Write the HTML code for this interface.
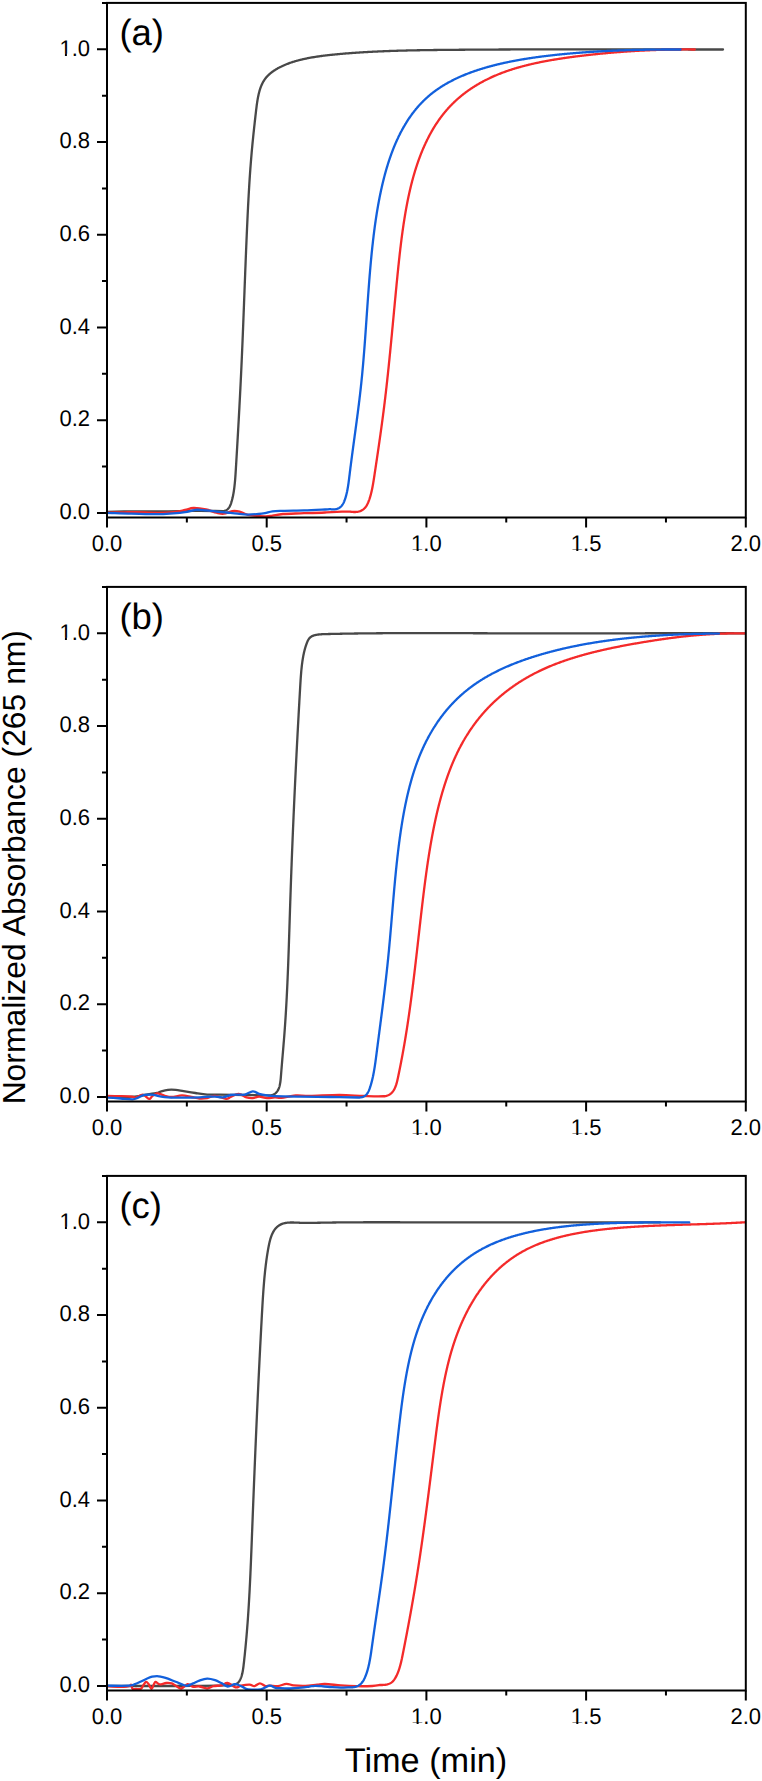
<!DOCTYPE html><html><head><meta charset="utf-8"><style>html,body{margin:0;padding:0;background:#fff;}svg{display:block}text{font-family:"Liberation Sans",sans-serif;fill:#000;text-rendering:geometricPrecision}</style></head><body>
<svg width="762" height="1781" viewBox="0 0 762 1781">
<rect width="762" height="1781" fill="#fff"/>
<path d="M107.0,511.8 C111.9,511.7 127.7,511.4 136.5,511.3 C145.3,511.2 151.9,511.5 160.0,511.5 C168.1,511.5 178.3,511.3 185.0,511.2 C191.7,511.1 195.0,510.8 200.0,510.8 C205.0,510.8 211.2,510.9 215.0,511.0 C218.8,511.1 221.6,511.1 222.9,511.1 L222.93,511.13 223.64,511.04 224.30,510.90 224.93,510.73 225.51,510.51 226.06,510.26 226.58,509.98 227.06,509.66 227.51,509.31 227.93,508.93 228.32,508.52 228.69,508.09 229.03,507.63 229.35,507.15 229.64,506.64 229.92,506.12 230.18,505.58 230.42,505.02 230.65,504.45 230.87,503.87 231.07,503.27 231.27,502.67 231.45,502.05 231.64,501.44 231.81,500.81 231.98,500.18 232.15,499.55 232.31,498.91 232.46,498.26 232.62,497.62 232.76,496.96 232.90,496.30 233.04,495.64 233.17,494.97 233.30,494.30 233.42,493.62 233.54,492.94 233.65,492.25 233.76,491.56 233.87,490.87 233.97,490.17 234.07,489.47 234.17,488.77 234.26,488.06 234.35,487.35 234.44,486.64 234.52,485.92 234.60,485.20 234.68,484.48 234.75,483.75 234.82,483.02 234.89,482.29 234.96,481.56 235.03,480.83 235.09,480.09 235.15,479.35 235.21,478.61 235.27,477.87 235.33,477.13 235.38,476.38 235.43,475.63 235.49,474.89 235.54,474.14 235.59,473.39 235.63,472.63 235.68,471.88 235.73,471.13 235.78,470.38 235.82,469.62 235.87,468.87 235.91,468.11 235.96,467.36 236.00,466.60 236.05,465.85 236.10,465.10 236.14,464.34 236.19,463.59 236.23,462.83 236.28,462.08 236.32,461.32 236.37,460.57 236.41,459.81 236.46,459.06 236.50,458.30 236.55,457.55 236.59,456.79 236.64,456.04 236.68,455.28 236.73,454.53 236.77,453.77 236.81,453.01 236.86,452.26 236.90,451.50 236.95,450.75 236.99,449.99 237.04,449.24 237.08,448.48 237.13,447.73 237.17,446.97 237.21,446.21 237.26,445.46 237.30,444.70 237.35,443.95 237.39,443.19 237.43,442.43 237.48,441.68 237.52,440.92 237.56,440.16 237.61,439.41 237.65,438.65 237.70,437.90 237.74,437.14 237.78,436.38 237.83,435.63 237.87,434.87 237.91,434.11 237.95,433.35 238.00,432.60 238.04,431.84 238.08,431.08 238.13,430.33 238.17,429.57 238.21,428.81 238.25,428.05 238.30,427.30 238.34,426.54 238.38,425.78 238.42,425.02 238.47,424.27 238.51,423.51 238.55,422.75 238.59,421.99 238.64,421.24 238.68,420.48 238.72,419.72 238.76,418.96 238.80,418.20 238.84,417.44 238.89,416.69 238.93,415.93 238.97,415.17 239.01,414.41 239.05,413.65 239.09,412.89 239.13,412.13 239.17,411.37 239.22,410.62 239.26,409.86 239.30,409.10 239.34,408.34 239.38,407.58 239.42,406.82 239.46,406.06 239.50,405.30 239.54,404.54 239.58,403.78 239.62,403.02 239.66,402.26 239.70,401.50 239.74,400.74 239.78,399.98 239.82,399.22 239.86,398.46 239.90,397.70 239.94,396.94 239.98,396.18 240.02,395.42 240.06,394.66 240.09,393.89 240.13,393.13 240.17,392.37 240.21,391.61 240.25,390.85 240.29,390.09 240.33,389.33 240.37,388.57 240.40,387.80 240.44,387.04 240.48,386.28 240.52,385.52 240.56,384.76 240.59,383.99 240.63,383.23 240.67,382.47 240.71,381.71 240.74,380.94 240.78,380.18 240.82,379.42 240.86,378.66 240.89,377.89 240.93,377.13 240.97,376.37 241.00,375.60 241.04,374.84 241.08,374.08 241.11,373.31 241.15,372.55 241.18,371.78 241.22,371.02 241.26,370.26 241.29,369.49 241.33,368.73 241.36,367.96 241.40,367.20 241.43,366.43 241.47,365.67 241.50,364.90 241.54,364.14 241.57,363.37 241.61,362.61 241.64,361.84 241.68,361.08 241.71,360.31 241.75,359.55 241.78,358.78 241.81,358.01 241.85,357.25 241.88,356.48 241.92,355.72 241.95,354.95 241.98,354.18 242.02,353.42 242.05,352.65 242.08,351.88 242.12,351.12 242.15,350.35 242.18,349.58 242.21,348.81 242.25,348.05 242.28,347.28 242.31,346.51 242.34,345.74 242.38,344.98 242.41,344.21 242.44,343.44 242.47,342.67 242.51,341.91 242.54,341.14 242.57,340.37 242.60,339.60 242.63,338.83 242.66,338.06 242.70,337.30 242.73,336.53 242.76,335.76 242.79,334.99 242.82,334.22 242.85,333.45 242.88,332.68 242.91,331.91 242.94,331.14 242.98,330.38 243.01,329.61 243.04,328.84 243.07,328.07 243.10,327.30 243.13,326.53 243.16,325.76 243.19,324.99 243.22,324.22 243.25,323.45 243.28,322.68 243.31,321.91 243.34,321.14 243.37,320.37 243.40,319.60 243.43,318.83 243.46,318.06 243.49,317.29 243.52,316.52 243.55,315.75 243.58,314.98 243.61,314.21 243.64,313.44 243.67,312.67 243.70,311.90 243.73,311.13 243.76,310.36 243.79,309.59 243.82,308.82 243.85,308.05 243.88,307.28 243.91,306.51 243.94,305.74 243.97,304.97 244.00,304.20 244.03,303.43 244.06,302.66 244.08,301.88 244.11,301.11 244.14,300.34 244.17,299.57 244.20,298.80 244.23,298.03 244.26,297.26 244.29,296.49 244.32,295.72 244.35,294.95 244.38,294.18 244.41,293.41 244.44,292.64 244.47,291.87 244.50,291.10 244.52,290.32 244.55,289.55 244.58,288.78 244.61,288.01 244.64,287.24 244.67,286.47 244.70,285.70 244.73,284.93 244.76,284.16 244.79,283.39 244.82,282.62 244.85,281.85 244.88,281.08 244.91,280.31 244.94,279.54 244.97,278.77 245.00,278.00 245.03,277.23 245.06,276.46 245.09,275.69 245.12,274.92 245.15,274.15 245.18,273.38 245.20,272.60 245.23,271.83 245.26,271.06 245.29,270.29 245.32,269.52 245.35,268.75 245.38,267.98 245.42,267.22 245.45,266.45 245.48,265.68 245.51,264.91 245.54,264.14 245.57,263.37 245.60,262.60 245.63,261.83 245.66,261.06 245.69,260.29 245.72,259.52 245.75,258.75 245.78,257.98 245.81,257.21 245.84,256.44 245.87,255.67 245.91,254.91 245.94,254.14 245.97,253.37 246.00,252.60 246.03,251.83 246.06,251.06 246.09,250.29 246.12,249.52 246.16,248.76 246.19,247.99 246.22,247.22 246.25,246.45 246.28,245.68 246.32,244.92 246.35,244.15 246.38,243.38 246.41,242.61 246.45,241.85 246.48,241.08 246.51,240.31 246.54,239.54 246.58,238.78 246.61,238.01 246.64,237.24 246.68,236.48 246.71,235.71 246.74,234.94 246.78,234.18 246.81,233.41 246.84,232.64 246.88,231.88 246.91,231.11 246.94,230.34 246.98,229.58 247.01,228.81 247.05,228.05 247.08,227.28 247.12,226.52 247.15,225.75 247.19,224.99 247.22,224.22 247.26,223.46 247.29,222.69 247.33,221.93 247.36,221.16 247.40,220.40 247.43,219.63 247.47,218.87 247.50,218.10 247.54,217.34 247.58,216.58 247.61,215.81 247.65,215.05 247.69,214.29 247.72,213.52 247.76,212.76 247.80,212.00 247.83,211.23 247.87,210.47 247.91,209.71 247.95,208.95 247.99,208.19 248.02,207.42 248.06,206.66 248.10,205.90 248.14,205.14 248.18,204.38 248.22,203.62 248.26,202.86 248.30,202.10 248.34,201.34 248.38,200.58 248.42,199.82 248.46,199.06 248.50,198.30 248.54,197.54 248.59,196.79 248.63,196.03 248.67,195.27 248.71,194.51 248.75,193.75 248.80,193.00 248.84,192.24 248.88,191.48 248.93,190.73 248.97,189.97 249.02,189.22 249.06,188.46 249.11,187.71 249.15,186.95 249.20,186.20 249.24,185.44 249.29,184.69 249.34,183.94 249.38,183.18 249.43,182.43 249.48,181.68 249.53,180.93 249.58,180.18 249.63,179.43 249.67,178.67 249.72,177.92 249.77,177.17 249.82,176.42 249.88,175.68 249.93,174.93 249.98,174.18 250.03,173.43 250.08,172.68 250.13,171.93 250.19,171.19 250.24,170.44 250.30,169.70 250.35,168.95 250.40,168.20 250.46,167.46 250.52,166.72 250.57,165.97 250.63,165.23 250.69,164.49 250.74,163.74 250.80,163.00 250.86,162.26 250.92,161.52 250.98,160.78 251.04,160.04 251.10,159.30 251.16,158.56 251.22,157.82 251.28,157.08 251.35,156.35 251.41,155.61 251.47,154.87 251.54,154.14 251.60,153.40 251.66,152.66 251.73,151.93 251.80,151.20 251.86,150.46 251.93,149.73 252.00,149.00 252.06,148.26 252.13,147.53 252.20,146.80 252.27,146.07 252.34,145.34 252.41,144.61 252.48,143.88 252.55,143.15 252.62,142.42 252.70,141.70 252.77,140.97 252.84,140.24 252.91,139.51 252.99,138.79 253.06,138.06 253.13,137.33 253.21,136.61 253.28,135.88 253.36,135.16 253.43,134.43 253.51,133.71 253.59,132.99 253.66,132.26 253.74,131.54 253.82,130.82 253.89,130.09 253.97,129.37 254.05,128.65 254.13,127.93 254.21,127.21 254.29,126.49 254.36,125.76 254.44,125.04 254.52,124.32 254.60,123.60 254.68,122.88 254.76,122.16 254.84,121.44 254.92,120.72 255.00,120.00 255.09,119.29 255.17,118.57 255.25,117.85 255.33,117.13 255.41,116.41 255.49,115.69 255.58,114.98 255.66,114.26 255.74,113.54 255.82,112.82 255.91,112.11 255.99,111.39 256.07,110.67 256.16,109.96 256.24,109.24 256.33,108.53 256.42,107.82 256.51,107.11 256.60,106.40 256.69,105.69 256.78,104.98 256.88,104.28 256.98,103.58 257.08,102.88 257.19,102.19 257.29,101.49 257.40,100.80 257.52,100.12 257.63,99.43 257.75,98.75 257.88,98.08 258.00,97.40 258.13,96.73 258.27,96.07 258.41,95.41 258.55,94.75 258.70,94.10 258.86,93.46 259.01,92.81 259.18,92.18 259.35,91.55 259.52,90.92 259.70,90.30 259.89,89.69 260.08,89.08 260.28,88.48 260.48,87.88 260.69,87.29 260.91,86.71 261.14,86.14 261.37,85.57 261.61,85.01 261.85,84.45 262.10,83.90 262.37,83.37 262.63,82.83 262.91,82.31 263.20,81.80 263.49,81.29 263.79,80.79 264.10,80.30 264.42,79.82 264.75,79.35 265.09,78.89 265.43,78.43 265.78,77.98 266.14,77.54 266.51,77.11 266.89,76.69 267.27,76.27 267.66,75.86 268.06,75.46 268.46,75.06 268.87,74.67 269.29,74.29 269.71,73.91 270.14,73.54 270.58,73.18 271.02,72.82 271.47,72.47 271.92,72.12 272.38,71.78 272.85,71.45 273.32,71.12 273.79,70.79 274.27,70.47 274.76,70.16 275.25,69.85 275.74,69.54 276.24,69.24 276.74,68.94 277.25,68.65 277.76,68.36 278.27,68.07 278.79,67.79 279.32,67.52 279.84,67.24 280.37,66.97 280.91,66.71 281.44,66.44 281.98,66.18 282.53,65.93 283.08,65.68 283.63,65.43 284.19,65.19 284.75,64.95 285.31,64.71 285.88,64.48 286.45,64.25 287.02,64.02 287.60,63.80 288.18,63.58 288.76,63.36 289.35,63.15 289.94,62.94 290.53,62.73 291.13,62.53 291.73,62.33 292.33,62.13 292.94,61.94 293.55,61.75 294.16,61.56 294.77,61.37 295.39,61.19 296.01,61.01 296.63,60.83 297.26,60.66 297.89,60.49 298.52,60.32 299.16,60.16 299.79,59.99 300.44,59.84 301.08,59.68 301.72,59.52 302.37,59.37 303.02,59.22 303.67,59.07 304.33,58.93 304.99,58.79 305.65,58.65 306.31,58.51 306.97,58.37 307.64,58.24 308.31,58.11 308.98,57.98 309.66,57.86 310.33,57.73 311.01,57.61 311.69,57.49 312.37,57.37 313.06,57.26 313.74,57.14 314.43,57.03 315.12,56.92 315.81,56.81 316.50,56.70 317.20,56.60 317.89,56.49 318.59,56.39 319.29,56.29 320.00,56.20 320.70,56.10 321.40,56.00 322.11,55.91 322.82,55.82 323.53,55.73 324.24,55.64 324.95,55.55 325.66,55.46 326.38,55.38 327.10,55.30 327.81,55.21 328.53,55.13 329.25,55.05 329.97,54.97 330.70,54.90 331.42,54.82 332.14,54.74 332.87,54.67 333.59,54.59 334.32,54.52 335.05,54.45 335.78,54.38 336.51,54.31 337.24,54.24 337.97,54.17 338.70,54.10 339.43,54.03 340.17,53.97 340.90,53.90 341.64,53.84 342.37,53.77 343.11,53.71 343.85,53.65 344.58,53.58 345.32,53.52 346.06,53.46 346.80,53.40 347.54,53.34 348.28,53.28 349.03,53.23 349.77,53.17 350.51,53.11 351.26,53.06 352.00,53.00 352.75,52.95 353.49,52.89 354.24,52.84 354.99,52.79 355.74,52.74 356.48,52.68 357.23,52.63 357.98,52.58 358.73,52.53 359.49,52.49 360.24,52.44 360.99,52.39 361.74,52.34 362.50,52.30 363.25,52.25 364.01,52.21 364.76,52.16 365.52,52.12 366.27,52.07 367.03,52.03 367.79,51.99 368.55,51.95 369.31,51.91 370.07,51.87 370.83,51.83 371.59,51.79 372.35,51.75 373.11,51.71 373.87,51.67 374.63,51.63 375.40,51.60 376.16,51.56 376.93,51.53 377.69,51.49 378.46,51.46 379.22,51.42 379.99,51.39 380.75,51.35 381.52,51.32 382.29,51.29 383.06,51.26 383.83,51.23 384.60,51.20 385.37,51.17 386.14,51.14 386.91,51.11 387.68,51.08 388.45,51.05 389.22,51.02 389.99,50.99 390.77,50.97 391.54,50.94 392.31,50.91 393.09,50.89 393.86,50.86 394.64,50.84 395.41,50.81 396.19,50.79 396.96,50.76 397.74,50.74 398.52,50.72 399.30,50.70 400.07,50.67 400.85,50.65 401.63,50.63 402.41,50.61 403.19,50.59 403.97,50.57 404.75,50.55 405.53,50.53 406.31,50.51 407.09,50.49 407.87,50.47 408.65,50.45 409.44,50.44 410.22,50.42 411.00,50.40 411.78,50.38 412.57,50.37 413.35,50.35 414.13,50.33 414.92,50.32 415.70,50.30 416.49,50.29 417.27,50.27 418.06,50.26 418.84,50.24 419.63,50.23 420.42,50.22 421.20,50.20 421.99,50.19 422.78,50.18 423.56,50.16 424.35,50.15 425.14,50.14 425.93,50.13 426.71,50.11 427.50,50.10 428.29,50.09 429.08,50.08 429.87,50.07 430.66,50.06 431.45,50.05 432.24,50.04 433.03,50.03 433.82,50.02 434.61,50.01 435.40,50.00 436.19,49.99 436.98,49.98 437.77,49.97 438.56,49.96 439.35,49.95 440.14,49.94 440.93,49.93 441.73,49.93 442.52,49.92 443.31,49.91 444.10,49.90 444.89,49.89 445.69,49.89 446.48,49.88 447.27,49.87 448.06,49.86 448.86,49.86 449.65,49.85 450.44,49.84 451.24,49.84 452.03,49.83 452.82,49.82 453.61,49.81 454.41,49.81 455.20,49.80 455.99,49.79 456.79,49.79 457.58,49.78 458.38,49.78 459.17,49.77 459.96,49.76 460.76,49.76 461.55,49.75 462.34,49.74 463.14,49.74 463.93,49.73 464.73,49.73 465.52,49.72 466.31,49.71 467.11,49.71 467.90,49.70 468.70,49.70 469.49,49.69 470.29,49.69 471.08,49.68 471.88,49.68 472.67,49.67 473.46,49.66 474.26,49.66 475.05,49.65 475.85,49.65 476.64,49.64 477.44,49.64 478.23,49.63 479.03,49.63 479.82,49.62 480.62,49.62 481.41,49.61 482.21,49.61 483.01,49.61 483.80,49.60 484.60,49.60 485.39,49.59 486.19,49.59 486.98,49.58 487.78,49.58 488.57,49.57 489.37,49.57 490.17,49.57 490.96,49.56 491.76,49.56 492.55,49.55 493.35,49.55 494.15,49.55 494.94,49.54 495.74,49.54 496.53,49.53 497.33,49.53 498.13,49.53 498.92,49.52 499.72,49.52 500.52,49.52 501.31,49.51 502.11,49.51 502.91,49.51 503.70,49.50 504.50,49.50 505.30,49.50 506.09,49.49 506.89,49.49 507.69,49.49 508.48,49.48 509.28,49.48 510.08,49.48 510.87,49.47 511.67,49.47 512.47,49.47 513.27,49.47 514.06,49.46 514.86,49.46 515.66,49.46 516.45,49.45 517.25,49.45 518.05,49.45 518.85,49.45 519.64,49.44 520.44,49.44 521.24,49.44 522.04,49.44 522.84,49.44 523.63,49.43 524.43,49.43 525.23,49.43 526.03,49.43 526.82,49.42 527.62,49.42 528.42,49.42 529.22,49.42 530.02,49.42 530.81,49.41 531.61,49.41 532.41,49.41 533.21,49.41 534.01,49.41 534.81,49.41 535.60,49.40 536.40,49.40 537.20,49.40 538.00,49.40 538.80,49.40 539.60,49.40 540.39,49.39 541.19,49.39 541.99,49.39 542.79,49.39 543.59,49.39 544.39,49.39 545.19,49.39 545.99,49.39 546.78,49.38 547.58,49.38 548.38,49.38 549.18,49.38 549.98,49.38 550.78,49.38 551.58,49.38 552.38,49.38 553.18,49.38 553.98,49.38 554.77,49.37 555.57,49.37 556.37,49.37 557.17,49.37 557.97,49.37 558.77,49.37 559.57,49.37 560.37,49.37 561.17,49.37 561.97,49.37 562.77,49.37 563.57,49.37 564.37,49.37 565.17,49.37 565.97,49.37 566.77,49.37 567.56,49.36 568.36,49.36 569.16,49.36 569.96,49.36 570.76,49.36 571.56,49.36 572.36,49.36 573.16,49.36 573.96,49.36 574.76,49.36 575.56,49.36 576.36,49.36 577.16,49.36 577.96,49.36 578.76,49.36 579.56,49.36 580.36,49.36 581.16,49.36 581.96,49.36 582.76,49.36 583.56,49.36 584.36,49.36 585.16,49.36 585.96,49.36 586.76,49.36 587.56,49.36 588.36,49.36 589.16,49.36 589.96,49.36 590.76,49.36 591.56,49.36 592.37,49.37 593.17,49.37 593.97,49.37 594.77,49.37 595.57,49.37 596.37,49.37 597.17,49.37 597.97,49.37 598.77,49.37 599.57,49.37 600.37,49.37 601.17,49.37 601.97,49.37 602.77,49.37 603.57,49.37 604.37,49.37 605.17,49.37 605.97,49.37 606.77,49.37 607.57,49.37 608.38,49.38 609.18,49.38 609.98,49.38 610.78,49.38 611.58,49.38 612.38,49.38 613.18,49.38 613.98,49.38 614.78,49.38 615.58,49.38 616.38,49.38 617.18,49.38 617.98,49.38 618.79,49.39 619.59,49.39 620.39,49.39 621.19,49.39 621.99,49.39 622.79,49.39 623.59,49.39 624.39,49.39 625.19,49.39 625.99,49.39 626.79,49.39 627.60,49.40 628.40,49.40 629.20,49.40 630.00,49.40 630.80,49.40 631.60,49.40 632.40,49.40 633.20,49.40 634.00,49.40 634.80,49.40 635.61,49.41 636.41,49.41 637.21,49.41 638.01,49.41 638.81,49.41 639.61,49.41 640.41,49.41 641.21,49.41 642.01,49.41 642.82,49.42 643.62,49.42 644.42,49.42 645.22,49.42 646.02,49.42 646.82,49.42 647.62,49.42 648.42,49.42 649.22,49.42 650.02,49.42 650.83,49.43 651.63,49.43 652.43,49.43 653.23,49.43 654.03,49.43 654.83,49.43 655.63,49.43 656.43,49.43 657.23,49.43 658.04,49.44 658.84,49.44 659.64,49.44 660.44,49.44 661.24,49.44 662.04,49.44 662.84,49.44 663.64,49.44 664.44,49.44 665.25,49.45 666.05,49.45 666.85,49.45 667.65,49.45 668.45,49.45 669.25,49.45 670.05,49.45 670.85,49.45 671.65,49.45 672.46,49.46 673.26,49.46 674.06,49.46 674.86,49.46 675.66,49.46 676.46,49.46 677.26,49.46 678.06,49.46 678.86,49.46 679.66,49.46 680.47,49.47 681.27,49.47 682.07,49.47 682.87,49.47 683.67,49.47 684.47,49.47 685.27,49.47 686.07,49.47 686.87,49.47 687.67,49.47 688.48,49.48 689.28,49.48 690.08,49.48 690.88,49.48 691.68,49.48 692.48,49.48 693.28,49.48 694.08,49.48 694.88,49.48 695.68,49.48 696.48,49.48 697.28,49.48 698.09,49.49 698.89,49.49 699.69,49.49 700.49,49.49 701.29,49.49 702.09,49.49 702.89,49.49 703.69,49.49 704.49,49.49 705.29,49.49 706.09,49.49 706.89,49.49 707.69,49.49 708.49,49.49 709.29,49.49 710.09,49.49 710.90,49.50 711.70,49.50 712.50,49.50 713.30,49.50 714.10,49.50 714.90,49.50 715.70,49.50 716.50,49.50 717.30,49.50 718.10,49.50 718.90,49.50 719.70,49.50 720.50,49.50 721.30,49.50 722.10,49.50 722.90,49.50 723.00,49.50" fill="none" stroke="#484848" stroke-width="2.30" stroke-linejoin="round" stroke-linecap="round"/>
<path d="M107.0,512.6 C110.0,512.5 120.1,512.4 125.0,512.3 C129.9,512.2 131.1,512.1 136.5,512.2 C141.9,512.3 151.4,512.8 157.5,512.8 C163.6,512.8 168.6,512.7 173.2,512.2 C177.8,511.7 181.6,510.7 185.0,510.0 C188.4,509.3 189.9,508.1 193.4,508.0 C196.9,507.9 202.2,508.7 206.0,509.5 C209.8,510.3 213.5,512.0 216.5,512.7 C219.5,513.4 221.2,514.0 223.8,513.7 C226.4,513.4 229.6,511.5 232.2,511.1 C234.8,510.8 237.0,511.0 239.6,511.6 C242.2,512.2 243.8,514.0 248.0,514.8 C252.2,515.6 260.9,516.2 265.0,516.3 C269.1,516.4 269.5,516.0 272.5,515.6 C275.5,515.2 277.8,514.4 283.0,514.0 C288.2,513.6 297.0,513.5 304.0,513.2 C311.0,513.0 318.7,512.8 325.0,512.5 C331.3,512.2 337.8,511.8 342.0,511.6 C346.2,511.5 348.8,511.6 350.2,511.6 L350.20,511.60 351.15,511.75 352.06,511.86 352.94,511.94 353.79,511.99 354.61,512.01 355.39,511.99 356.15,511.95 356.88,511.88 357.58,511.78 358.25,511.65 358.90,511.50 359.52,511.32 360.12,511.12 360.69,510.89 361.24,510.64 361.77,510.37 362.27,510.07 362.75,509.75 363.22,509.42 363.66,509.06 364.08,508.68 364.49,508.29 364.88,507.88 365.25,507.45 365.60,507.00 365.94,506.54 366.27,506.07 366.58,505.58 366.88,505.08 367.16,504.56 367.44,504.04 367.70,503.50 367.95,502.95 368.20,502.40 368.43,501.83 368.66,501.26 368.88,500.68 369.10,500.10 369.30,499.50 369.51,498.91 369.70,498.30 369.90,497.70 370.09,497.09 370.27,496.47 370.45,495.85 370.62,495.22 370.79,494.59 370.96,493.96 371.12,493.32 371.28,492.68 371.43,492.03 371.58,491.38 371.73,490.73 371.87,490.07 372.01,489.41 372.15,488.75 372.29,488.09 372.42,487.42 372.55,486.75 372.67,486.07 372.80,485.40 372.92,484.72 373.04,484.04 373.16,483.36 373.27,482.67 373.39,481.99 373.50,481.30 373.61,480.61 373.72,479.92 373.83,479.23 373.94,478.54 374.05,477.85 374.15,477.15 374.26,476.46 374.36,475.76 374.47,475.07 374.57,474.37 374.68,473.68 374.78,472.98 374.89,472.29 374.99,471.59 375.10,470.90 375.20,470.20 375.31,469.51 375.41,468.81 375.52,468.12 375.62,467.42 375.72,466.72 375.83,466.03 375.93,465.33 376.04,464.64 376.14,463.94 376.24,463.24 376.35,462.55 376.45,461.85 376.55,461.15 376.66,460.46 376.76,459.76 376.87,459.07 376.97,458.37 377.07,457.67 377.17,456.97 377.28,456.28 377.38,455.58 377.48,454.88 377.59,454.19 377.69,453.49 377.79,452.79 377.89,452.09 378.00,451.40 378.10,450.70 378.20,450.00 378.30,449.30 378.40,448.60 378.51,447.91 378.61,447.21 378.71,446.51 378.81,445.81 378.91,445.11 379.01,444.41 379.11,443.71 379.21,443.01 379.31,442.31 379.41,441.61 379.51,440.91 379.61,440.21 379.71,439.51 379.81,438.81 379.91,438.11 380.01,437.41 380.11,436.71 380.21,436.01 380.31,435.31 380.41,434.61 380.51,433.91 380.60,433.20 380.70,432.50 380.80,431.80 380.90,431.10 380.99,430.39 381.09,429.69 381.19,428.99 381.28,428.28 381.38,427.58 381.48,426.88 381.57,426.17 381.67,425.47 381.77,424.77 381.86,424.06 381.96,423.36 382.05,422.65 382.15,421.95 382.24,421.24 382.33,420.53 382.43,419.83 382.52,419.12 382.62,418.42 382.71,417.71 382.80,417.00 382.90,416.30 382.99,415.59 383.08,414.88 383.17,414.17 383.26,413.46 383.36,412.76 383.45,412.05 383.54,411.34 383.63,410.63 383.72,409.92 383.81,409.21 383.90,408.50 383.99,407.79 384.08,407.08 384.17,406.37 384.26,405.66 384.34,404.94 384.43,404.23 384.52,403.52 384.61,402.81 384.69,402.09 384.78,401.38 384.87,400.67 384.95,399.95 385.04,399.24 385.12,398.52 385.21,397.81 385.30,397.10 385.38,396.38 385.46,395.66 385.55,394.95 385.63,394.23 385.72,393.52 385.80,392.80 385.88,392.08 385.97,391.37 386.05,390.65 386.13,389.93 386.21,389.21 386.29,388.49 386.38,387.78 386.46,387.06 386.54,386.34 386.62,385.62 386.70,384.90 386.78,384.18 386.86,383.46 386.94,382.74 387.02,382.02 387.10,381.30 387.18,380.58 387.26,379.86 387.33,379.13 387.41,378.41 387.49,377.69 387.57,376.97 387.65,376.25 387.72,375.52 387.80,374.80 387.88,374.08 387.96,373.36 388.03,372.63 388.11,371.91 388.19,371.19 388.26,370.46 388.34,369.74 388.41,369.01 388.49,368.29 388.56,367.56 388.64,366.84 388.71,366.11 388.79,365.39 388.86,364.66 388.94,363.94 389.01,363.21 389.09,362.49 389.16,361.76 389.23,361.03 389.31,360.31 389.38,359.58 389.45,358.85 389.53,358.13 389.60,357.40 389.67,356.67 389.75,355.95 389.82,355.22 389.89,354.49 389.96,353.76 390.04,353.04 390.11,352.31 390.18,351.58 390.25,350.85 390.32,350.12 390.40,349.40 390.47,348.67 390.54,347.94 390.61,347.21 390.68,346.48 390.75,345.75 390.82,345.02 390.89,344.29 390.96,343.56 391.03,342.83 391.11,342.11 391.18,341.38 391.25,340.65 391.32,339.92 391.39,339.19 391.46,338.46 391.53,337.73 391.60,337.00 391.67,336.27 391.74,335.54 391.81,334.81 391.88,334.08 391.95,333.35 392.01,332.61 392.08,331.88 392.15,331.15 392.22,330.42 392.29,329.69 392.36,328.96 392.43,328.23 392.50,327.50 392.57,326.77 392.64,326.04 392.71,325.31 392.78,324.58 392.84,323.84 392.91,323.11 392.98,322.38 393.05,321.65 393.12,320.92 393.19,320.19 393.26,319.46 393.33,318.73 393.40,318.00 393.46,317.26 393.53,316.53 393.60,315.80 393.67,315.07 393.74,314.34 393.81,313.61 393.88,312.88 393.95,312.15 394.01,311.41 394.08,310.68 394.15,309.95 394.22,309.22 394.29,308.49 394.36,307.76 394.43,307.03 394.50,306.30 394.57,305.57 394.64,304.84 394.70,304.10 394.77,303.37 394.84,302.64 394.91,301.91 394.98,301.18 395.05,300.45 395.12,299.72 395.19,298.99 395.26,298.26 395.33,297.53 395.40,296.80 395.47,296.07 395.54,295.34 395.61,294.61 395.68,293.88 395.75,293.15 395.82,292.42 395.89,291.69 395.96,290.96 396.03,290.23 396.10,289.50 396.17,288.77 396.24,288.04 396.31,287.31 396.38,286.58 396.45,285.85 396.52,285.12 396.59,284.39 396.66,283.66 396.73,282.93 396.81,282.21 396.88,281.48 396.95,280.75 397.02,280.02 397.09,279.29 397.16,278.56 397.24,277.84 397.31,277.11 397.38,276.38 397.45,275.65 397.53,274.93 397.60,274.20 397.67,273.47 397.75,272.75 397.82,272.02 397.89,271.29 397.97,270.57 398.04,269.84 398.12,269.12 398.19,268.39 398.26,267.66 398.34,266.94 398.41,266.21 398.49,265.49 398.57,264.77 398.64,264.04 398.72,263.32 398.80,262.60 398.87,261.87 398.95,261.15 399.03,260.43 399.11,259.71 399.18,258.98 399.26,258.26 399.34,257.54 399.42,256.82 399.50,256.10 399.58,255.38 399.66,254.66 399.74,253.94 399.82,253.22 399.90,252.50 399.99,251.79 400.07,251.07 400.15,250.35 400.24,249.64 400.32,248.92 400.40,248.20 400.49,247.49 400.57,246.77 400.66,246.06 400.74,245.34 400.83,244.63 400.92,243.92 401.01,243.21 401.09,242.49 401.18,241.78 401.27,241.07 401.36,240.36 401.45,239.65 401.54,238.94 401.63,238.23 401.73,237.53 401.82,236.82 401.91,236.11 402.00,235.40 402.10,234.70 402.19,233.99 402.29,233.29 402.39,232.59 402.48,231.88 402.58,231.18 402.68,230.48 402.78,229.78 402.88,229.08 402.98,228.38 403.08,227.68 403.18,226.98 403.28,226.28 403.38,225.58 403.48,224.88 403.59,224.19 403.69,223.49 403.80,222.80 403.91,222.11 404.01,221.41 404.12,220.72 404.23,220.03 404.34,219.34 404.45,218.65 404.56,217.96 404.67,217.27 404.78,216.58 404.90,215.90 405.01,215.21 405.12,214.52 405.24,213.84 405.36,213.16 405.47,212.47 405.59,211.79 405.71,211.11 405.83,210.43 405.95,209.75 406.07,209.07 406.20,208.40 406.32,207.72 406.44,207.04 406.57,206.37 406.70,205.70 406.82,205.02 406.95,204.35 407.08,203.68 407.21,203.01 407.34,202.34 407.47,201.67 407.60,201.00 407.74,200.34 407.87,199.67 408.01,199.01 408.15,198.35 408.28,197.68 408.42,197.02 408.56,196.36 408.70,195.70 408.84,195.04 408.99,194.39 409.13,193.73 409.28,193.08 409.42,192.42 409.57,191.77 409.72,191.12 409.87,190.47 410.02,189.82 410.17,189.17 410.32,188.52 410.48,187.88 410.63,187.23 410.79,186.59 410.94,185.94 411.10,185.30 411.26,184.66 411.42,184.02 411.59,183.39 411.75,182.75 411.91,182.11 412.08,181.48 412.24,180.84 412.41,180.21 412.58,179.58 412.75,178.95 412.92,178.32 413.10,177.70 413.27,177.07 413.45,176.45 413.62,175.82 413.80,175.20 413.98,174.58 414.16,173.96 414.34,173.34 414.52,172.72 414.71,172.11 414.89,171.49 415.08,170.88 415.27,170.27 415.46,169.66 415.65,169.05 415.84,168.44 416.03,167.83 416.22,167.22 416.42,166.62 416.62,166.02 416.82,165.42 417.02,164.82 417.22,164.22 417.42,163.62 417.62,163.02 417.83,162.43 418.03,161.83 418.24,161.24 418.45,160.65 418.66,160.06 418.87,159.47 419.09,158.89 419.30,158.30 419.52,157.72 419.73,157.13 419.95,156.55 420.17,155.97 420.40,155.40 420.62,154.82 420.84,154.24 421.07,153.67 421.30,153.10 421.53,152.53 421.76,151.96 421.99,151.39 422.22,150.82 422.46,150.26 422.69,149.69 422.93,149.13 423.17,148.57 423.41,148.01 423.65,147.45 423.90,146.90 424.14,146.34 424.39,145.79 424.64,145.24 424.88,144.68 425.14,144.14 425.39,143.59 425.64,143.04 425.90,142.50 426.16,141.96 426.42,141.42 426.68,140.88 426.94,140.34 427.20,139.80 427.47,139.27 427.73,138.73 428.00,138.20 428.27,137.67 428.54,137.14 428.82,136.62 429.09,136.09 429.37,135.57 429.65,135.05 429.93,134.53 430.21,134.01 430.49,133.49 430.77,132.97 431.06,132.46 431.35,131.95 431.64,131.44 431.93,130.93 432.22,130.42 432.52,129.92 432.81,129.41 433.11,128.91 433.41,128.41 433.71,127.91 434.01,127.41 434.32,126.92 434.63,126.43 434.93,125.93 435.24,125.44 435.55,124.95 435.87,124.47 436.18,123.98 436.50,123.50 436.82,123.02 437.14,122.54 437.46,122.06 437.78,121.58 438.11,121.11 438.44,120.64 438.77,120.17 439.10,119.70 439.43,119.23 439.76,118.76 440.10,118.30 440.44,117.84 440.78,117.38 441.12,116.92 441.46,116.46 441.81,116.01 442.16,115.56 442.50,115.10 442.86,114.66 443.21,114.21 443.56,113.76 443.92,113.32 444.28,112.88 444.64,112.44 445.00,112.00 445.36,111.56 445.73,111.13 446.10,110.70 446.47,110.27 446.84,109.84 447.21,109.41 447.59,108.99 447.96,108.56 448.34,108.14 448.72,107.72 449.11,107.31 449.49,106.89 449.88,106.48 450.27,106.07 450.66,105.66 451.05,105.25 451.45,104.85 451.84,104.44 452.24,104.04 452.64,103.64 453.04,103.24 453.45,102.85 453.85,102.45 454.26,102.06 454.67,101.67 455.08,101.28 455.50,100.90 455.91,100.51 456.33,100.13 456.75,99.75 457.17,99.37 457.59,98.99 458.02,98.62 458.45,98.25 458.88,97.88 459.31,97.51 459.74,97.14 460.17,96.77 460.61,96.41 461.05,96.05 461.49,95.69 461.93,95.33 462.37,94.97 462.82,94.62 463.27,94.27 463.72,93.92 464.17,93.57 464.62,93.22 465.08,92.88 465.53,92.53 465.99,92.19 466.45,91.85 466.91,91.51 467.38,91.18 467.84,90.84 468.31,90.51 468.78,90.18 469.25,89.85 469.73,89.53 470.20,89.20 470.68,88.88 471.16,88.56 471.64,88.24 472.12,87.92 472.60,87.60 473.09,87.29 473.58,86.98 474.07,86.67 474.56,86.36 475.05,86.05 475.54,85.74 476.04,85.44 476.54,85.14 477.04,84.84 477.54,84.54 478.05,84.25 478.55,83.95 479.06,83.66 479.57,83.37 480.08,83.08 480.59,82.79 481.10,82.50 481.62,82.22 482.14,81.94 482.66,81.66 483.18,81.38 483.70,81.10 484.23,80.83 484.75,80.55 485.28,80.28 485.81,80.01 486.34,79.74 486.88,79.48 487.41,79.21 487.95,78.95 488.49,78.69 489.03,78.43 489.57,78.17 490.11,77.91 490.66,77.66 491.20,77.40 491.75,77.15 492.30,76.90 492.85,76.65 493.41,76.41 493.96,76.16 494.52,75.92 495.08,75.68 495.64,75.44 496.20,75.20 496.77,74.97 497.33,74.73 497.90,74.50 498.47,74.27 499.04,74.04 499.61,73.81 500.18,73.58 500.76,73.36 501.34,73.14 501.92,72.92 502.50,72.70 503.08,72.48 503.66,72.26 504.25,72.05 504.83,71.83 505.42,71.62 506.01,71.41 506.61,71.21 507.20,71.00 507.79,70.79 508.39,70.59 508.99,70.39 509.59,70.19 510.19,69.99 510.79,69.79 511.40,69.60 512.00,69.40 512.61,69.21 513.22,69.02 513.83,68.83 514.44,68.64 515.06,68.46 515.67,68.27 516.29,68.09 516.90,67.90 517.52,67.72 518.14,67.54 518.77,67.37 519.39,67.19 520.02,67.02 520.64,66.84 521.27,66.67 521.90,66.50 522.53,66.33 523.16,66.16 523.79,65.99 524.43,65.83 525.06,65.66 525.70,65.50 526.34,65.34 526.98,65.18 527.62,65.02 528.26,64.86 528.91,64.71 529.55,64.55 530.20,64.40 530.85,64.25 531.50,64.10 532.15,63.95 532.80,63.80 533.45,63.65 534.10,63.50 534.76,63.36 535.41,63.21 536.07,63.07 536.73,62.93 537.39,62.79 538.05,62.65 538.71,62.51 539.37,62.37 540.04,62.24 540.70,62.10 541.37,61.97 542.04,61.84 542.70,61.70 543.37,61.57 544.04,61.44 544.72,61.32 545.39,61.19 546.06,61.06 546.74,60.94 547.41,60.81 548.09,60.69 548.77,60.57 549.45,60.45 550.13,60.33 550.81,60.21 551.49,60.09 552.17,59.97 552.85,59.85 553.54,59.74 554.22,59.62 554.91,59.51 555.60,59.40 556.29,59.29 556.97,59.17 557.66,59.06 558.36,58.96 559.05,58.85 559.74,58.74 560.43,58.63 561.13,58.53 561.82,58.42 562.52,58.32 563.21,58.21 563.91,58.11 564.61,58.01 565.31,57.91 566.01,57.81 566.71,57.71 567.41,57.61 568.11,57.51 568.81,57.41 569.52,57.32 570.22,57.22 570.93,57.13 571.63,57.03 572.34,56.94 573.04,56.84 573.75,56.75 574.46,56.66 575.17,56.57 575.88,56.48 576.59,56.39 577.30,56.30 578.01,56.21 578.72,56.12 579.43,56.03 580.15,55.95 580.86,55.86 581.58,55.78 582.29,55.69 583.01,55.61 583.72,55.52 584.44,55.44 585.15,55.35 585.87,55.27 586.59,55.19 587.31,55.11 588.03,55.03 588.75,54.95 589.47,54.87 590.19,54.79 590.91,54.71 591.63,54.63 592.35,54.55 593.07,54.47 593.80,54.40 594.52,54.32 595.24,54.24 595.97,54.17 596.69,54.09 597.42,54.02 598.14,53.94 598.87,53.87 599.60,53.80 600.33,53.73 601.05,53.65 601.78,53.58 602.51,53.51 603.24,53.44 603.97,53.37 604.70,53.30 605.44,53.24 606.17,53.17 606.90,53.10 607.63,53.03 608.37,52.97 609.10,52.90 609.84,52.84 610.57,52.77 611.31,52.71 612.04,52.64 612.78,52.58 613.52,52.52 614.26,52.46 615.00,52.40 615.74,52.34 616.48,52.28 617.22,52.22 617.96,52.16 618.70,52.10 619.44,52.04 620.19,51.99 620.93,51.93 621.67,51.87 622.42,51.82 623.16,51.76 623.91,51.71 624.66,51.66 625.40,51.60 626.15,51.55 626.90,51.50 627.65,51.45 628.40,51.40 629.15,51.35 629.90,51.30 630.65,51.25 631.40,51.20 632.15,51.15 632.91,51.11 633.66,51.06 634.42,51.02 635.17,50.97 635.93,50.93 636.68,50.88 637.44,50.84 638.20,50.80 638.96,50.76 639.71,50.71 640.47,50.67 641.23,50.63 641.99,50.59 642.76,50.56 643.52,50.52 644.28,50.48 645.04,50.44 645.81,50.41 646.57,50.37 647.34,50.34 648.10,50.30 648.87,50.27 649.64,50.24 650.40,50.20 651.17,50.17 651.94,50.14 652.71,50.11 653.48,50.08 654.25,50.05 655.03,50.03 655.80,50.00 656.57,49.97 657.35,49.95 658.12,49.92 658.89,49.89 659.67,49.87 660.45,49.85 661.22,49.82 662.00,49.80 662.78,49.78 663.56,49.76 664.34,49.74 665.12,49.72 665.90,49.70 666.68,49.68 667.47,49.67 668.25,49.65 669.03,49.63 669.82,49.62 670.60,49.60 671.39,49.59 672.18,49.58 672.97,49.57 673.75,49.55 674.54,49.54 675.33,49.53 676.12,49.52 676.91,49.51 677.71,49.51 678.50,49.50 679.29,49.49 680.09,49.49 680.88,49.48 681.68,49.48 682.47,49.47 683.27,49.47 684.07,49.47 684.86,49.46 685.66,49.46 686.46,49.46 687.26,49.46 688.07,49.47 688.87,49.47 689.67,49.47 690.47,49.47 691.28,49.48 692.08,49.48 692.89,49.49 693.70,49.50 694.50,49.50 694.81,49.51" fill="none" stroke="#f42a2a" stroke-width="2.30" stroke-linejoin="round" stroke-linecap="round"/>
<path d="M107.0,512.8 C111.0,512.9 122.8,513.4 131.2,513.6 C139.6,513.8 150.5,514.2 157.5,514.2 C164.5,514.2 168.6,513.7 173.2,513.4 C177.8,513.1 181.3,512.8 185.0,512.2 C188.7,511.6 192.0,510.1 195.5,509.8 C199.0,509.5 202.5,510.1 206.0,510.4 C209.5,510.7 213.0,511.2 216.5,511.6 C220.0,512.0 223.5,512.1 227.0,512.5 C230.5,512.9 234.0,513.4 237.5,513.7 C241.0,514.1 244.5,514.6 248.0,514.6 C251.5,514.6 255.7,514.2 258.5,514.0 C261.3,513.8 262.7,513.6 265.0,513.2 C267.3,512.8 269.5,511.8 272.5,511.4 C275.5,511.0 277.8,511.0 283.0,510.8 C288.2,510.6 297.0,510.6 304.0,510.4 C311.0,510.2 320.7,509.7 325.0,509.5 C329.3,509.3 329.2,509.2 330.0,509.1 L330.00,509.10 330.93,509.23 331.81,509.31 332.66,509.36 333.47,509.37 334.24,509.34 334.97,509.27 335.67,509.17 336.33,509.03 336.97,508.87 337.57,508.67 338.14,508.44 338.68,508.18 339.20,507.90 339.68,507.58 340.14,507.24 340.58,506.88 340.99,506.49 341.39,506.09 341.76,505.66 342.11,505.21 342.44,504.74 342.75,504.25 343.05,503.75 343.34,503.24 343.61,502.71 343.86,502.16 344.11,501.61 344.34,501.04 344.56,500.46 344.78,499.88 344.99,499.29 345.19,498.69 345.39,498.09 345.58,497.48 345.76,496.86 345.94,496.24 346.11,495.61 346.28,494.98 346.44,494.34 346.60,493.70 346.75,493.05 346.89,492.39 347.04,491.74 347.17,491.07 347.31,490.41 347.44,489.74 347.56,489.06 347.68,488.38 347.80,487.70 347.92,487.02 348.03,486.33 348.14,485.64 348.24,484.94 348.35,484.25 348.45,483.55 348.55,482.85 348.64,482.14 348.74,481.44 348.83,480.73 348.92,480.02 349.01,479.31 349.10,478.60 349.19,477.89 349.28,477.18 349.37,476.47 349.45,475.75 349.54,475.04 349.63,474.33 349.72,473.62 349.80,472.90 349.89,472.19 349.98,471.48 350.07,470.77 350.16,470.06 350.25,469.35 350.33,468.63 350.42,467.92 350.51,467.21 350.60,466.50 350.70,465.80 350.79,465.09 350.88,464.38 350.97,463.67 351.06,462.96 351.15,462.25 351.24,461.54 351.34,460.84 351.43,460.13 351.52,459.42 351.61,458.71 351.71,458.01 351.80,457.30 351.89,456.59 351.99,455.89 352.08,455.18 352.17,454.47 352.27,453.77 352.36,453.06 352.46,452.36 352.55,451.65 352.65,450.95 352.74,450.24 352.83,449.53 352.93,448.83 353.02,448.12 353.12,447.42 353.21,446.71 353.31,446.01 353.41,445.31 353.50,444.60 353.60,443.90 353.69,443.19 353.79,442.49 353.88,441.78 353.98,441.08 354.07,440.37 354.17,439.67 354.27,438.97 354.36,438.26 354.46,437.56 354.55,436.85 354.65,436.15 354.74,435.44 354.84,434.74 354.94,434.04 355.03,433.33 355.13,432.63 355.22,431.92 355.32,431.22 355.41,430.51 355.51,429.81 355.60,429.10 355.70,428.40 355.79,427.69 355.89,426.99 355.98,426.28 356.08,425.58 356.17,424.87 356.27,424.17 356.36,423.46 356.46,422.76 356.55,422.05 356.64,421.34 356.74,420.64 356.83,419.93 356.92,419.22 357.02,418.52 357.11,417.81 357.20,417.10 357.30,416.40 357.39,415.69 357.48,414.98 357.57,414.27 357.67,413.57 357.76,412.86 357.85,412.15 357.94,411.44 358.03,410.73 358.12,410.02 358.21,409.31 358.30,408.60 358.39,407.89 358.48,407.18 358.57,406.47 358.66,405.76 358.75,405.05 358.84,404.34 358.92,403.62 359.01,402.91 359.10,402.20 359.19,401.49 359.27,400.77 359.36,400.06 359.45,399.35 359.53,398.63 359.62,397.92 359.70,397.20 359.79,396.49 359.87,395.77 359.95,395.05 360.04,394.34 360.12,393.62 360.20,392.90 360.29,392.19 360.37,391.47 360.45,390.75 360.53,390.03 360.61,389.31 360.69,388.59 360.77,387.87 360.85,387.15 360.93,386.43 361.01,385.71 361.08,384.98 361.16,384.26 361.24,383.54 361.31,382.81 361.39,382.09 361.46,381.36 361.54,380.64 361.61,379.91 361.69,379.19 361.76,378.46 361.83,377.73 361.90,377.00 361.98,376.28 362.05,375.55 362.12,374.82 362.19,374.09 362.26,373.36 362.33,372.63 362.39,371.89 362.46,371.16 362.53,370.43 362.60,369.70 362.66,368.96 362.73,368.23 362.80,367.50 362.86,366.76 362.93,366.03 362.99,365.29 363.06,364.56 363.12,363.82 363.19,363.09 363.25,362.35 363.31,361.61 363.38,360.88 363.44,360.14 363.50,359.40 363.56,358.66 363.62,357.92 363.68,357.18 363.74,356.44 363.80,355.70 363.86,354.96 363.92,354.22 363.98,353.48 364.04,352.74 364.10,352.00 364.16,351.26 364.22,350.52 364.28,349.78 364.33,349.03 364.39,348.29 364.45,347.55 364.50,346.80 364.56,346.06 364.62,345.32 364.67,344.57 364.73,343.83 364.79,343.09 364.84,342.34 364.90,341.60 364.95,340.85 365.01,340.11 365.06,339.36 365.12,338.62 365.17,337.87 365.22,337.12 365.28,336.38 365.33,335.63 365.39,334.89 365.44,334.14 365.49,333.39 365.55,332.65 365.60,331.90 365.65,331.15 365.70,330.40 365.76,329.66 365.81,328.91 365.86,328.16 365.92,327.42 365.97,326.67 366.02,325.92 366.07,325.17 366.12,324.42 366.18,323.68 366.23,322.93 366.28,322.18 366.33,321.43 366.38,320.68 366.44,319.94 366.49,319.19 366.54,318.44 366.59,317.69 366.64,316.94 366.69,316.19 366.75,315.45 366.80,314.70 366.85,313.95 366.90,313.20 366.95,312.45 367.00,311.70 367.06,310.96 367.11,310.21 367.16,309.46 367.21,308.71 367.26,307.96 367.32,307.22 367.37,306.47 367.42,305.72 367.47,304.97 367.53,304.23 367.58,303.48 367.63,302.73 367.68,301.98 367.74,301.24 367.79,300.49 367.84,299.74 367.90,299.00 367.95,298.25 368.00,297.50 368.06,296.76 368.11,296.01 368.16,295.26 368.22,294.52 368.27,293.77 368.33,293.03 368.38,292.28 368.44,291.54 368.49,290.79 368.55,290.05 368.60,289.30 368.66,288.56 368.71,287.81 368.77,287.07 368.82,286.32 368.88,285.58 368.94,284.84 368.99,284.09 369.05,283.35 369.11,282.61 369.17,281.87 369.23,281.13 369.28,280.38 369.34,279.64 369.40,278.90 369.46,278.16 369.52,277.42 369.58,276.68 369.64,275.94 369.70,275.20 369.76,274.46 369.82,273.72 369.88,272.98 369.95,272.25 370.01,271.51 370.07,270.77 370.13,270.03 370.20,269.30 370.26,268.56 370.32,267.82 370.39,267.09 370.45,266.35 370.52,265.62 370.58,264.88 370.65,264.15 370.72,263.42 370.78,262.68 370.85,261.95 370.92,261.22 370.99,260.49 371.05,259.75 371.12,259.02 371.19,258.29 371.26,257.56 371.33,256.83 371.40,256.10 371.47,255.37 371.55,254.65 371.62,253.92 371.69,253.19 371.76,252.46 371.84,251.74 371.91,251.01 371.99,250.29 372.06,249.56 372.14,248.84 372.21,248.11 372.29,247.39 372.37,246.67 372.45,245.95 372.53,245.23 372.61,244.51 372.69,243.79 372.77,243.07 372.85,242.35 372.93,241.63 373.01,240.91 373.09,240.19 373.18,239.48 373.26,238.76 373.34,238.04 373.43,237.33 373.52,236.62 373.60,235.90 373.69,235.19 373.78,234.48 373.87,233.77 373.95,233.05 374.04,232.34 374.13,231.63 374.23,230.93 374.32,230.22 374.41,229.51 374.50,228.80 374.60,228.10 374.69,227.39 374.79,226.69 374.88,225.98 374.98,225.28 375.08,224.58 375.18,223.88 375.27,223.17 375.37,222.47 375.48,221.78 375.58,221.08 375.68,220.38 375.78,219.68 375.89,218.99 375.99,218.29 376.09,217.59 376.20,216.90 376.31,216.21 376.42,215.52 376.52,214.82 376.63,214.13 376.74,213.44 376.85,212.75 376.97,212.07 377.08,211.38 377.19,210.69 377.31,210.01 377.42,209.32 377.54,208.64 377.65,207.95 377.77,207.27 377.89,206.59 378.01,205.91 378.13,205.23 378.25,204.55 378.37,203.87 378.50,203.20 378.62,202.52 378.75,201.85 378.87,201.17 379.00,200.50 379.13,199.83 379.26,199.16 379.39,198.49 379.52,197.82 379.65,197.15 379.78,196.48 379.92,195.82 380.05,195.15 380.19,194.49 380.32,193.82 380.46,193.16 380.60,192.50 380.74,191.84 380.88,191.18 381.02,190.52 381.16,189.86 381.31,189.21 381.45,188.55 381.60,187.90 381.75,187.25 381.89,186.59 382.04,185.94 382.19,185.29 382.35,184.65 382.50,184.00 382.65,183.35 382.81,182.71 382.96,182.06 383.12,181.42 383.28,180.78 383.44,180.14 383.60,179.50 383.76,178.86 383.92,178.22 384.08,177.58 384.25,176.95 384.41,176.31 384.58,175.68 384.75,175.05 384.92,174.42 385.09,173.79 385.26,173.16 385.44,172.54 385.61,171.91 385.79,171.29 385.96,170.66 386.14,170.04 386.32,169.42 386.50,168.80 386.68,168.18 386.86,167.56 387.05,166.95 387.23,166.33 387.42,165.72 387.61,165.11 387.80,164.50 387.99,163.89 388.18,163.28 388.37,162.67 388.57,162.07 388.76,161.46 388.96,160.86 389.16,160.26 389.36,159.66 389.56,159.06 389.76,158.46 389.97,157.87 390.17,157.27 390.38,156.68 390.59,156.09 390.79,155.49 391.01,154.91 391.22,154.32 391.43,153.73 391.65,153.15 391.86,152.56 392.08,151.98 392.30,151.40 392.52,150.82 392.74,150.24 392.96,149.66 393.19,149.09 393.42,148.52 393.64,147.94 393.87,147.37 394.10,146.80 394.34,146.24 394.57,145.67 394.81,145.11 395.04,144.54 395.28,143.98 395.52,143.42 395.76,142.86 396.01,142.31 396.25,141.75 396.50,141.20 396.74,140.64 396.99,140.09 397.24,139.54 397.50,139.00 397.75,138.45 398.01,137.91 398.26,137.36 398.52,136.82 398.78,136.28 399.04,135.74 399.31,135.21 399.57,134.67 399.84,134.14 400.11,133.61 400.38,133.08 400.65,132.55 400.92,132.02 401.20,131.50 401.48,130.98 401.75,130.45 402.03,129.93 402.32,129.42 402.60,128.90 402.89,128.39 403.17,127.87 403.46,127.36 403.75,126.85 404.05,126.35 404.34,125.84 404.64,125.34 404.93,124.83 405.23,124.33 405.53,123.83 405.84,123.34 406.14,122.84 406.45,122.35 406.76,121.86 407.07,121.37 407.38,120.88 407.69,120.39 408.01,119.91 408.33,119.43 408.65,118.95 408.97,118.47 409.29,117.99 409.62,117.52 409.94,117.04 410.27,116.57 410.60,116.10 410.93,115.63 411.27,115.17 411.61,114.71 411.94,114.24 412.28,113.78 412.63,113.33 412.97,112.87 413.32,112.42 413.66,111.96 414.02,111.52 414.37,111.07 414.72,110.62 415.08,110.18 415.43,109.73 415.79,109.29 416.16,108.86 416.52,108.42 416.89,107.99 417.25,107.55 417.63,107.13 418.00,106.70 418.37,106.27 418.75,105.85 419.13,105.43 419.51,105.01 419.89,104.59 420.27,104.17 420.66,103.76 421.05,103.35 421.44,102.94 421.83,102.53 422.23,102.13 422.62,101.72 423.02,101.32 423.42,100.92 423.83,100.53 424.23,100.13 424.64,99.74 425.05,99.35 425.46,98.96 425.88,98.58 426.29,98.19 426.71,97.81 427.13,97.43 427.56,97.06 427.98,96.68 428.41,96.31 428.84,95.94 429.27,95.57 429.71,95.21 430.14,94.84 430.58,94.48 431.02,94.12 431.46,93.76 431.91,93.41 432.36,93.06 432.81,92.71 433.26,92.36 433.71,92.01 434.17,91.67 434.63,91.33 435.09,90.99 435.55,90.65 436.01,90.31 436.48,89.98 436.95,89.65 437.42,89.32 437.89,88.99 438.37,88.67 438.85,88.35 439.32,88.02 439.81,87.71 440.29,87.39 440.77,87.07 441.26,86.76 441.75,86.45 442.24,86.14 442.73,85.83 443.23,85.53 443.73,85.23 444.23,84.93 444.73,84.63 445.23,84.33 445.74,84.04 446.24,83.74 446.75,83.45 447.26,83.16 447.77,82.87 448.29,82.59 448.81,82.31 449.32,82.02 449.84,81.74 450.37,81.47 450.89,81.19 451.42,80.92 451.94,80.64 452.47,80.37 453.00,80.10 453.54,79.84 454.07,79.57 454.61,79.31 455.15,79.05 455.69,78.79 456.23,78.53 456.77,78.27 457.32,78.02 457.86,77.76 458.41,77.51 458.96,77.26 459.52,77.02 460.07,76.77 460.63,76.53 461.18,76.28 461.74,76.04 462.30,75.80 462.87,75.57 463.43,75.33 464.00,75.10 464.56,74.86 465.13,74.63 465.70,74.40 466.28,74.18 466.85,73.95 467.42,73.72 468.00,73.50 468.58,73.28 469.16,73.06 469.74,72.84 470.33,72.63 470.91,72.41 471.50,72.20 472.08,71.98 472.67,71.77 473.26,71.56 473.86,71.36 474.45,71.15 475.05,70.95 475.64,70.74 476.24,70.54 476.84,70.34 477.44,70.14 478.05,69.95 478.65,69.75 479.25,69.55 479.86,69.36 480.47,69.17 481.08,68.98 481.69,68.79 482.30,68.60 482.92,68.42 483.53,68.23 484.15,68.05 484.77,67.87 485.39,67.69 486.01,67.51 486.63,67.33 487.25,67.15 487.88,66.98 488.50,66.80 489.13,66.63 489.76,66.46 490.39,66.29 491.02,66.12 491.65,65.95 492.28,65.78 492.92,65.62 493.55,65.45 494.19,65.29 494.83,65.13 495.47,64.97 496.11,64.81 496.75,64.65 497.39,64.49 498.04,64.34 498.68,64.18 499.33,64.03 499.98,63.88 500.63,63.73 501.28,63.58 501.93,63.43 502.58,63.28 503.23,63.13 503.89,62.99 504.55,62.85 505.20,62.70 505.86,62.56 506.52,62.42 507.18,62.28 507.84,62.14 508.50,62.00 509.17,61.87 509.83,61.73 510.50,61.60 511.16,61.46 511.83,61.33 512.50,61.20 513.17,61.07 513.84,60.94 514.51,60.81 515.19,60.69 515.86,60.56 516.53,60.43 517.21,60.31 517.89,60.19 518.57,60.07 519.24,59.94 519.92,59.82 520.61,59.71 521.29,59.59 521.97,59.47 522.65,59.35 523.34,59.24 524.02,59.12 524.71,59.01 525.40,58.90 526.09,58.79 526.78,58.68 527.47,58.57 528.16,58.46 528.85,58.35 529.54,58.24 530.24,58.14 530.93,58.03 531.63,57.93 532.33,57.83 533.02,57.72 533.72,57.62 534.42,57.52 535.12,57.42 535.82,57.32 536.53,57.23 537.23,57.13 537.93,57.03 538.64,56.94 539.34,56.84 540.05,56.75 540.75,56.65 541.46,56.56 542.17,56.47 542.88,56.38 543.59,56.29 544.30,56.20 545.01,56.11 545.73,56.03 546.44,55.94 547.15,55.85 547.87,55.77 548.58,55.68 549.30,55.60 550.02,55.52 550.73,55.43 551.45,55.35 552.17,55.27 552.89,55.19 553.61,55.11 554.33,55.03 555.06,54.96 555.78,54.88 556.50,54.80 557.23,54.73 557.95,54.65 558.68,54.58 559.40,54.50 560.13,54.43 560.86,54.36 561.58,54.28 562.31,54.21 563.04,54.14 563.77,54.07 564.50,54.00 565.23,53.93 565.97,53.87 566.70,53.80 567.43,53.73 568.16,53.66 568.90,53.60 569.63,53.53 570.37,53.47 571.10,53.40 571.84,53.34 572.58,53.28 573.32,53.22 574.05,53.15 574.79,53.09 575.53,53.03 576.27,52.97 577.01,52.91 577.75,52.85 578.50,52.80 579.24,52.74 579.98,52.68 580.72,52.62 581.47,52.57 582.21,52.51 582.96,52.46 583.70,52.40 584.45,52.35 585.20,52.30 585.94,52.24 586.69,52.19 587.44,52.14 588.19,52.09 588.94,52.04 589.69,51.99 590.44,51.94 591.19,51.89 591.94,51.84 592.69,51.79 593.45,51.75 594.20,51.70 594.95,51.65 595.71,51.61 596.46,51.56 597.22,51.52 597.98,51.48 598.73,51.43 599.49,51.39 600.25,51.35 601.00,51.30 601.76,51.26 602.52,51.22 603.28,51.18 604.04,51.14 604.80,51.10 605.56,51.06 606.33,51.03 607.09,50.99 607.85,50.95 608.61,50.91 609.38,50.88 610.14,50.84 610.91,50.81 611.67,50.77 612.44,50.74 613.20,50.70 613.97,50.67 614.74,50.64 615.51,50.61 616.27,50.57 617.04,50.54 617.81,50.51 618.58,50.48 619.35,50.45 620.12,50.42 620.89,50.39 621.66,50.36 622.44,50.34 623.21,50.31 623.98,50.28 624.76,50.26 625.53,50.23 626.30,50.20 627.08,50.18 627.85,50.15 628.63,50.13 629.41,50.11 630.18,50.08 630.96,50.06 631.74,50.04 632.52,50.02 633.30,50.00 634.08,49.98 634.85,49.95 635.63,49.93 636.42,49.92 637.20,49.90 637.98,49.88 638.76,49.86 639.54,49.84 640.32,49.82 641.11,49.81 641.89,49.79 642.68,49.78 643.46,49.76 644.24,49.74 645.03,49.73 645.82,49.72 646.60,49.70 647.39,49.69 648.18,49.68 648.96,49.66 649.75,49.65 650.54,49.64 651.33,49.63 652.12,49.62 652.91,49.61 653.70,49.60 654.49,49.59 655.28,49.58 656.07,49.57 656.86,49.56 657.65,49.55 658.45,49.55 659.24,49.54 660.03,49.53 660.83,49.53 661.62,49.52 662.42,49.52 663.21,49.51 664.01,49.51 664.80,49.50 665.60,49.50 666.40,49.50 667.19,49.49 667.99,49.49 668.79,49.49 669.59,49.49 670.38,49.48 671.18,49.48 671.98,49.48 672.78,49.48 673.58,49.48 674.38,49.48 675.18,49.48 675.98,49.48 676.79,49.49 677.59,49.49 678.39,49.49 679.19,49.49 680.00,49.50 680.60,49.50" fill="none" stroke="#1260dc" stroke-width="2.30" stroke-linejoin="round" stroke-linecap="round"/>
<rect x="107.0" y="2.9" width="638.8" height="514.6" fill="none" stroke="#000" stroke-width="2"/>
<path d="M97.0,512.90H107.0M102.0,466.54H107.0M97.0,420.18H107.0M102.0,373.82H107.0M97.0,327.46H107.0M102.0,281.10H107.0M97.0,234.74H107.0M102.0,188.38H107.0M97.0,142.02H107.0M102.0,95.66H107.0M97.0,49.30H107.0M102.0,2.94H107.0M107.00,517.5V527.5M186.85,517.5V522.5M266.70,517.5V527.5M346.55,517.5V522.5M426.40,517.5V527.5M506.25,517.5V522.5M586.10,517.5V527.5M665.95,517.5V522.5M745.80,517.5V527.5" stroke="#000" stroke-width="2" fill="none"/>
<g transform="translate(90.00,519.20) scale(1,1.030)"><text x="0" y="0" font-size="22" text-anchor="end">0.0</text></g>
<g transform="translate(90.00,426.48) scale(1,1.030)"><text x="0" y="0" font-size="22" text-anchor="end">0.2</text></g>
<g transform="translate(90.00,333.76) scale(1,1.030)"><text x="0" y="0" font-size="22" text-anchor="end">0.4</text></g>
<g transform="translate(90.00,241.04) scale(1,1.030)"><text x="0" y="0" font-size="22" text-anchor="end">0.6</text></g>
<g transform="translate(90.00,148.32) scale(1,1.030)"><text x="0" y="0" font-size="22" text-anchor="end">0.8</text></g>
<g transform="translate(90.00,55.60) scale(1,1.030)"><text x="0" y="0" font-size="22" text-anchor="end">1.0</text><rect x="-30.28" y="-1.85" width="5.20" height="2.9" fill="#fff"/><rect x="-23.08" y="-1.85" width="4.40" height="2.9" fill="#fff"/></g>
<g transform="translate(107.00,551.44) scale(1,1.030)"><text x="0" y="0" font-size="22" text-anchor="middle">0.0</text></g>
<g transform="translate(266.70,551.44) scale(1,1.030)"><text x="0" y="0" font-size="22" text-anchor="middle">0.5</text></g>
<g transform="translate(426.40,551.44) scale(1,1.030)"><text x="0" y="0" font-size="22" text-anchor="middle">1.0</text><rect x="-14.99" y="-1.85" width="5.20" height="2.9" fill="#fff"/><rect x="-7.79" y="-1.85" width="4.40" height="2.9" fill="#fff"/></g>
<g transform="translate(586.10,551.44) scale(1,1.030)"><text x="0" y="0" font-size="22" text-anchor="middle">1.5</text><rect x="-14.99" y="-1.85" width="5.20" height="2.9" fill="#fff"/><rect x="-7.79" y="-1.85" width="4.40" height="2.9" fill="#fff"/></g>
<g transform="translate(745.80,551.44) scale(1,1.030)"><text x="0" y="0" font-size="22" text-anchor="middle">2.0</text></g>
<text x="119.4" y="45.2" font-size="36.5">(a)</text>
<path d="M107.0,1096.8 C111.7,1096.8 128.7,1096.9 134.9,1096.6 C141.1,1096.3 140.7,1095.6 144.4,1095.0 C148.1,1094.4 154.4,1093.5 157.0,1093.0 C159.6,1092.5 158.3,1092.3 160.1,1091.8 C161.9,1091.3 165.3,1090.2 167.9,1089.9 C170.5,1089.6 173.1,1089.7 175.7,1089.9 C178.3,1090.1 180.3,1090.6 183.6,1091.1 C186.9,1091.6 191.5,1092.4 195.4,1093.0 C199.3,1093.6 203.1,1094.3 207.2,1094.6 C211.3,1094.9 213.4,1094.5 220.0,1094.6 C226.6,1094.7 239.5,1094.9 246.5,1095.0 C253.5,1095.1 258.1,1095.2 262.0,1095.3 C265.9,1095.4 268.7,1095.4 270.0,1095.4 L270.01,1095.41 270.72,1095.32 271.39,1095.19 272.03,1095.03 272.64,1094.84 273.22,1094.62 273.77,1094.37 274.29,1094.09 274.78,1093.78 275.25,1093.45 275.69,1093.09 276.11,1092.71 276.50,1092.30 276.87,1091.87 277.21,1091.41 277.54,1090.94 277.84,1090.44 278.12,1089.92 278.39,1089.39 278.63,1088.83 278.86,1088.26 279.07,1087.67 279.27,1087.07 279.45,1086.45 279.61,1085.81 279.77,1085.17 279.91,1084.51 280.04,1083.84 280.16,1083.16 280.27,1082.47 280.37,1081.77 280.46,1081.06 280.55,1080.35 280.63,1079.63 280.70,1078.90 280.77,1078.17 280.83,1077.43 280.89,1076.69 280.95,1075.95 281.01,1075.21 281.07,1074.47 281.13,1073.73 281.18,1072.98 281.24,1072.24 281.30,1071.50 281.36,1070.76 281.42,1070.02 281.48,1069.28 281.54,1068.54 281.60,1067.80 281.66,1067.06 281.72,1066.32 281.79,1065.59 281.85,1064.85 281.91,1064.11 281.97,1063.37 282.03,1062.63 282.09,1061.89 282.16,1061.16 282.22,1060.42 282.28,1059.68 282.34,1058.94 282.41,1058.21 282.47,1057.47 282.53,1056.73 282.60,1056.00 282.66,1055.26 282.72,1054.52 282.78,1053.78 282.85,1053.05 282.91,1052.31 282.97,1051.57 283.03,1050.83 283.10,1050.10 283.16,1049.36 283.22,1048.62 283.28,1047.88 283.35,1047.15 283.41,1046.41 283.47,1045.67 283.53,1044.93 283.59,1044.19 283.65,1043.45 283.71,1042.71 283.78,1041.98 283.84,1041.24 283.90,1040.50 283.96,1039.76 284.01,1039.01 284.07,1038.27 284.13,1037.53 284.19,1036.79 284.25,1036.05 284.31,1035.31 284.36,1034.56 284.42,1033.82 284.48,1033.08 284.53,1032.33 284.59,1031.59 284.64,1030.84 284.70,1030.10 284.75,1029.35 284.81,1028.61 284.86,1027.86 284.91,1027.11 284.97,1026.37 285.02,1025.62 285.07,1024.87 285.12,1024.12 285.17,1023.37 285.22,1022.62 285.27,1021.87 285.32,1021.12 285.37,1020.37 285.42,1019.62 285.47,1018.87 285.52,1018.12 285.57,1017.37 285.62,1016.62 285.66,1015.86 285.71,1015.11 285.76,1014.36 285.80,1013.60 285.85,1012.85 285.89,1012.09 285.94,1011.34 285.98,1010.58 286.03,1009.83 286.07,1009.07 286.12,1008.32 286.16,1007.56 286.20,1006.80 286.25,1006.05 286.29,1005.29 286.33,1004.53 286.37,1003.77 286.42,1003.02 286.46,1002.26 286.50,1001.50 286.54,1000.74 286.58,999.98 286.62,999.22 286.66,998.46 286.70,997.70 286.74,996.94 286.78,996.18 286.81,995.41 286.85,994.65 286.89,993.89 286.93,993.13 286.97,992.37 287.00,991.60 287.04,990.84 287.08,990.08 287.11,989.31 287.15,988.55 287.19,987.79 287.22,987.02 287.26,986.26 287.29,985.49 287.33,984.73 287.36,983.96 287.40,983.20 287.43,982.43 287.46,981.66 287.50,980.90 287.53,980.13 287.56,979.36 287.60,978.60 287.63,977.83 287.66,977.06 287.69,976.29 287.73,975.53 287.76,974.76 287.79,973.99 287.82,973.22 287.85,972.45 287.88,971.68 287.92,970.92 287.95,970.15 287.98,969.38 288.01,968.61 288.04,967.84 288.07,967.07 288.10,966.30 288.13,965.53 288.16,964.76 288.19,963.99 288.22,963.22 288.24,962.44 288.27,961.67 288.30,960.90 288.33,960.13 288.36,959.36 288.39,958.59 288.42,957.82 288.44,957.04 288.47,956.27 288.50,955.50 288.53,954.73 288.55,953.95 288.58,953.18 288.61,952.41 288.64,951.64 288.66,950.86 288.69,950.09 288.72,949.32 288.74,948.54 288.77,947.77 288.80,947.00 288.82,946.22 288.85,945.45 288.88,944.68 288.90,943.90 288.93,943.13 288.95,942.35 288.98,941.58 289.01,940.81 289.03,940.03 289.06,939.26 289.08,938.48 289.11,937.71 289.13,936.93 289.16,936.16 289.18,935.38 289.21,934.61 289.23,933.83 289.26,933.06 289.28,932.28 289.31,931.51 289.34,930.74 289.36,929.96 289.38,929.18 289.41,928.41 289.43,927.63 289.46,926.86 289.48,926.08 289.51,925.31 289.53,924.53 289.56,923.76 289.58,922.98 289.61,922.21 289.63,921.43 289.66,920.66 289.68,919.88 289.71,919.11 289.73,918.33 289.76,917.56 289.78,916.78 289.81,916.01 289.83,915.23 289.86,914.46 289.88,913.68 289.91,912.91 289.93,912.13 289.96,911.36 289.98,910.58 290.01,909.81 290.03,909.03 290.06,908.26 290.08,907.48 290.11,906.71 290.13,905.93 290.16,905.16 290.18,904.38 290.21,903.61 290.23,902.83 290.26,902.06 290.28,901.28 290.31,900.51 290.34,899.74 290.36,898.96 290.39,898.19 290.41,897.41 290.44,896.64 290.47,895.87 290.49,895.09 290.52,894.32 290.55,893.55 290.57,892.77 290.60,892.00 290.63,891.23 290.65,890.45 290.68,889.68 290.71,888.91 290.73,888.13 290.76,887.36 290.79,886.59 290.81,885.81 290.84,885.04 290.87,884.27 290.90,883.50 290.92,882.72 290.95,881.95 290.98,881.18 291.01,880.41 291.03,879.63 291.06,878.86 291.09,878.09 291.12,877.32 291.15,876.55 291.17,875.77 291.20,875.00 291.23,874.23 291.26,873.46 291.29,872.69 291.32,871.92 291.34,871.14 291.37,870.37 291.40,869.60 291.43,868.83 291.46,868.06 291.49,867.29 291.52,866.52 291.55,865.75 291.58,864.98 291.61,864.21 291.63,863.43 291.66,862.66 291.69,861.89 291.72,861.12 291.75,860.35 291.78,859.58 291.81,858.81 291.84,858.04 291.87,857.27 291.90,856.50 291.93,855.73 291.96,854.96 291.99,854.19 292.02,853.42 292.05,852.65 292.08,851.88 292.11,851.11 292.14,850.34 292.17,849.57 292.21,848.81 292.24,848.04 292.27,847.27 292.30,846.50 292.33,845.73 292.36,844.96 292.39,844.19 292.42,843.42 292.45,842.65 292.48,841.88 292.52,841.12 292.55,840.35 292.58,839.58 292.61,838.81 292.64,838.04 292.67,837.27 292.71,836.51 292.74,835.74 292.77,834.97 292.80,834.20 292.83,833.43 292.87,832.67 292.90,831.90 292.93,831.13 292.96,830.36 293.00,829.60 293.03,828.83 293.06,828.06 293.09,827.29 293.13,826.53 293.16,825.76 293.19,824.99 293.22,824.22 293.26,823.46 293.29,822.69 293.32,821.92 293.36,821.16 293.39,820.39 293.42,819.62 293.46,818.86 293.49,818.09 293.52,817.32 293.56,816.56 293.59,815.79 293.62,815.02 293.66,814.26 293.69,813.49 293.73,812.73 293.76,811.96 293.79,811.19 293.83,810.43 293.86,809.66 293.90,808.90 293.93,808.13 293.97,807.37 294.00,806.60 294.03,805.83 294.07,805.07 294.10,804.30 294.14,803.54 294.17,802.77 294.21,802.01 294.24,801.24 294.28,800.48 294.31,799.71 294.35,798.95 294.38,798.18 294.42,797.42 294.45,796.65 294.49,795.89 294.52,795.12 294.56,794.36 294.60,793.60 294.63,792.83 294.67,792.07 294.70,791.30 294.74,790.54 294.77,789.77 294.81,789.01 294.85,788.25 294.88,787.48 294.92,786.72 294.96,785.96 294.99,785.19 295.03,784.43 295.06,783.66 295.10,782.90 295.14,782.14 295.17,781.37 295.21,780.61 295.25,779.85 295.28,779.08 295.32,778.32 295.36,777.56 295.39,776.79 295.43,776.03 295.47,775.27 295.51,774.51 295.54,773.74 295.58,772.98 295.62,772.22 295.66,771.46 295.69,770.69 295.73,769.93 295.77,769.17 295.81,768.41 295.84,767.64 295.88,766.88 295.92,766.12 295.96,765.36 295.99,764.59 296.03,763.83 296.07,763.07 296.11,762.31 296.15,761.55 296.19,760.79 296.22,760.02 296.26,759.26 296.30,758.50 296.34,757.74 296.38,756.98 296.42,756.22 296.46,755.46 296.49,754.69 296.53,753.93 296.57,753.17 296.61,752.41 296.65,751.65 296.69,750.89 296.73,750.13 296.77,749.37 296.81,748.61 296.85,747.85 296.88,747.08 296.92,746.32 296.96,745.56 297.00,744.80 297.04,744.04 297.08,743.28 297.12,742.52 297.16,741.76 297.20,741.00 297.24,740.24 297.28,739.48 297.32,738.72 297.36,737.96 297.40,737.20 297.44,736.44 297.48,735.68 297.52,734.92 297.56,734.16 297.60,733.40 297.64,732.64 297.68,731.88 297.72,731.12 297.77,730.37 297.81,729.61 297.85,728.85 297.89,728.09 297.93,727.33 297.97,726.57 298.01,725.81 298.05,725.05 298.09,724.29 298.13,723.53 298.18,722.78 298.22,722.02 298.26,721.26 298.30,720.50 298.34,719.74 298.38,718.98 298.42,718.22 298.47,717.47 298.51,716.71 298.55,715.95 298.59,715.19 298.63,714.43 298.67,713.67 298.72,712.92 298.76,712.16 298.80,711.40 298.84,710.64 298.88,709.88 298.93,709.13 298.97,708.37 299.01,707.61 299.05,706.85 299.10,706.10 299.14,705.34 299.18,704.58 299.22,703.82 299.27,703.07 299.31,702.31 299.35,701.55 299.39,700.79 299.44,700.04 299.48,699.28 299.52,698.52 299.57,697.77 299.61,697.01 299.65,696.25 299.70,695.50 299.74,694.74 299.78,693.98 299.83,693.23 299.87,692.47 299.91,691.71 299.96,690.96 300.00,690.20 300.04,689.44 300.09,688.69 300.13,687.93 300.17,687.17 300.22,686.42 300.26,685.66 300.31,684.91 300.35,684.15 300.40,683.40 300.44,682.64 300.49,681.89 300.54,681.14 300.58,680.38 300.63,679.63 300.68,678.88 300.73,678.13 300.79,677.39 300.84,676.64 300.89,675.89 300.95,675.15 301.01,674.41 301.07,673.67 301.13,672.93 301.19,672.19 301.25,671.45 301.32,670.72 301.39,669.99 301.46,669.26 301.53,668.53 301.61,667.81 301.68,667.08 301.76,666.36 301.84,665.64 301.93,664.93 302.02,664.22 302.11,663.51 302.20,662.80 302.30,662.10 302.39,661.39 302.50,660.70 302.60,660.00 302.71,659.31 302.82,658.62 302.94,657.94 303.06,657.26 303.18,656.58 303.30,655.90 303.43,655.23 303.57,654.57 303.71,653.91 303.85,653.25 303.99,652.59 304.14,651.94 304.30,651.30 304.46,650.66 304.62,650.02 304.79,649.39 304.96,648.76 305.14,648.14 305.32,647.52 305.51,646.91 305.70,646.30 305.90,645.70 306.10,645.10 306.31,644.51 306.52,643.92 306.74,643.34 306.96,642.76 307.19,642.19 307.43,641.63 307.67,641.07 307.93,640.53 308.21,640.01 308.50,639.50 308.81,639.01 309.15,638.55 309.51,638.11 309.89,637.69 310.31,637.31 310.76,636.96 311.24,636.64 311.74,636.34 312.28,636.08 312.83,635.83 313.41,635.61 314.02,635.42 314.64,635.24 315.28,635.08 315.94,634.94 316.61,634.81 317.29,634.69 317.99,634.59 318.71,634.51 319.43,634.43 320.16,634.36 320.90,634.30 321.66,634.26 322.41,634.21 323.18,634.18 323.95,634.15 324.72,634.12 325.50,634.10 326.28,634.08 327.06,634.06 327.84,634.04 328.62,634.02 329.40,634.00 330.18,633.98 330.96,633.96 331.75,633.95 332.53,633.93 333.31,633.91 334.09,633.89 334.88,633.88 335.66,633.86 336.44,633.84 337.23,633.83 338.01,633.81 338.80,633.80 339.58,633.78 340.36,633.76 341.15,633.75 341.93,633.73 342.72,633.72 343.51,633.71 344.29,633.69 345.08,633.68 345.86,633.66 346.65,633.65 347.44,633.64 348.22,633.62 349.01,633.61 349.80,633.60 350.58,633.58 351.37,633.57 352.16,633.56 352.95,633.55 353.73,633.53 354.52,633.52 355.31,633.51 356.10,633.50 356.89,633.49 357.68,633.48 358.47,633.47 359.26,633.46 360.05,633.45 360.84,633.44 361.63,633.43 362.42,633.42 363.21,633.41 364.00,633.40 364.79,633.39 365.58,633.38 366.37,633.37 367.16,633.36 367.95,633.35 368.74,633.34 369.54,633.34 370.33,633.33 371.12,633.32 371.91,633.31 372.70,633.30 373.50,633.30 374.29,633.29 375.08,633.28 375.88,633.28 376.67,633.27 377.46,633.26 378.26,633.26 379.05,633.25 379.84,633.24 380.64,633.24 381.43,633.23 382.23,633.23 383.02,633.22 383.81,633.21 384.61,633.21 385.40,633.20 386.20,633.20 386.99,633.19 387.79,633.19 388.58,633.18 389.38,633.18 390.18,633.18 390.97,633.17 391.77,633.17 392.56,633.16 393.36,633.16 394.16,633.16 394.95,633.15 395.75,633.15 396.55,633.15 397.34,633.14 398.14,633.14 398.94,633.14 399.73,633.13 400.53,633.13 401.33,633.13 402.13,633.13 402.92,633.12 403.72,633.12 404.52,633.12 405.32,633.12 406.12,633.12 406.92,633.12 407.71,633.11 408.51,633.11 409.31,633.11 410.11,633.11 410.91,633.11 411.71,633.11 412.51,633.11 413.31,633.11 414.10,633.10 414.90,633.10 415.70,633.10 416.50,633.10 417.30,633.10 418.10,633.10 418.90,633.10 419.70,633.10 420.50,633.10 421.30,633.10 422.10,633.10 422.90,633.10 423.70,633.10 424.50,633.10 425.30,633.10 426.10,633.10 426.90,633.10 427.70,633.10 428.51,633.11 429.31,633.11 430.11,633.11 430.91,633.11 431.71,633.11 432.51,633.11 433.31,633.11 434.11,633.11 434.91,633.11 435.71,633.11 436.52,633.12 437.32,633.12 438.12,633.12 438.92,633.12 439.72,633.12 440.52,633.12 441.33,633.13 442.13,633.13 442.93,633.13 443.73,633.13 444.53,633.13 445.34,633.14 446.14,633.14 446.94,633.14 447.74,633.14 448.54,633.14 449.35,633.15 450.15,633.15 450.95,633.15 451.75,633.15 452.56,633.16 453.36,633.16 454.16,633.16 454.96,633.16 455.77,633.17 456.57,633.17 457.37,633.17 458.17,633.17 458.98,633.18 459.78,633.18 460.58,633.18 461.38,633.18 462.19,633.19 462.99,633.19 463.79,633.19 464.59,633.19 465.40,633.20 466.20,633.20 467.00,633.20 467.81,633.21 468.61,633.21 469.41,633.21 470.21,633.21 471.02,633.22 471.82,633.22 472.62,633.22 473.43,633.23 474.23,633.23 475.03,633.23 475.83,633.23 476.64,633.24 477.44,633.24 478.24,633.24 479.04,633.24 479.85,633.25 480.65,633.25 481.45,633.25 482.26,633.26 483.06,633.26 483.86,633.26 484.66,633.26 485.47,633.27 486.27,633.27 487.07,633.27 487.88,633.28 488.68,633.28 489.48,633.28 490.28,633.28 491.09,633.29 491.89,633.29 492.69,633.29 493.49,633.29 494.30,633.30 495.10,633.30 495.90,633.30 496.70,633.30 497.50,633.30 498.31,633.31 499.11,633.31 499.91,633.31 500.71,633.31 501.52,633.32 502.32,633.32 503.12,633.32 503.92,633.32 504.72,633.32 505.53,633.33 506.33,633.33 507.13,633.33 507.93,633.33 508.73,633.33 509.53,633.33 510.34,633.34 511.14,633.34 511.94,633.34 512.74,633.34 513.54,633.34 514.34,633.34 515.14,633.34 515.95,633.35 516.75,633.35 517.55,633.35 518.35,633.35 519.15,633.35 519.95,633.35 520.75,633.35 521.55,633.35 522.36,633.36 523.16,633.36 523.96,633.36 524.76,633.36 525.56,633.36 526.36,633.36 527.16,633.36 527.96,633.36 528.76,633.36 529.56,633.36 530.36,633.36 531.16,633.36 531.97,633.37 532.77,633.37 533.57,633.37 534.37,633.37 535.17,633.37 535.97,633.37 536.77,633.37 537.57,633.37 538.37,633.37 539.17,633.37 539.97,633.37 540.77,633.37 541.57,633.37 542.37,633.37 543.17,633.37 543.97,633.37 544.77,633.37 545.57,633.37 546.37,633.37 547.17,633.37 547.97,633.37 548.77,633.37 549.57,633.37 550.37,633.37 551.17,633.37 551.97,633.37 552.77,633.37 553.57,633.37 554.37,633.37 555.17,633.37 555.97,633.37 556.77,633.37 557.57,633.37 558.37,633.37 559.17,633.37 559.97,633.37 560.77,633.37 561.57,633.37 562.37,633.37 563.17,633.37 563.97,633.37 564.77,633.37 565.57,633.37 566.37,633.37 567.17,633.37 567.97,633.37 568.77,633.37 569.57,633.37 570.37,633.37 571.17,633.37 571.96,633.36 572.76,633.36 573.56,633.36 574.36,633.36 575.16,633.36 575.96,633.36 576.76,633.36 577.56,633.36 578.36,633.36 579.16,633.36 579.96,633.36 580.76,633.36 581.56,633.36 582.36,633.36 583.16,633.36 583.95,633.35 584.75,633.35 585.55,633.35 586.35,633.35 587.15,633.35 587.95,633.35 588.75,633.35 589.55,633.35 590.35,633.35 591.15,633.35 591.95,633.35 592.74,633.34 593.54,633.34 594.34,633.34 595.14,633.34 595.94,633.34 596.74,633.34 597.54,633.34 598.34,633.34 599.14,633.34 599.94,633.34 600.73,633.33 601.53,633.33 602.33,633.33 603.13,633.33 603.93,633.33 604.73,633.33 605.53,633.33 606.33,633.33 607.13,633.33 607.93,633.33 608.72,633.32 609.52,633.32 610.32,633.32 611.12,633.32 611.92,633.32 612.72,633.32 613.52,633.32 614.32,633.32 615.12,633.32 615.91,633.31 616.71,633.31 617.51,633.31 618.31,633.31 619.11,633.31 619.91,633.31 620.71,633.31 621.51,633.31 622.31,633.31 623.10,633.30 623.90,633.30 624.70,633.30 625.50,633.30 626.30,633.30 627.10,633.30 627.90,633.30 628.70,633.30 629.50,633.30 630.29,633.29 631.09,633.29 631.89,633.29 632.69,633.29 633.49,633.29 634.29,633.29 635.09,633.29 635.89,633.29 636.69,633.29 637.48,633.28 638.28,633.28 639.08,633.28 639.88,633.28 640.68,633.28 641.48,633.28 642.28,633.28 643.08,633.28 643.88,633.28 644.68,633.28 645.47,633.27 646.27,633.27 647.07,633.27 647.87,633.27 648.67,633.27 649.47,633.27 650.27,633.27 651.07,633.27 651.87,633.27 652.67,633.27 653.46,633.26 654.26,633.26 655.06,633.26 655.86,633.26 656.66,633.26 657.46,633.26 658.26,633.26 659.06,633.26 659.86,633.26 660.66,633.26 661.46,633.26 662.26,633.26 663.05,633.25 663.85,633.25 664.65,633.25 665.45,633.25 666.25,633.25 667.05,633.25 667.85,633.25 668.65,633.25 669.45,633.25 670.25,633.25 671.05,633.25 671.85,633.25 672.65,633.25 673.45,633.25 674.25,633.25 675.04,633.24 675.84,633.24 676.64,633.24 677.44,633.24 678.24,633.24 679.04,633.24 679.84,633.24 680.64,633.24 681.44,633.24 682.24,633.24 683.04,633.24 683.84,633.24 684.64,633.24 685.44,633.24 686.24,633.24 687.04,633.24 687.84,633.24 688.64,633.24 689.44,633.24 690.24,633.24 691.04,633.24 691.84,633.24 692.64,633.24 693.44,633.24 694.24,633.24 695.04,633.24 695.84,633.24 696.64,633.24 697.44,633.24 698.24,633.24 699.04,633.24 699.84,633.24 700.64,633.24 701.44,633.24 702.24,633.24 703.04,633.24 703.84,633.24 704.64,633.24 705.44,633.24 706.24,633.24 707.04,633.24 707.84,633.24 708.64,633.24 709.44,633.24 710.24,633.24 711.04,633.24 711.85,633.25 712.65,633.25 713.45,633.25 714.25,633.25 715.05,633.25 715.85,633.25 716.65,633.25 717.45,633.25 718.25,633.25 719.05,633.25 719.85,633.25 720.65,633.25 721.46,633.26 722.26,633.26 723.06,633.26 723.86,633.26 724.66,633.26 725.46,633.26 726.26,633.26 727.06,633.26 727.86,633.26 728.67,633.27 729.47,633.27 730.27,633.27 731.07,633.27 731.87,633.27 732.67,633.27 733.47,633.27 734.28,633.28 735.08,633.28 735.88,633.28 736.68,633.28 737.48,633.28 738.28,633.28 739.09,633.29 739.89,633.29 740.69,633.29 741.49,633.29 742.29,633.29 743.10,633.30 743.90,633.30 744.70,633.30 745.00,633.30" fill="none" stroke="#484848" stroke-width="2.30" stroke-linejoin="round" stroke-linecap="round"/>
<path d="M107.0,1095.8 C109.3,1095.9 116.6,1096.1 120.7,1096.2 C124.8,1096.3 129.2,1096.4 131.8,1096.6 C134.4,1096.8 134.2,1097.8 136.0,1097.5 C137.8,1097.2 140.6,1094.4 142.8,1094.6 C145.0,1094.8 147.5,1098.6 149.1,1098.9 C150.7,1099.2 150.9,1097.1 152.2,1096.2 C153.5,1095.3 155.4,1093.7 157.0,1093.4 C158.6,1093.1 160.4,1094.2 161.7,1094.6 C163.0,1095.0 163.0,1095.4 164.7,1095.8 C166.4,1096.2 168.9,1097.1 171.8,1097.0 C174.7,1096.9 178.7,1095.4 182.0,1095.4 C185.3,1095.4 188.6,1096.5 191.5,1097.0 C194.4,1097.5 196.8,1098.3 199.4,1098.5 C202.0,1098.7 204.6,1098.5 207.2,1098.1 C209.8,1097.6 211.9,1095.7 215.0,1095.8 C218.1,1095.9 223.4,1098.7 226.0,1098.9 C228.6,1099.1 228.6,1097.8 230.7,1097.0 C232.8,1096.2 236.0,1093.7 238.6,1093.8 C241.2,1093.9 244.1,1096.7 246.5,1097.4 C248.9,1098.1 250.7,1098.2 252.8,1098.1 C254.9,1098.0 256.7,1096.6 259.1,1096.6 C261.5,1096.6 264.4,1098.0 267.0,1098.1 C269.6,1098.2 272.6,1097.4 275.0,1097.4 C277.4,1097.4 278.1,1098.2 281.5,1097.9 C284.9,1097.6 290.9,1095.8 295.7,1095.5 C300.4,1095.2 302.7,1096.0 310.0,1095.9 C317.3,1095.8 330.6,1094.9 339.4,1094.9 C348.2,1094.9 356.5,1095.8 363.0,1096.0 C369.5,1096.2 374.5,1096.4 378.2,1096.4 C381.9,1096.4 383.9,1096.2 385.0,1096.2 L385.03,1096.23 385.69,1096.09 386.33,1095.93 386.94,1095.74 387.52,1095.52 388.09,1095.29 388.63,1095.03 389.15,1094.75 389.65,1094.45 390.13,1094.13 390.59,1093.79 391.03,1093.43 391.45,1093.05 391.85,1092.65 392.23,1092.23 392.60,1091.80 392.95,1091.35 393.28,1090.88 393.60,1090.40 393.91,1089.91 394.20,1089.40 394.48,1088.88 394.75,1088.35 395.00,1087.80 395.24,1087.24 395.47,1086.67 395.69,1086.09 395.90,1085.50 396.11,1084.91 396.30,1084.30 396.48,1083.68 396.66,1083.06 396.83,1082.43 397.00,1081.80 397.16,1081.16 397.32,1080.52 397.47,1079.87 397.61,1079.21 397.76,1078.56 397.90,1077.90 398.04,1077.24 398.18,1076.58 398.32,1075.92 398.46,1075.26 398.59,1074.59 398.73,1073.93 398.87,1073.27 399.01,1072.61 399.14,1071.94 399.28,1071.28 399.41,1070.61 399.55,1069.95 399.68,1069.28 399.81,1068.61 399.95,1067.95 400.08,1067.28 400.21,1066.61 400.35,1065.95 400.48,1065.28 400.61,1064.61 400.74,1063.94 400.87,1063.27 401.00,1062.60 401.13,1061.93 401.26,1061.26 401.39,1060.59 401.51,1059.91 401.64,1059.24 401.77,1058.57 401.90,1057.90 402.02,1057.22 402.15,1056.55 402.27,1055.87 402.40,1055.20 402.52,1054.52 402.65,1053.85 402.77,1053.17 402.89,1052.49 403.02,1051.82 403.14,1051.14 403.26,1050.46 403.38,1049.78 403.50,1049.10 403.62,1048.42 403.74,1047.74 403.86,1047.06 403.98,1046.38 404.10,1045.70 404.22,1045.02 404.34,1044.34 404.46,1043.66 404.57,1042.97 404.69,1042.29 404.81,1041.61 404.92,1040.92 405.04,1040.24 405.15,1039.55 405.27,1038.87 405.38,1038.18 405.49,1037.49 405.61,1036.81 405.72,1036.12 405.83,1035.43 405.94,1034.74 406.05,1034.05 406.16,1033.36 406.27,1032.67 406.38,1031.98 406.49,1031.29 406.60,1030.60 406.71,1029.91 406.82,1029.22 406.93,1028.53 407.04,1027.84 407.14,1027.14 407.25,1026.45 407.36,1025.76 407.46,1025.06 407.57,1024.37 407.67,1023.67 407.78,1022.98 407.88,1022.28 407.99,1021.59 408.09,1020.89 408.19,1020.19 408.29,1019.49 408.40,1018.80 408.50,1018.10 408.60,1017.40 408.70,1016.70 408.80,1016.00 408.90,1015.30 409.01,1014.61 409.11,1013.91 409.20,1013.20 409.30,1012.50 409.40,1011.80 409.50,1011.10 409.60,1010.40 409.70,1009.70 409.80,1009.00 409.89,1008.29 409.99,1007.59 410.09,1006.89 410.18,1006.18 410.28,1005.48 410.38,1004.78 410.47,1004.07 410.57,1003.37 410.66,1002.66 410.76,1001.96 410.85,1001.25 410.95,1000.55 411.04,999.84 411.13,999.13 411.23,998.43 411.32,997.72 411.41,997.01 411.50,996.30 411.60,995.60 411.69,994.89 411.78,994.18 411.87,993.47 411.96,992.76 412.05,992.05 412.14,991.34 412.24,990.64 412.33,989.93 412.42,989.22 412.51,988.51 412.60,987.80 412.68,987.08 412.77,986.37 412.86,985.66 412.95,984.95 413.04,984.24 413.13,983.53 413.22,982.82 413.30,982.10 413.39,981.39 413.48,980.68 413.57,979.97 413.65,979.25 413.74,978.54 413.83,977.83 413.91,977.11 414.00,976.40 414.09,975.69 414.17,974.97 414.26,974.26 414.34,973.54 414.43,972.83 414.51,972.11 414.60,971.40 414.68,970.68 414.77,969.97 414.85,969.25 414.94,968.54 415.02,967.82 415.11,967.11 415.19,966.39 415.27,965.67 415.36,964.96 415.44,964.24 415.53,963.53 415.61,962.81 415.69,962.09 415.78,961.38 415.86,960.66 415.94,959.94 416.03,959.23 416.11,958.51 416.19,957.79 416.27,957.07 416.36,956.36 416.44,955.64 416.52,954.92 416.60,954.20 416.69,953.49 416.77,952.77 416.85,952.05 416.93,951.33 417.01,950.61 417.10,949.90 417.18,949.18 417.26,948.46 417.34,947.74 417.42,947.02 417.50,946.30 417.59,945.59 417.67,944.87 417.75,944.15 417.83,943.43 417.91,942.71 417.99,941.99 418.07,941.27 418.15,940.55 418.24,939.84 418.32,939.12 418.40,938.40 418.48,937.68 418.56,936.96 418.64,936.24 418.72,935.52 418.80,934.80 418.89,934.09 418.97,933.37 419.05,932.65 419.13,931.93 419.21,931.21 419.29,930.49 419.37,929.77 419.45,929.05 419.54,928.34 419.62,927.62 419.70,926.90 419.78,926.18 419.86,925.46 419.94,924.74 420.02,924.02 420.11,923.31 420.19,922.59 420.27,921.87 420.35,921.15 420.43,920.43 420.51,919.71 420.60,919.00 420.68,918.28 420.76,917.56 420.84,916.84 420.92,916.12 421.01,915.41 421.09,914.69 421.17,913.97 421.25,913.25 421.34,912.54 421.42,911.82 421.50,911.10 421.59,910.39 421.67,909.67 421.75,908.95 421.84,908.24 421.92,907.52 422.00,906.80 422.09,906.09 422.17,905.37 422.26,904.66 422.34,903.94 422.43,903.23 422.51,902.51 422.60,901.80 422.68,901.08 422.77,900.37 422.85,899.65 422.94,898.94 423.02,898.22 423.11,897.51 423.20,896.80 423.28,896.08 423.37,895.37 423.46,894.66 423.55,893.95 423.63,893.23 423.72,892.52 423.81,891.81 423.90,891.10 423.99,890.39 424.08,889.68 424.16,888.96 424.25,888.25 424.34,887.54 424.43,886.83 424.52,886.12 424.62,885.42 424.71,884.71 424.80,884.00 424.89,883.29 424.98,882.58 425.07,881.87 425.17,881.17 425.26,880.46 425.35,879.75 425.45,879.05 425.54,878.34 425.64,877.64 425.73,876.93 425.83,876.23 425.92,875.52 426.02,874.82 426.11,874.11 426.21,873.41 426.31,872.71 426.40,872.00 426.50,871.30 426.60,870.60 426.70,869.90 426.80,869.20 426.90,868.50 427.00,867.80 427.10,867.10 427.20,866.40 427.30,865.70 427.40,865.00 427.50,864.30 427.61,863.61 427.71,862.91 427.81,862.21 427.92,861.52 428.02,860.82 428.13,860.13 428.23,859.43 428.34,858.74 428.44,858.04 428.55,857.35 428.66,856.66 428.77,855.97 428.87,855.27 428.98,854.58 429.09,853.89 429.20,853.20 429.31,852.51 429.42,851.82 429.54,851.14 429.65,850.45 429.76,849.76 429.87,849.07 429.99,848.39 430.10,847.70 430.22,847.02 430.33,846.33 430.45,845.65 430.57,844.97 430.68,844.28 430.80,843.60 430.92,842.92 431.04,842.24 431.16,841.56 431.28,840.88 431.40,840.20 431.52,839.52 431.65,838.85 431.77,838.17 431.89,837.49 432.02,836.82 432.14,836.14 432.27,835.47 432.39,834.79 432.52,834.12 432.65,833.45 432.78,832.78 432.90,832.10 433.03,831.43 433.16,830.76 433.30,830.10 433.43,829.43 433.56,828.76 433.69,828.09 433.83,827.43 433.96,826.76 434.10,826.10 434.23,825.43 434.37,824.77 434.51,824.11 434.65,823.45 434.78,822.78 434.92,822.12 435.06,821.46 435.21,820.81 435.35,820.15 435.49,819.49 435.63,818.83 435.78,818.18 435.92,817.52 436.07,816.87 436.22,816.22 436.36,815.56 436.51,814.91 436.66,814.26 436.81,813.61 436.96,812.96 437.12,812.32 437.27,811.67 437.42,811.02 437.58,810.38 437.73,809.73 437.89,809.09 438.04,808.44 438.20,807.80 438.36,807.16 438.52,806.52 438.68,805.88 438.84,805.24 439.00,804.60 439.17,803.97 439.33,803.33 439.50,802.70 439.66,802.06 439.83,801.43 440.00,800.80 440.16,800.16 440.33,799.53 440.50,798.90 440.68,798.28 440.85,797.65 441.02,797.02 441.20,796.40 441.37,795.77 441.55,795.15 441.72,794.52 441.90,793.90 442.08,793.28 442.26,792.66 442.44,792.04 442.62,791.42 442.81,790.81 442.99,790.19 443.18,789.58 443.36,788.96 443.55,788.35 443.74,787.74 443.93,787.13 444.12,786.52 444.31,785.91 444.50,785.30 444.69,784.69 444.89,784.09 445.08,783.48 445.28,782.88 445.48,782.28 445.68,781.68 445.88,781.08 446.08,780.48 446.28,779.88 446.48,779.28 446.69,778.69 446.89,778.09 447.10,777.50 447.31,776.91 447.52,776.32 447.73,775.73 447.94,775.14 448.15,774.55 448.36,773.96 448.58,773.38 448.79,772.79 449.01,772.21 449.23,771.63 449.44,771.04 449.66,770.46 449.89,769.89 450.11,769.31 450.33,768.73 450.56,768.16 450.78,767.58 451.01,767.01 451.24,766.44 451.47,765.87 451.70,765.30 451.93,764.73 452.16,764.16 452.40,763.60 452.63,763.03 452.87,762.47 453.11,761.91 453.35,761.35 453.59,760.79 453.83,760.23 454.08,759.68 454.32,759.12 454.57,758.57 454.81,758.01 455.06,757.46 455.31,756.91 455.56,756.36 455.81,755.81 456.07,755.27 456.32,754.72 456.58,754.18 456.84,753.64 457.10,753.10 457.36,752.56 457.62,752.02 457.88,751.48 458.14,750.94 458.41,750.41 458.68,749.88 458.95,749.35 459.22,748.82 459.49,748.29 459.76,747.76 460.03,747.23 460.31,746.71 460.58,746.18 460.86,745.66 461.14,745.14 461.42,744.62 461.70,744.10 461.99,743.59 462.27,743.07 462.56,742.56 462.85,742.05 463.14,741.54 463.43,741.03 463.72,740.52 464.01,740.01 464.31,739.51 464.60,739.00 464.90,738.50 465.20,738.00 465.50,737.50 465.80,737.00 466.10,736.50 466.41,736.01 466.71,735.51 467.02,735.02 467.33,734.53 467.64,734.04 467.95,733.55 468.26,733.06 468.58,732.58 468.89,732.09 469.21,731.61 469.53,731.13 469.85,730.65 470.17,730.17 470.49,729.69 470.82,729.22 471.14,728.74 471.47,728.27 471.80,727.80 472.12,727.32 472.46,726.86 472.79,726.39 473.12,725.92 473.46,725.46 473.79,724.99 474.13,724.53 474.47,724.07 474.81,723.61 475.15,723.15 475.49,722.69 475.84,722.24 476.18,721.78 476.53,721.33 476.88,720.88 477.23,720.43 477.58,719.98 477.94,719.54 478.29,719.09 478.64,718.64 479.00,718.20 479.36,717.76 479.72,717.32 480.08,716.88 480.44,716.44 480.81,716.01 481.17,715.57 481.54,715.14 481.91,714.71 482.28,714.28 482.65,713.85 483.02,713.42 483.39,712.99 483.77,712.57 484.14,712.14 484.52,711.72 484.90,711.30 485.28,710.88 485.66,710.46 486.04,710.04 486.43,709.63 486.82,709.22 487.20,708.80 487.59,708.39 487.98,707.98 488.37,707.57 488.76,707.16 489.16,706.76 489.55,706.35 489.95,705.95 490.35,705.55 490.75,705.15 491.15,704.75 491.55,704.35 491.95,703.95 492.36,703.56 492.77,703.17 493.17,702.77 493.58,702.38 493.99,701.99 494.40,701.60 494.82,701.22 495.23,700.83 495.65,700.45 496.07,700.07 496.48,699.68 496.90,699.30 497.33,698.93 497.75,698.55 498.17,698.17 498.60,697.80 499.02,697.42 499.45,697.05 499.88,696.68 500.31,696.31 500.74,695.94 501.18,695.58 501.61,695.21 502.05,694.85 502.49,694.49 502.93,694.13 503.37,693.77 503.81,693.41 504.25,693.05 504.69,692.69 505.14,692.34 505.59,691.99 506.04,691.64 506.49,691.29 506.94,690.94 507.39,690.59 507.84,690.24 508.30,689.90 508.75,689.55 509.21,689.21 509.67,688.87 510.13,688.53 510.59,688.19 511.06,687.86 511.52,687.52 511.99,687.19 512.46,686.86 512.92,686.52 513.39,686.19 513.87,685.87 514.34,685.54 514.81,685.21 515.29,684.89 515.76,684.56 516.24,684.24 516.72,683.92 517.20,683.60 517.68,683.28 518.17,682.97 518.65,682.65 519.14,682.34 519.63,682.03 520.12,681.72 520.61,681.41 521.10,681.10 521.59,680.79 522.08,680.48 522.58,680.18 523.08,679.88 523.57,679.57 524.07,679.27 524.58,678.98 525.08,678.68 525.58,678.38 526.09,678.09 526.59,677.79 527.10,677.50 527.61,677.21 528.12,676.92 528.63,676.63 529.14,676.34 529.66,676.06 530.17,675.77 530.69,675.49 531.21,675.21 531.73,674.93 532.25,674.65 532.77,674.37 533.30,674.10 533.82,673.82 534.35,673.55 534.87,673.27 535.40,673.00 535.93,672.73 536.47,672.47 537.00,672.20 537.53,671.93 538.07,671.67 538.61,671.41 539.14,671.14 539.68,670.88 540.22,670.62 540.77,670.37 541.31,670.11 541.86,669.86 542.40,669.60 542.95,669.35 543.50,669.10 544.05,668.85 544.60,668.60 545.15,668.35 545.71,668.11 546.26,667.86 546.82,667.62 547.38,667.38 547.94,667.14 548.50,666.90 549.06,666.66 549.62,666.42 550.19,666.19 550.75,665.95 551.32,665.72 551.89,665.49 552.46,665.26 553.03,665.03 553.60,664.80 554.17,664.57 554.75,664.35 555.32,664.12 555.90,663.90 556.48,663.68 557.06,663.46 557.64,663.24 558.22,663.02 558.80,662.80 559.39,662.59 559.97,662.37 560.56,662.16 561.14,661.94 561.73,661.73 562.32,661.52 562.91,661.31 563.50,661.10 564.10,660.90 564.69,660.69 565.29,660.49 565.88,660.28 566.48,660.08 567.08,659.88 567.68,659.68 568.28,659.48 568.88,659.28 569.48,659.08 570.09,658.89 570.69,658.69 571.30,658.50 571.91,658.31 572.51,658.11 573.12,657.92 573.73,657.73 574.34,657.54 574.96,657.36 575.57,657.17 576.18,656.98 576.80,656.80 577.41,656.61 578.03,656.43 578.65,656.25 579.27,656.07 579.89,655.89 580.51,655.71 581.13,655.53 581.75,655.35 582.38,655.18 583.00,655.00 583.63,654.83 584.25,654.65 584.88,654.48 585.51,654.31 586.14,654.14 586.77,653.97 587.40,653.80 588.03,653.63 588.67,653.47 589.30,653.30 589.94,653.14 590.57,652.97 591.21,652.81 591.84,652.64 592.48,652.48 593.12,652.32 593.76,652.16 594.40,652.00 595.04,651.84 595.69,651.69 596.33,651.53 596.97,651.37 597.62,651.22 598.26,651.06 598.91,650.91 599.56,650.76 600.20,650.60 600.85,650.45 601.50,650.30 602.15,650.15 602.80,650.00 603.46,649.86 604.11,649.71 604.76,649.56 605.41,649.41 606.07,649.27 606.72,649.12 607.38,648.98 608.04,648.84 608.70,648.70 609.35,648.55 610.01,648.41 610.67,648.27 611.33,648.13 611.99,647.99 612.65,647.85 613.32,647.72 613.98,647.58 614.64,647.44 615.31,647.31 615.97,647.17 616.64,647.04 617.30,646.90 617.97,646.77 618.64,646.64 619.31,646.51 619.97,646.37 620.64,646.24 621.31,646.11 621.98,645.98 622.65,645.85 623.33,645.73 624.00,645.60 624.67,645.47 625.34,645.34 626.02,645.22 626.69,645.09 627.37,644.97 628.04,644.84 628.72,644.72 629.39,644.59 630.07,644.47 630.75,644.35 631.43,644.23 632.10,644.10 632.78,643.98 633.46,643.86 634.14,643.74 634.82,643.62 635.50,643.50 636.19,643.39 636.87,643.27 637.55,643.15 638.23,643.03 638.92,642.92 639.60,642.80 640.28,642.68 640.97,642.57 641.65,642.45 642.34,642.34 643.02,642.22 643.71,642.11 644.39,641.99 645.08,641.88 645.77,641.77 646.46,641.66 647.14,641.54 647.83,641.43 648.52,641.32 649.21,641.21 649.90,641.10 650.59,640.99 651.28,640.88 651.97,640.77 652.66,640.66 653.36,640.56 654.05,640.45 654.74,640.34 655.43,640.23 656.13,640.13 656.82,640.02 657.52,639.92 658.21,639.81 658.91,639.71 659.61,639.61 660.30,639.50 661.00,639.40 661.70,639.30 662.40,639.20 663.10,639.10 663.80,639.00 664.50,638.90 665.20,638.80 665.90,638.70 666.60,638.60 667.31,638.51 668.01,638.41 668.72,638.32 669.42,638.22 670.13,638.13 670.83,638.03 671.54,637.94 672.25,637.85 672.96,637.76 673.67,637.67 674.38,637.58 675.09,637.49 675.80,637.40 676.51,637.31 677.22,637.22 677.94,637.14 678.65,637.05 679.37,636.97 680.08,636.88 680.80,636.80 681.52,636.72 682.23,636.63 682.95,636.55 683.67,636.47 684.39,636.39 685.11,636.31 685.84,636.24 686.56,636.16 687.28,636.08 688.01,636.01 688.73,635.93 689.46,635.86 690.19,635.79 690.92,635.72 691.65,635.65 692.38,635.58 693.11,635.51 693.84,635.44 694.57,635.37 695.31,635.31 696.04,635.24 696.78,635.18 697.51,635.11 698.25,635.05 698.99,634.99 699.73,634.93 700.47,634.87 701.21,634.81 701.96,634.76 702.70,634.70 703.44,634.64 704.19,634.59 704.94,634.54 705.69,634.49 706.43,634.43 707.18,634.38 707.94,634.34 708.69,634.29 709.44,634.24 710.20,634.20 710.95,634.15 711.71,634.11 712.47,634.07 713.22,634.02 713.98,633.98 714.75,633.95 715.51,633.91 716.27,633.87 717.04,633.84 717.80,633.80 718.57,633.77 719.34,633.74 720.11,633.71 720.88,633.68 721.65,633.65 722.42,633.62 723.20,633.60 723.97,633.57 724.75,633.55 725.53,633.53 726.30,633.50 727.09,633.49 727.87,633.47 728.65,633.45 729.43,633.43 730.22,633.42 731.01,633.41 731.80,633.40 732.58,633.38 733.38,633.38 734.17,633.37 734.96,633.36 735.76,633.36 736.55,633.35 737.35,633.35 738.15,633.35 738.95,633.35 739.75,633.35 740.55,633.35 741.36,633.36 742.17,633.37 742.97,633.37 743.78,633.38 744.59,633.39 745.00,633.40" fill="none" stroke="#f42a2a" stroke-width="2.30" stroke-linejoin="round" stroke-linecap="round"/>
<path d="M107.0,1097.7 C109.3,1097.8 116.4,1098.2 120.7,1098.5 C125.0,1098.8 129.7,1099.4 132.6,1099.3 C135.5,1099.2 136.4,1098.3 138.1,1097.7 C139.8,1097.1 141.1,1095.9 142.8,1095.4 C144.5,1094.9 146.5,1094.7 148.3,1094.6 C150.1,1094.5 151.8,1094.5 153.8,1094.8 C155.8,1095.1 157.8,1096.0 160.1,1096.4 C162.4,1096.8 164.0,1097.2 167.9,1097.4 C171.8,1097.6 178.3,1097.7 183.6,1097.7 C188.8,1097.7 194.8,1097.6 199.4,1097.4 C204.0,1097.2 208.6,1096.7 211.2,1096.6 C213.8,1096.5 213.1,1096.5 215.0,1096.6 C216.9,1096.7 220.3,1097.7 222.9,1097.4 C225.5,1097.1 228.1,1095.5 230.7,1095.0 C233.3,1094.5 236.2,1094.7 238.6,1094.6 C241.0,1094.5 242.5,1095.1 244.9,1094.6 C247.3,1094.1 250.4,1091.5 252.8,1091.4 C255.2,1091.3 256.7,1093.1 259.1,1093.8 C261.5,1094.5 264.4,1095.0 267.0,1095.4 C269.6,1095.8 269.5,1096.0 275.0,1096.2 C280.5,1096.4 290.8,1096.5 300.0,1096.6 C309.2,1096.7 320.3,1096.8 330.0,1097.0 C339.7,1097.2 353.3,1097.4 358.0,1097.5 L358.02,1097.52 358.83,1097.53 359.61,1097.51 360.35,1097.45 361.05,1097.35 361.72,1097.22 362.35,1097.05 362.94,1096.84 363.51,1096.61 364.04,1096.34 364.55,1096.05 365.03,1095.73 365.48,1095.38 365.90,1095.00 366.30,1094.60 366.68,1094.18 367.04,1093.74 367.37,1093.27 367.69,1092.79 367.99,1092.29 368.27,1091.77 368.54,1091.24 368.80,1090.70 369.04,1090.14 369.27,1089.57 369.49,1088.99 369.71,1088.41 369.91,1087.81 370.12,1087.22 370.31,1086.61 370.51,1086.01 370.70,1085.40 370.88,1084.78 371.06,1084.16 371.24,1083.54 371.41,1082.91 371.58,1082.28 371.75,1081.65 371.91,1081.01 372.07,1080.37 372.23,1079.73 372.38,1079.08 372.53,1078.43 372.68,1077.78 372.82,1077.12 372.97,1076.47 373.10,1075.80 373.24,1075.14 373.37,1074.47 373.50,1073.80 373.63,1073.13 373.76,1072.46 373.88,1071.78 374.00,1071.10 374.12,1070.42 374.24,1069.74 374.35,1069.05 374.47,1068.37 374.58,1067.68 374.69,1066.99 374.79,1066.29 374.90,1065.60 375.01,1064.91 375.11,1064.21 375.21,1063.51 375.31,1062.81 375.41,1062.11 375.51,1061.41 375.60,1060.70 375.70,1060.00 375.80,1059.30 375.89,1058.59 375.98,1057.88 376.08,1057.18 376.17,1056.47 376.26,1055.76 376.35,1055.05 376.44,1054.34 376.54,1053.64 376.63,1052.93 376.72,1052.22 376.81,1051.51 376.90,1050.80 376.99,1050.09 377.08,1049.38 377.17,1048.67 377.26,1047.96 377.35,1047.25 377.44,1046.54 377.54,1045.84 377.63,1045.13 377.72,1044.42 377.81,1043.71 377.90,1043.00 377.99,1042.29 378.08,1041.58 378.18,1040.88 378.27,1040.17 378.36,1039.46 378.45,1038.75 378.54,1038.04 378.64,1037.34 378.73,1036.63 378.82,1035.92 378.91,1035.21 379.00,1034.50 379.09,1033.79 379.19,1033.09 379.28,1032.38 379.37,1031.67 379.46,1030.96 379.55,1030.25 379.65,1029.55 379.74,1028.84 379.83,1028.13 379.92,1027.42 380.01,1026.71 380.11,1026.01 380.20,1025.30 380.29,1024.59 380.38,1023.88 380.47,1023.17 380.56,1022.46 380.66,1021.76 380.75,1021.05 380.84,1020.34 380.93,1019.63 381.02,1018.92 381.11,1018.21 381.20,1017.50 381.29,1016.79 381.38,1016.08 381.48,1015.38 381.57,1014.67 381.66,1013.96 381.75,1013.25 381.84,1012.54 381.93,1011.83 382.02,1011.12 382.11,1010.41 382.20,1009.70 382.29,1008.99 382.38,1008.28 382.47,1007.57 382.56,1006.86 382.65,1006.15 382.74,1005.44 382.83,1004.73 382.92,1004.02 383.00,1003.30 383.09,1002.59 383.18,1001.88 383.27,1001.17 383.36,1000.46 383.45,999.75 383.54,999.04 383.62,998.32 383.71,997.61 383.80,996.90 383.89,996.19 383.97,995.47 384.06,994.76 384.15,994.05 384.23,993.33 384.32,992.62 384.41,991.91 384.49,991.19 384.58,990.48 384.66,989.76 384.75,989.05 384.83,988.33 384.92,987.62 385.00,986.90 385.09,986.19 385.17,985.47 385.26,984.76 385.34,984.04 385.42,983.32 385.51,982.61 385.59,981.89 385.67,981.17 385.75,980.45 385.84,979.74 385.92,979.02 386.00,978.30 386.08,977.58 386.16,976.86 386.24,976.14 386.32,975.42 386.41,974.71 386.49,973.99 386.57,973.27 386.64,972.54 386.72,971.82 386.80,971.10 386.88,970.38 386.96,969.66 387.04,968.94 387.12,968.22 387.19,967.49 387.27,966.77 387.35,966.05 387.42,965.32 387.50,964.60 387.57,963.87 387.65,963.15 387.73,962.43 387.80,961.70 387.87,960.97 387.95,960.25 388.02,959.52 388.10,958.80 388.17,958.07 388.24,957.34 388.31,956.61 388.38,955.88 388.46,955.16 388.53,954.43 388.60,953.70 388.67,952.97 388.74,952.24 388.81,951.51 388.88,950.78 388.95,950.05 389.02,949.32 389.08,948.58 389.15,947.85 389.22,947.12 389.29,946.39 389.36,945.66 389.42,944.92 389.49,944.19 389.56,943.46 389.62,942.72 389.69,941.99 389.76,941.26 389.82,940.52 389.89,939.79 389.95,939.05 390.02,938.32 390.08,937.58 390.15,936.85 390.21,936.11 390.28,935.38 390.34,934.64 390.41,933.91 390.47,933.17 390.53,932.43 390.60,931.70 390.66,930.96 390.72,930.22 390.79,929.49 390.85,928.75 390.91,928.01 390.98,927.28 391.04,926.54 391.10,925.80 391.16,925.06 391.23,924.33 391.29,923.59 391.35,922.85 391.41,922.11 391.48,921.38 391.54,920.64 391.60,919.90 391.66,919.16 391.72,918.42 391.79,917.69 391.85,916.95 391.91,916.21 391.97,915.47 392.03,914.73 392.10,914.00 392.16,913.26 392.22,912.52 392.28,911.78 392.34,911.04 392.41,910.31 392.47,909.57 392.53,908.83 392.59,908.09 392.65,907.35 392.72,906.62 392.78,905.88 392.84,905.14 392.90,904.40 392.97,903.67 393.03,902.93 393.09,902.19 393.15,901.45 393.22,900.72 393.28,899.98 393.34,899.24 393.41,898.51 393.47,897.77 393.53,897.03 393.60,896.30 393.66,895.56 393.73,894.83 393.79,894.09 393.85,893.35 393.92,892.62 393.98,891.88 394.05,891.15 394.11,890.41 394.18,889.68 394.24,888.94 394.31,888.21 394.38,887.48 394.44,886.74 394.51,886.01 394.58,885.28 394.64,884.54 394.71,883.81 394.78,883.08 394.85,882.35 394.91,881.61 394.98,880.88 395.05,880.15 395.12,879.42 395.19,878.69 395.26,877.96 395.33,877.23 395.40,876.50 395.47,875.77 395.54,875.04 395.61,874.31 395.68,873.58 395.75,872.85 395.83,872.13 395.90,871.40 395.97,870.67 396.05,869.95 396.12,869.22 396.19,868.49 396.27,867.77 396.34,867.04 396.42,866.32 396.49,865.59 396.57,864.87 396.65,864.15 396.72,863.42 396.80,862.70 396.88,861.98 396.96,861.26 397.04,860.54 397.11,859.81 397.19,859.09 397.27,858.37 397.35,857.65 397.44,856.94 397.52,856.22 397.60,855.50 397.68,854.78 397.77,854.07 397.85,853.35 397.93,852.63 398.02,851.92 398.10,851.20 398.19,850.49 398.28,849.78 398.36,849.06 398.45,848.35 398.54,847.64 398.63,846.93 398.71,846.21 398.80,845.50 398.90,844.80 398.99,844.09 399.08,843.38 399.17,842.67 399.26,841.96 399.36,841.26 399.45,840.55 399.54,839.84 399.64,839.14 399.74,838.44 399.83,837.73 399.93,837.03 400.03,836.33 400.13,835.63 400.22,834.92 400.32,834.22 400.43,833.53 400.53,832.83 400.63,832.13 400.73,831.43 400.83,830.73 400.94,830.04 401.04,829.34 401.15,828.65 401.26,827.96 401.36,827.26 401.47,826.57 401.58,825.88 401.69,825.19 401.80,824.50 401.91,823.81 402.02,823.12 402.13,822.43 402.25,821.75 402.36,821.06 402.48,820.38 402.59,819.69 402.71,819.01 402.83,818.33 402.94,817.64 403.06,816.96 403.18,816.28 403.30,815.60 403.43,814.93 403.55,814.25 403.67,813.57 403.80,812.90 403.92,812.22 404.05,811.55 404.17,810.87 404.30,810.20 404.43,809.53 404.56,808.86 404.69,808.19 404.82,807.52 404.95,806.85 405.09,806.19 405.22,805.52 405.36,804.86 405.49,804.19 405.63,803.53 405.77,802.87 405.91,802.21 406.05,801.55 406.19,800.89 406.33,800.23 406.47,799.57 406.62,798.92 406.76,798.26 406.91,797.61 407.06,796.96 407.21,796.31 407.35,795.65 407.51,795.01 407.66,794.36 407.81,793.71 407.96,793.06 408.12,792.42 408.27,791.77 408.43,791.13 408.59,790.49 408.75,789.85 408.91,789.21 409.07,788.57 409.23,787.93 409.39,787.29 409.56,786.66 409.72,786.02 409.89,785.39 410.06,784.76 410.23,784.13 410.40,783.50 410.57,782.87 410.74,782.24 410.91,781.61 411.09,780.99 411.27,780.37 411.44,779.74 411.62,779.12 411.80,778.50 411.98,777.88 412.16,777.26 412.35,776.65 412.53,776.03 412.72,775.42 412.90,774.80 413.09,774.19 413.28,773.58 413.47,772.97 413.66,772.36 413.86,771.76 414.05,771.15 414.25,770.55 414.45,769.95 414.64,769.34 414.84,768.74 415.05,768.15 415.25,767.55 415.45,766.95 415.66,766.36 415.86,765.76 416.07,765.17 416.28,764.58 416.49,763.99 416.70,763.40 416.92,762.82 417.13,762.23 417.35,761.65 417.56,761.06 417.78,760.48 418.00,759.90 418.23,759.33 418.45,758.75 418.67,758.17 418.90,757.60 419.13,757.03 419.35,756.45 419.58,755.88 419.82,755.32 420.05,754.75 420.28,754.18 420.52,753.62 420.76,753.06 420.99,752.49 421.23,751.93 421.48,751.38 421.72,750.82 421.96,750.26 422.21,749.71 422.46,749.16 422.70,748.60 422.95,748.05 423.21,747.51 423.46,746.96 423.71,746.41 423.97,745.87 424.23,745.33 424.49,744.79 424.75,744.25 425.01,743.71 425.27,743.17 425.53,742.63 425.80,742.10 426.07,741.57 426.34,741.04 426.61,740.51 426.88,739.98 427.15,739.45 427.43,738.93 427.70,738.40 427.98,737.88 428.26,737.36 428.54,736.84 428.82,736.32 429.10,735.80 429.39,735.29 429.67,734.77 429.96,734.26 430.25,733.75 430.54,733.24 430.83,732.73 431.13,732.23 431.42,731.72 431.72,731.22 432.02,730.72 432.32,730.22 432.62,729.72 432.92,729.22 433.22,728.72 433.53,728.23 433.84,727.74 434.14,727.24 434.45,726.75 434.77,726.27 435.08,725.78 435.39,725.29 435.71,724.81 436.03,724.33 436.34,723.84 436.66,723.36 436.99,722.89 437.31,722.41 437.63,721.93 437.96,721.46 438.29,720.99 438.62,720.52 438.95,720.05 439.28,719.58 439.61,719.11 439.95,718.65 440.29,718.19 440.62,717.72 440.96,717.26 441.31,716.81 441.65,716.35 441.99,715.89 442.34,715.44 442.69,714.99 443.03,714.53 443.38,714.08 443.74,713.64 444.09,713.19 444.44,712.74 444.80,712.30 445.16,711.86 445.52,711.42 445.88,710.98 446.24,710.54 446.61,710.11 446.97,709.67 447.34,709.24 447.71,708.81 448.08,708.38 448.45,707.95 448.82,707.52 449.20,707.10 449.57,706.67 449.95,706.25 450.33,705.83 450.71,705.41 451.09,704.99 451.48,704.58 451.86,704.16 452.25,703.75 452.64,703.34 453.03,702.93 453.42,702.52 453.82,702.12 454.21,701.71 454.61,701.31 455.01,700.91 455.40,700.50 455.81,700.11 456.21,699.71 456.61,699.31 457.02,698.92 457.43,698.53 457.84,698.14 458.25,697.75 458.66,697.36 459.07,696.97 459.49,696.59 459.90,696.20 460.32,695.82 460.74,695.44 461.16,695.06 461.59,694.69 462.01,694.31 462.44,693.94 462.87,693.57 463.29,693.19 463.73,692.83 464.16,692.46 464.59,692.09 465.03,691.73 465.47,691.37 465.90,691.00 466.34,690.64 466.79,690.29 467.23,689.93 467.68,689.58 468.12,689.22 468.57,688.87 469.02,688.52 469.47,688.17 469.93,687.83 470.38,687.48 470.84,687.14 471.30,686.80 471.76,686.46 472.22,686.12 472.68,685.78 473.14,685.44 473.61,685.11 474.08,684.78 474.55,684.45 475.02,684.12 475.49,683.79 475.97,683.47 476.44,683.14 476.92,682.82 477.40,682.50 477.88,682.18 478.36,681.86 478.84,681.54 479.33,681.23 479.81,680.91 480.30,680.60 480.79,680.29 481.28,679.98 481.77,679.67 482.27,679.37 482.76,679.06 483.26,678.76 483.76,678.46 484.26,678.16 484.76,677.86 485.26,677.56 485.77,677.27 486.27,676.97 486.78,676.68 487.29,676.39 487.80,676.10 488.31,675.81 488.82,675.52 489.34,675.24 489.85,674.95 490.37,674.67 490.89,674.39 491.41,674.11 491.93,673.83 492.45,673.55 492.98,673.28 493.50,673.00 494.03,672.73 494.56,672.46 495.09,672.19 495.62,671.92 496.15,671.65 496.68,671.38 497.22,671.12 497.75,670.85 498.29,670.59 498.83,670.33 499.37,670.07 499.91,669.81 500.45,669.55 501.00,669.30 501.54,669.04 502.09,668.79 502.64,668.54 503.19,668.29 503.74,668.04 504.29,667.79 504.84,667.54 505.39,667.29 505.95,667.05 506.51,666.81 507.06,666.56 507.62,666.32 508.18,666.08 508.74,665.84 509.31,665.61 509.87,665.37 510.43,665.13 511.00,664.90 511.57,664.67 512.14,664.44 512.71,664.21 513.28,663.98 513.85,663.75 514.42,663.52 514.99,663.29 515.57,663.07 516.15,662.85 516.72,662.62 517.30,662.40 517.88,662.18 518.46,661.96 519.04,661.74 519.63,661.53 520.21,661.31 520.79,661.09 521.38,660.88 521.97,660.67 522.56,660.46 523.15,660.25 523.74,660.04 524.33,659.83 524.92,659.62 525.51,659.41 526.11,659.21 526.70,659.00 527.30,658.80 527.90,658.60 528.49,658.39 529.09,658.19 529.69,657.99 530.30,657.80 530.90,657.60 531.50,657.40 532.10,657.20 532.71,657.01 533.32,656.82 533.92,656.62 534.53,656.43 535.14,656.24 535.75,656.05 536.36,655.86 536.97,655.67 537.59,655.49 538.20,655.30 538.81,655.11 539.43,654.93 540.05,654.75 540.66,654.56 541.28,654.38 541.90,654.20 542.52,654.02 543.14,653.84 543.76,653.66 544.39,653.49 545.01,653.31 545.63,653.13 546.26,652.96 546.89,652.79 547.51,652.61 548.14,652.44 548.77,652.27 549.40,652.10 550.03,651.93 550.66,651.76 551.30,651.60 551.93,651.43 552.57,651.27 553.20,651.10 553.84,650.94 554.48,650.78 555.11,650.61 555.75,650.45 556.39,650.29 557.03,650.13 557.68,649.98 558.32,649.82 558.96,649.66 559.61,649.51 560.25,649.35 560.90,649.20 561.54,649.04 562.19,648.89 562.84,648.74 563.49,648.59 564.14,648.44 564.79,648.29 565.44,648.14 566.10,648.00 566.75,647.85 567.41,647.71 568.06,647.56 568.72,647.42 569.38,647.28 570.03,647.13 570.69,646.99 571.35,646.85 572.01,646.71 572.67,646.57 573.34,646.44 574.00,646.30 574.66,646.16 575.33,646.03 576.00,645.90 576.66,645.76 577.33,645.63 578.00,645.50 578.67,645.37 579.34,645.24 580.01,645.11 580.68,644.98 581.35,644.85 582.02,644.72 582.70,644.60 583.37,644.47 584.05,644.35 584.73,644.23 585.40,644.10 586.08,643.98 586.76,643.86 587.44,643.74 588.12,643.62 588.80,643.50 589.48,643.38 590.17,643.27 590.85,643.15 591.53,643.03 592.22,642.92 592.91,642.81 593.59,642.69 594.28,642.58 594.97,642.47 595.66,642.36 596.35,642.25 597.04,642.14 597.73,642.03 598.42,641.92 599.12,641.82 599.81,641.71 600.51,641.61 601.20,641.50 601.90,641.40 602.59,641.29 603.29,641.19 603.99,641.09 604.69,640.99 605.39,640.89 606.09,640.79 606.79,640.69 607.49,640.59 608.20,640.50 608.90,640.40 609.61,640.31 610.31,640.21 611.02,640.12 611.72,640.02 612.43,639.93 613.14,639.84 613.85,639.75 614.56,639.66 615.27,639.57 615.98,639.48 616.69,639.39 617.41,639.31 618.12,639.22 618.83,639.13 619.55,639.05 620.27,638.97 620.98,638.88 621.70,638.80 622.42,638.72 623.14,638.64 623.86,638.56 624.58,638.48 625.30,638.40 626.02,638.32 626.74,638.24 627.46,638.16 628.19,638.09 628.91,638.01 629.64,637.94 630.36,637.86 631.09,637.79 631.82,637.72 632.54,637.64 633.27,637.57 634.00,637.50 634.73,637.43 635.46,637.36 636.19,637.29 636.92,637.22 637.66,637.16 638.39,637.09 639.13,637.03 639.86,636.96 640.60,636.90 641.33,636.83 642.07,636.77 642.81,636.71 643.54,636.64 644.28,636.58 645.02,636.52 645.76,636.46 646.50,636.40 647.24,636.34 647.99,636.29 648.73,636.23 649.47,636.17 650.22,636.12 650.96,636.06 651.71,636.01 652.45,635.95 653.20,635.90 653.95,635.85 654.70,635.80 655.45,635.75 656.19,635.69 656.94,635.64 657.70,635.60 658.45,635.55 659.20,635.50 659.95,635.45 660.70,635.40 661.46,635.36 662.21,635.31 662.97,635.27 663.72,635.22 664.48,635.18 665.24,635.14 665.99,635.09 666.75,635.05 667.51,635.01 668.27,634.97 669.03,634.93 669.79,634.89 670.55,634.85 671.32,634.82 672.08,634.78 672.84,634.74 673.60,634.70 674.37,634.67 675.13,634.63 675.90,634.60 676.67,634.57 677.43,634.53 678.20,634.50 678.97,634.47 679.74,634.44 680.51,634.41 681.28,634.38 682.05,634.35 682.82,634.32 683.59,634.29 684.36,634.26 685.13,634.23 685.91,634.21 686.68,634.18 687.45,634.15 688.23,634.13 689.01,634.11 689.78,634.08 690.56,634.06 691.34,634.04 692.11,634.01 692.89,633.99 693.67,633.97 694.45,633.95 695.23,633.93 696.01,633.91 696.79,633.89 697.57,633.87 698.36,633.86 699.14,633.84 699.92,633.82 700.71,633.81 701.49,633.79 702.28,633.78 703.06,633.76 703.85,633.75 704.63,633.73 705.42,633.72 706.21,633.71 707.00,633.70 707.79,633.69 708.58,633.68 709.37,633.67 710.16,633.66 710.95,633.65 711.74,633.64 712.53,633.63 713.32,633.62 714.12,633.62 714.91,633.61 715.70,633.60 716.50,633.60 717.29,633.59 718.09,633.59 718.89,633.59 718.99,633.59" fill="none" stroke="#1260dc" stroke-width="2.30" stroke-linejoin="round" stroke-linecap="round"/>
<rect x="107.0" y="586.9" width="638.8" height="514.6" fill="none" stroke="#000" stroke-width="2"/>
<path d="M97.0,1096.90H107.0M102.0,1050.54H107.0M97.0,1004.18H107.0M102.0,957.82H107.0M97.0,911.46H107.0M102.0,865.10H107.0M97.0,818.74H107.0M102.0,772.38H107.0M97.0,726.02H107.0M102.0,679.66H107.0M97.0,633.30H107.0M102.0,586.94H107.0M107.00,1101.5V1111.5M186.85,1101.5V1106.5M266.70,1101.5V1111.5M346.55,1101.5V1106.5M426.40,1101.5V1111.5M506.25,1101.5V1106.5M586.10,1101.5V1111.5M665.95,1101.5V1106.5M745.80,1101.5V1111.5" stroke="#000" stroke-width="2" fill="none"/>
<g transform="translate(90.00,1103.20) scale(1,1.030)"><text x="0" y="0" font-size="22" text-anchor="end">0.0</text></g>
<g transform="translate(90.00,1010.48) scale(1,1.030)"><text x="0" y="0" font-size="22" text-anchor="end">0.2</text></g>
<g transform="translate(90.00,917.76) scale(1,1.030)"><text x="0" y="0" font-size="22" text-anchor="end">0.4</text></g>
<g transform="translate(90.00,825.04) scale(1,1.030)"><text x="0" y="0" font-size="22" text-anchor="end">0.6</text></g>
<g transform="translate(90.00,732.32) scale(1,1.030)"><text x="0" y="0" font-size="22" text-anchor="end">0.8</text></g>
<g transform="translate(90.00,639.60) scale(1,1.030)"><text x="0" y="0" font-size="22" text-anchor="end">1.0</text><rect x="-30.28" y="-1.85" width="5.20" height="2.9" fill="#fff"/><rect x="-23.08" y="-1.85" width="4.40" height="2.9" fill="#fff"/></g>
<g transform="translate(107.00,1135.44) scale(1,1.030)"><text x="0" y="0" font-size="22" text-anchor="middle">0.0</text></g>
<g transform="translate(266.70,1135.44) scale(1,1.030)"><text x="0" y="0" font-size="22" text-anchor="middle">0.5</text></g>
<g transform="translate(426.40,1135.44) scale(1,1.030)"><text x="0" y="0" font-size="22" text-anchor="middle">1.0</text><rect x="-14.99" y="-1.85" width="5.20" height="2.9" fill="#fff"/><rect x="-7.79" y="-1.85" width="4.40" height="2.9" fill="#fff"/></g>
<g transform="translate(586.10,1135.44) scale(1,1.030)"><text x="0" y="0" font-size="22" text-anchor="middle">1.5</text><rect x="-14.99" y="-1.85" width="5.20" height="2.9" fill="#fff"/><rect x="-7.79" y="-1.85" width="4.40" height="2.9" fill="#fff"/></g>
<g transform="translate(745.80,1135.44) scale(1,1.030)"><text x="0" y="0" font-size="22" text-anchor="middle">2.0</text></g>
<text x="119.4" y="629.2" font-size="36.5">(b)</text>
<path d="M107.0,1686.0 C110.8,1686.0 122.8,1686.0 130.0,1686.0 C137.2,1686.0 141.7,1686.0 150.0,1686.0 C158.3,1686.0 171.7,1686.0 180.0,1686.0 C188.3,1686.0 193.3,1685.8 200.0,1685.8 C206.7,1685.8 214.7,1685.8 220.0,1685.7 C225.3,1685.6 230.0,1685.1 232.0,1685.0 L232.00,1685.00 232.77,1684.97 233.49,1684.89 234.17,1684.77 234.81,1684.61 235.40,1684.40 235.96,1684.16 236.48,1683.88 236.97,1683.57 237.43,1683.23 237.86,1682.86 238.26,1682.46 238.63,1682.03 238.98,1681.58 239.31,1681.11 239.62,1680.62 239.92,1680.12 240.19,1679.59 240.45,1679.05 240.70,1678.50 240.93,1677.93 241.16,1677.36 241.37,1676.77 241.56,1676.16 241.75,1675.55 241.92,1674.92 242.09,1674.29 242.25,1673.65 242.39,1672.99 242.53,1672.33 242.66,1671.66 242.79,1670.99 242.91,1670.31 243.02,1669.62 243.12,1668.92 243.22,1668.22 243.32,1667.52 243.41,1666.81 243.50,1666.10 243.59,1665.39 243.67,1664.67 243.75,1663.95 243.84,1663.24 243.92,1662.52 244.00,1661.80 244.08,1661.08 244.16,1660.36 244.23,1659.63 244.31,1658.91 244.39,1658.19 244.47,1657.47 244.54,1656.74 244.62,1656.02 244.70,1655.30 244.77,1654.57 244.85,1653.85 244.92,1653.12 245.00,1652.40 245.07,1651.67 245.14,1650.94 245.22,1650.22 245.29,1649.49 245.36,1648.76 245.43,1648.03 245.50,1647.30 245.57,1646.57 245.64,1645.84 245.71,1645.11 245.78,1644.38 245.85,1643.65 245.92,1642.92 245.98,1642.18 246.05,1641.45 246.12,1640.72 246.18,1639.98 246.25,1639.25 246.31,1638.51 246.38,1637.78 246.44,1637.04 246.51,1636.31 246.57,1635.57 246.63,1634.83 246.69,1634.09 246.76,1633.36 246.82,1632.62 246.88,1631.88 246.94,1631.14 247.00,1630.40 247.06,1629.66 247.12,1628.92 247.18,1628.18 247.24,1627.44 247.29,1626.69 247.35,1625.95 247.41,1625.21 247.46,1624.46 247.52,1623.72 247.58,1622.98 247.63,1622.23 247.69,1621.49 247.74,1620.74 247.79,1619.99 247.85,1619.25 247.90,1618.50 247.95,1617.75 248.01,1617.01 248.06,1616.26 248.11,1615.51 248.16,1614.76 248.21,1614.01 248.26,1613.26 248.31,1612.51 248.36,1611.76 248.41,1611.01 248.46,1610.26 248.50,1609.50 248.55,1608.75 248.60,1608.00 248.65,1607.25 248.69,1606.49 248.74,1605.74 248.79,1604.99 248.83,1604.23 248.88,1603.48 248.92,1602.72 248.97,1601.97 249.01,1601.21 249.05,1600.45 249.10,1599.70 249.14,1598.94 249.18,1598.18 249.23,1597.43 249.27,1596.67 249.31,1595.91 249.35,1595.15 249.39,1594.39 249.43,1593.63 249.48,1592.88 249.52,1592.12 249.56,1591.36 249.60,1590.60 249.64,1589.84 249.68,1589.08 249.71,1588.31 249.75,1587.55 249.79,1586.79 249.83,1586.03 249.87,1585.27 249.91,1584.51 249.94,1583.74 249.98,1582.98 250.02,1582.22 250.05,1581.45 250.09,1580.69 250.13,1579.93 250.16,1579.16 250.20,1578.40 250.24,1577.64 250.27,1576.87 250.31,1576.11 250.34,1575.34 250.38,1574.58 250.41,1573.81 250.44,1573.04 250.48,1572.28 250.51,1571.51 250.55,1570.75 250.58,1569.98 250.61,1569.21 250.65,1568.45 250.68,1567.68 250.71,1566.91 250.75,1566.15 250.78,1565.38 250.81,1564.61 250.84,1563.84 250.88,1563.08 250.91,1562.31 250.94,1561.54 250.97,1560.77 251.00,1560.00 251.04,1559.24 251.07,1558.47 251.10,1557.70 251.13,1556.93 251.16,1556.16 251.19,1555.39 251.22,1554.62 251.25,1553.85 251.28,1553.08 251.32,1552.32 251.35,1551.55 251.38,1550.78 251.41,1550.01 251.44,1549.24 251.47,1548.47 251.50,1547.70 251.53,1546.93 251.56,1546.16 251.59,1545.39 251.62,1544.62 251.65,1543.85 251.68,1543.08 251.71,1542.31 251.74,1541.54 251.77,1540.77 251.80,1540.00 251.83,1539.23 251.86,1538.46 251.88,1537.68 251.91,1536.91 251.94,1536.14 251.97,1535.37 252.00,1534.60 252.03,1533.83 252.06,1533.06 252.09,1532.29 252.12,1531.52 252.15,1530.75 252.18,1529.98 252.21,1529.21 252.24,1528.44 252.27,1527.67 252.30,1526.90 252.33,1526.13 252.36,1525.36 252.39,1524.59 252.42,1523.82 252.45,1523.05 252.48,1522.28 252.51,1521.51 252.54,1520.74 252.57,1519.97 252.60,1519.20 252.63,1518.43 252.66,1517.66 252.69,1516.89 252.72,1516.12 252.75,1515.35 252.78,1514.58 252.81,1513.81 252.84,1513.04 252.87,1512.27 252.90,1511.50 252.93,1510.73 252.96,1509.96 252.99,1509.19 253.02,1508.42 253.05,1507.65 253.08,1506.88 253.11,1506.11 253.14,1505.34 253.17,1504.57 253.20,1503.80 253.23,1503.03 253.26,1502.26 253.29,1501.49 253.32,1500.72 253.35,1499.95 253.38,1499.18 253.41,1498.41 253.45,1497.65 253.48,1496.88 253.51,1496.11 253.54,1495.34 253.57,1494.57 253.60,1493.80 253.63,1493.03 253.66,1492.26 253.69,1491.49 253.72,1490.72 253.75,1489.95 253.78,1489.18 253.81,1488.41 253.85,1487.65 253.88,1486.88 253.91,1486.11 253.94,1485.34 253.97,1484.57 254.00,1483.80 254.03,1483.03 254.06,1482.26 254.09,1481.49 254.12,1480.72 254.16,1479.96 254.19,1479.19 254.22,1478.42 254.25,1477.65 254.28,1476.88 254.31,1476.11 254.34,1475.34 254.38,1474.58 254.41,1473.81 254.44,1473.04 254.47,1472.27 254.50,1471.50 254.53,1470.73 254.57,1469.97 254.60,1469.20 254.63,1468.43 254.66,1467.66 254.69,1466.89 254.72,1466.12 254.76,1465.36 254.79,1464.59 254.82,1463.82 254.85,1463.05 254.88,1462.28 254.92,1461.52 254.95,1460.75 254.98,1459.98 255.01,1459.21 255.04,1458.44 255.08,1457.68 255.11,1456.91 255.14,1456.14 255.17,1455.37 255.20,1454.60 255.24,1453.84 255.27,1453.07 255.30,1452.30 255.33,1451.53 255.37,1450.77 255.40,1450.00 255.43,1449.23 255.46,1448.46 255.50,1447.70 255.53,1446.93 255.56,1446.16 255.60,1445.40 255.63,1444.63 255.66,1443.86 255.69,1443.09 255.73,1442.33 255.76,1441.56 255.79,1440.79 255.83,1440.03 255.86,1439.26 255.89,1438.49 255.93,1437.73 255.96,1436.96 255.99,1436.19 256.03,1435.43 256.06,1434.66 256.09,1433.89 256.13,1433.13 256.16,1432.36 256.19,1431.59 256.23,1430.83 256.26,1430.06 256.29,1429.29 256.33,1428.53 256.36,1427.76 256.39,1426.99 256.43,1426.23 256.46,1425.46 256.50,1424.70 256.53,1423.93 256.56,1423.16 256.60,1422.40 256.63,1421.63 256.67,1420.87 256.70,1420.10 256.73,1419.33 256.77,1418.57 256.80,1417.80 256.84,1417.04 256.87,1416.27 256.90,1415.50 256.94,1414.74 256.97,1413.97 257.01,1413.21 257.04,1412.44 257.08,1411.68 257.11,1410.91 257.15,1410.15 257.18,1409.38 257.22,1408.62 257.25,1407.85 257.29,1407.09 257.32,1406.32 257.36,1405.56 257.39,1404.79 257.43,1404.03 257.46,1403.26 257.50,1402.50 257.53,1401.73 257.57,1400.97 257.60,1400.20 257.64,1399.44 257.67,1398.67 257.71,1397.91 257.74,1397.14 257.78,1396.38 257.81,1395.61 257.85,1394.85 257.89,1394.09 257.92,1393.32 257.96,1392.56 257.99,1391.79 258.03,1391.03 258.07,1390.27 258.10,1389.50 258.14,1388.74 258.17,1387.97 258.21,1387.21 258.25,1386.45 258.28,1385.68 258.32,1384.92 258.35,1384.15 258.39,1383.39 258.43,1382.63 258.46,1381.86 258.50,1381.10 258.54,1380.34 258.57,1379.57 258.61,1378.81 258.65,1378.05 258.68,1377.28 258.72,1376.52 258.76,1375.76 258.79,1374.99 258.83,1374.23 258.87,1373.47 258.91,1372.71 258.94,1371.94 258.98,1371.18 259.02,1370.42 259.06,1369.66 259.09,1368.89 259.13,1368.13 259.17,1367.37 259.21,1366.61 259.24,1365.84 259.28,1365.08 259.32,1364.32 259.36,1363.56 259.39,1362.79 259.43,1362.03 259.47,1361.27 259.51,1360.51 259.55,1359.75 259.58,1358.98 259.62,1358.22 259.66,1357.46 259.70,1356.70 259.74,1355.94 259.78,1355.18 259.81,1354.41 259.85,1353.65 259.89,1352.89 259.93,1352.13 259.97,1351.37 260.01,1350.61 260.05,1349.85 260.09,1349.09 260.12,1348.32 260.16,1347.56 260.20,1346.80 260.24,1346.04 260.28,1345.28 260.32,1344.52 260.36,1343.76 260.40,1343.00 260.44,1342.24 260.48,1341.48 260.52,1340.72 260.56,1339.96 260.60,1339.20 260.64,1338.44 260.68,1337.68 260.72,1336.92 260.76,1336.16 260.80,1335.40 260.84,1334.64 260.88,1333.88 260.92,1333.12 260.96,1332.36 261.00,1331.60 261.04,1330.84 261.08,1330.08 261.12,1329.32 261.16,1328.56 261.20,1327.80 261.24,1327.04 261.28,1326.28 261.32,1325.52 261.36,1324.76 261.40,1324.00 261.45,1323.25 261.49,1322.49 261.53,1321.73 261.57,1320.97 261.61,1320.21 261.65,1319.45 261.69,1318.69 261.73,1317.93 261.78,1317.18 261.82,1316.42 261.86,1315.66 261.90,1314.90 261.94,1314.14 261.98,1313.38 262.03,1312.63 262.07,1311.87 262.11,1311.11 262.15,1310.35 262.20,1309.60 262.24,1308.84 262.28,1308.08 262.33,1307.33 262.37,1306.57 262.41,1305.81 262.46,1305.06 262.50,1304.30 262.55,1303.55 262.59,1302.79 262.64,1302.04 262.68,1301.28 262.73,1300.53 262.78,1299.78 262.82,1299.02 262.87,1298.27 262.92,1297.52 262.97,1296.77 263.02,1296.02 263.06,1295.26 263.12,1294.52 263.17,1293.77 263.22,1293.02 263.27,1292.27 263.32,1291.52 263.37,1290.77 263.43,1290.03 263.48,1289.28 263.54,1288.54 263.59,1287.79 263.65,1287.05 263.71,1286.31 263.76,1285.56 263.82,1284.82 263.88,1284.08 263.94,1283.34 264.00,1282.60 264.07,1281.87 264.13,1281.13 264.19,1280.39 264.26,1279.66 264.32,1278.92 264.39,1278.19 264.46,1277.46 264.53,1276.73 264.59,1275.99 264.67,1275.27 264.74,1274.54 264.81,1273.81 264.88,1273.08 264.96,1272.36 265.03,1271.63 265.11,1270.91 265.19,1270.19 265.27,1269.47 265.35,1268.75 265.43,1268.03 265.51,1267.31 265.60,1266.60 265.68,1265.88 265.77,1265.17 265.85,1264.45 265.94,1263.74 266.03,1263.03 266.13,1262.33 266.22,1261.62 266.31,1260.91 266.41,1260.21 266.51,1259.51 266.60,1258.80 266.71,1258.11 266.81,1257.41 266.91,1256.71 267.01,1256.01 267.12,1255.32 267.23,1254.63 267.34,1253.94 267.45,1253.25 267.56,1252.56 267.67,1251.87 267.79,1251.19 267.91,1250.51 268.02,1249.82 268.15,1249.15 268.27,1248.47 268.39,1247.79 268.52,1247.12 268.65,1246.45 268.78,1245.78 268.91,1245.11 269.05,1244.45 269.19,1243.79 269.33,1243.13 269.48,1242.48 269.64,1241.84 269.79,1241.19 269.96,1240.56 270.13,1239.93 270.30,1239.30 270.48,1238.68 270.67,1238.07 270.87,1237.47 271.07,1236.87 271.28,1236.28 271.50,1235.70 271.72,1235.12 271.96,1234.56 272.20,1234.00 272.45,1233.45 272.71,1232.91 272.98,1232.38 273.26,1231.86 273.56,1231.36 273.86,1230.86 274.17,1230.37 274.50,1229.90 274.84,1229.44 275.18,1228.98 275.55,1228.55 275.92,1228.12 276.31,1227.71 276.71,1227.31 277.12,1226.92 277.55,1226.55 277.99,1226.19 278.45,1225.85 278.92,1225.52 279.41,1225.21 279.91,1224.91 280.43,1224.63 280.97,1224.37 281.52,1224.12 282.09,1223.89 282.67,1223.67 283.28,1223.48 283.90,1223.30 284.54,1223.14 285.20,1223.00 285.88,1222.88 286.57,1222.77 287.29,1222.69 288.02,1222.62 288.77,1222.57 289.53,1222.53 290.30,1222.50 291.09,1222.49 291.89,1222.49 292.69,1222.49 293.51,1222.51 294.33,1222.53 295.16,1222.56 295.99,1222.59 296.83,1222.63 297.67,1222.67 298.51,1222.71 299.35,1222.75 300.19,1222.79 301.02,1222.82 301.86,1222.86 302.69,1222.89 303.51,1222.91 304.32,1222.92 305.14,1222.94 305.95,1222.95 306.75,1222.95 307.55,1222.95 308.35,1222.95 309.14,1222.94 309.93,1222.93 310.72,1222.92 311.50,1222.90 312.29,1222.89 313.07,1222.87 313.86,1222.86 314.64,1222.84 315.42,1222.82 316.21,1222.81 316.99,1222.79 317.77,1222.77 318.56,1222.76 319.34,1222.74 320.13,1222.73 320.91,1222.71 321.70,1222.70 322.48,1222.68 323.27,1222.67 324.05,1222.65 324.84,1222.64 325.63,1222.63 326.41,1222.61 327.20,1222.60 327.99,1222.59 328.78,1222.58 329.57,1222.57 330.35,1222.55 331.14,1222.54 331.93,1222.53 332.72,1222.52 333.51,1222.51 334.30,1222.50 335.09,1222.49 335.88,1222.48 336.67,1222.47 337.46,1222.46 338.25,1222.45 339.04,1222.44 339.83,1222.43 340.63,1222.43 341.42,1222.42 342.21,1222.41 343.00,1222.40 343.80,1222.40 344.59,1222.39 345.38,1222.38 346.17,1222.37 346.97,1222.37 347.76,1222.36 348.55,1222.35 349.35,1222.35 350.14,1222.34 350.94,1222.34 351.73,1222.33 352.53,1222.33 353.32,1222.32 354.12,1222.32 354.91,1222.31 355.71,1222.31 356.50,1222.30 357.30,1222.30 358.10,1222.30 358.89,1222.29 359.69,1222.29 360.49,1222.29 361.28,1222.28 362.08,1222.28 362.88,1222.28 363.67,1222.27 364.47,1222.27 365.27,1222.27 366.07,1222.27 366.86,1222.26 367.66,1222.26 368.46,1222.26 369.26,1222.26 370.06,1222.26 370.86,1222.26 371.66,1222.26 372.45,1222.25 373.25,1222.25 374.05,1222.25 374.85,1222.25 375.65,1222.25 376.45,1222.25 377.25,1222.25 378.05,1222.25 378.85,1222.25 379.65,1222.25 380.45,1222.25 381.25,1222.25 382.05,1222.25 382.85,1222.25 383.65,1222.25 384.45,1222.25 385.25,1222.25 386.05,1222.25 386.85,1222.25 387.65,1222.25 388.46,1222.26 389.26,1222.26 390.06,1222.26 390.86,1222.26 391.66,1222.26 392.46,1222.26 393.26,1222.26 394.06,1222.26 394.86,1222.26 395.67,1222.27 396.47,1222.27 397.27,1222.27 398.07,1222.27 398.87,1222.27 399.67,1222.27 400.48,1222.28 401.28,1222.28 402.08,1222.28 402.88,1222.28 403.68,1222.28 404.49,1222.29 405.29,1222.29 406.09,1222.29 406.89,1222.29 407.69,1222.29 408.50,1222.30 409.30,1222.30 410.10,1222.30 410.90,1222.30 411.70,1222.30 412.51,1222.31 413.31,1222.31 414.11,1222.31 414.91,1222.31 415.71,1222.31 416.52,1222.32 417.32,1222.32 418.12,1222.32 418.92,1222.32 419.72,1222.32 420.52,1222.32 421.33,1222.33 422.13,1222.33 422.93,1222.33 423.73,1222.33 424.53,1222.33 425.34,1222.34 426.14,1222.34 426.94,1222.34 427.74,1222.34 428.54,1222.34 429.34,1222.34 430.14,1222.34 430.95,1222.35 431.75,1222.35 432.55,1222.35 433.35,1222.35 434.15,1222.35 434.95,1222.35 435.75,1222.35 436.56,1222.36 437.36,1222.36 438.16,1222.36 438.96,1222.36 439.76,1222.36 440.56,1222.36 441.36,1222.36 442.16,1222.36 442.97,1222.37 443.77,1222.37 444.57,1222.37 445.37,1222.37 446.17,1222.37 446.97,1222.37 447.77,1222.37 448.57,1222.37 449.37,1222.37 450.17,1222.37 450.98,1222.38 451.78,1222.38 452.58,1222.38 453.38,1222.38 454.18,1222.38 454.98,1222.38 455.78,1222.38 456.58,1222.38 457.38,1222.38 458.18,1222.38 458.98,1222.38 459.78,1222.38 460.58,1222.38 461.38,1222.38 462.19,1222.39 462.99,1222.39 463.79,1222.39 464.59,1222.39 465.39,1222.39 466.19,1222.39 466.99,1222.39 467.79,1222.39 468.59,1222.39 469.39,1222.39 470.19,1222.39 470.99,1222.39 471.79,1222.39 472.59,1222.39 473.39,1222.39 474.19,1222.39 474.99,1222.39 475.79,1222.39 476.59,1222.39 477.39,1222.39 478.19,1222.39 478.99,1222.39 479.79,1222.39 480.59,1222.39 481.39,1222.39 482.19,1222.39 482.99,1222.39 483.79,1222.39 484.60,1222.40 485.40,1222.40 486.20,1222.40 487.00,1222.40 487.80,1222.40 488.60,1222.40 489.40,1222.40 490.20,1222.40 491.00,1222.40 491.80,1222.40 492.60,1222.40 493.40,1222.40 494.20,1222.40 495.00,1222.40 495.80,1222.40 496.60,1222.40 497.40,1222.40 498.20,1222.40 499.00,1222.40 499.80,1222.40 500.59,1222.39 501.39,1222.39 502.19,1222.39 502.99,1222.39 503.79,1222.39 504.59,1222.39 505.39,1222.39 506.19,1222.39 506.99,1222.39 507.79,1222.39 508.59,1222.39 509.39,1222.39 510.19,1222.39 510.99,1222.39 511.79,1222.39 512.59,1222.39 513.39,1222.39 514.19,1222.39 514.99,1222.39 515.79,1222.39 516.59,1222.39 517.39,1222.39 518.19,1222.39 518.99,1222.39 519.79,1222.39 520.59,1222.39 521.39,1222.39 522.19,1222.39 522.99,1222.39 523.79,1222.39 524.59,1222.39 525.39,1222.39 526.19,1222.39 526.99,1222.39 527.79,1222.39 528.59,1222.39 529.38,1222.38 530.18,1222.38 530.98,1222.38 531.78,1222.38 532.58,1222.38 533.38,1222.38 534.18,1222.38 534.98,1222.38 535.78,1222.38 536.58,1222.38 537.38,1222.38 538.18,1222.38 538.98,1222.38 539.78,1222.38 540.58,1222.38 541.38,1222.38 542.18,1222.38 542.98,1222.38 543.78,1222.38 544.58,1222.38 545.38,1222.38 546.18,1222.38 546.98,1222.38 547.78,1222.38 548.57,1222.37 549.37,1222.37 550.17,1222.37 550.97,1222.37 551.77,1222.37 552.57,1222.37 553.37,1222.37 554.17,1222.37 554.97,1222.37 555.77,1222.37 556.57,1222.37 557.37,1222.37 558.17,1222.37 558.97,1222.37 559.77,1222.37 560.57,1222.37 561.37,1222.37 562.17,1222.37 562.97,1222.37 563.77,1222.37 564.57,1222.37 565.37,1222.37 566.17,1222.37 566.97,1222.37 567.77,1222.37 568.56,1222.36 569.36,1222.36 570.16,1222.36 570.96,1222.36 571.76,1222.36 572.56,1222.36 573.36,1222.36 574.16,1222.36 574.96,1222.36 575.76,1222.36 576.56,1222.36 577.36,1222.36 578.16,1222.36 578.96,1222.36 579.76,1222.36 580.56,1222.36 581.36,1222.36 582.16,1222.36 582.96,1222.36 583.76,1222.36 584.56,1222.36 585.36,1222.36 586.16,1222.36 586.96,1222.36 587.76,1222.36 588.56,1222.36 589.36,1222.36 590.16,1222.36 590.96,1222.36 591.76,1222.36 592.56,1222.36 593.36,1222.36 594.16,1222.36 594.96,1222.36 595.76,1222.36 596.56,1222.36 597.36,1222.36 598.16,1222.36 598.96,1222.36 599.76,1222.36 600.56,1222.36 601.36,1222.36 602.16,1222.36 602.96,1222.36 603.76,1222.36 604.56,1222.36 605.36,1222.36 606.16,1222.36 606.96,1222.36 607.76,1222.36 608.56,1222.36 609.36,1222.36 610.16,1222.36 610.96,1222.36 611.76,1222.36 612.56,1222.36 613.36,1222.36 614.16,1222.36 614.96,1222.36 615.76,1222.36 616.56,1222.36 617.36,1222.36 618.16,1222.36 618.96,1222.36 619.76,1222.36 620.56,1222.36 621.36,1222.36 622.16,1222.36 622.96,1222.36 623.76,1222.36 624.56,1222.36 625.36,1222.36 626.16,1222.36 626.96,1222.36 627.76,1222.36 628.56,1222.36 629.37,1222.37 630.17,1222.37 630.97,1222.37 631.77,1222.37 632.57,1222.37 633.37,1222.37 634.17,1222.37 634.97,1222.37 635.77,1222.37 636.57,1222.37 637.37,1222.37 638.17,1222.37 638.97,1222.37 639.77,1222.37 640.57,1222.37 641.38,1222.38 642.18,1222.38 642.98,1222.38 643.78,1222.38 644.58,1222.38 645.38,1222.38 646.18,1222.38 646.98,1222.38 647.78,1222.38 648.58,1222.38 649.39,1222.39 650.19,1222.39 650.99,1222.39 651.79,1222.39 652.59,1222.39 653.39,1222.39 654.19,1222.39 654.99,1222.39 655.79,1222.39 656.60,1222.40 657.40,1222.40 658.20,1222.40 659.00,1222.40 659.80,1222.40 660.00,1222.40" fill="none" stroke="#484848" stroke-width="2.30" stroke-linejoin="round" stroke-linecap="round"/>
<path d="M107.0,1686.0 C109.8,1686.2 120.2,1686.9 123.9,1686.9 C127.7,1686.9 128.3,1686.3 129.5,1686.0 C130.7,1685.7 130.7,1684.3 131.2,1684.8 C131.7,1685.3 131.8,1688.1 132.6,1688.8 C133.4,1689.5 134.6,1689.0 136.0,1689.0 C137.4,1689.0 139.8,1689.5 141.0,1688.8 C142.2,1688.1 142.7,1686.2 143.5,1685.0 C144.3,1683.8 145.2,1682.0 146.0,1681.8 C146.8,1681.6 147.6,1682.8 148.5,1684.0 C149.4,1685.2 150.7,1688.7 151.5,1688.9 C152.3,1689.1 152.8,1686.2 153.5,1685.0 C154.2,1683.8 154.7,1682.0 155.4,1681.8 C156.2,1681.5 157.2,1683.1 158.0,1683.5 C158.8,1683.9 158.7,1684.5 160.1,1684.4 C161.5,1684.3 164.4,1683.2 166.3,1683.0 C168.2,1682.8 170.2,1683.0 171.8,1683.4 C173.4,1683.9 174.1,1684.9 175.7,1685.7 C177.3,1686.5 179.3,1688.8 181.3,1688.5 C183.3,1688.2 185.6,1684.5 187.6,1684.2 C189.6,1683.9 191.1,1686.5 193.1,1686.9 C195.1,1687.3 197.1,1686.2 199.4,1686.5 C201.8,1686.8 204.8,1688.6 207.2,1688.5 C209.5,1688.4 211.2,1686.6 213.5,1686.1 C215.8,1685.6 219.0,1685.9 221.3,1685.4 C223.7,1684.9 225.2,1682.7 227.6,1683.0 C230.0,1683.3 233.3,1686.8 235.5,1687.3 C237.7,1687.8 238.7,1686.2 241.0,1685.7 C243.3,1685.2 247.4,1684.5 249.6,1684.6 C251.8,1684.7 252.7,1686.3 254.4,1686.1 C256.1,1685.9 258.1,1683.4 259.9,1683.4 C261.7,1683.4 263.7,1685.7 265.4,1686.1 C267.1,1686.5 267.9,1685.6 270.0,1685.6 C272.1,1685.6 275.1,1686.5 277.9,1686.2 C280.6,1685.9 283.9,1683.9 286.5,1683.8 C289.1,1683.7 290.5,1685.1 293.6,1685.4 C296.8,1685.7 301.5,1685.9 305.4,1685.8 C309.3,1685.7 313.9,1684.9 317.2,1684.6 C320.5,1684.3 321.2,1683.9 325.1,1684.0 C329.0,1684.1 335.5,1685.0 340.7,1685.4 C345.9,1685.8 351.2,1686.1 356.5,1686.2 C361.8,1686.3 368.3,1686.2 372.2,1686.0 C376.1,1685.8 378.7,1685.2 380.0,1685.0 L380.00,1685.00 380.81,1685.01 381.62,1685.02 382.40,1685.00 383.17,1684.97 383.91,1684.91 384.64,1684.84 385.35,1684.75 386.04,1684.64 386.71,1684.51 387.36,1684.36 387.98,1684.18 388.58,1683.98 389.16,1683.76 389.72,1683.52 390.25,1683.25 390.76,1682.96 391.25,1682.65 391.71,1682.31 392.15,1681.95 392.57,1681.57 392.97,1681.17 393.36,1680.76 393.72,1680.32 394.07,1679.87 394.41,1679.41 394.73,1678.93 395.05,1678.45 395.35,1677.95 395.64,1677.44 395.92,1676.92 396.20,1676.40 396.46,1675.86 396.73,1675.33 396.98,1674.78 397.23,1674.23 397.47,1673.67 397.71,1673.11 397.94,1672.54 398.16,1671.96 398.38,1671.38 398.59,1670.79 398.80,1670.20 399.00,1669.60 399.20,1669.00 399.39,1668.39 399.58,1667.78 399.76,1667.16 399.94,1666.54 400.12,1665.92 400.29,1665.29 400.46,1664.66 400.62,1664.02 400.78,1663.38 400.94,1662.74 401.10,1662.10 401.25,1661.45 401.40,1660.80 401.55,1660.15 401.69,1659.49 401.83,1658.83 401.98,1658.18 402.11,1657.51 402.25,1656.85 402.39,1656.19 402.52,1655.52 402.66,1654.86 402.79,1654.19 402.92,1653.52 403.06,1652.86 403.19,1652.19 403.32,1651.52 403.45,1650.85 403.58,1650.18 403.71,1649.51 403.84,1648.84 403.98,1648.18 404.11,1647.51 404.24,1646.84 404.37,1646.17 404.50,1645.50 404.63,1644.83 404.76,1644.16 404.89,1643.49 405.02,1642.82 405.15,1642.15 405.28,1641.48 405.41,1640.81 405.54,1640.14 405.67,1639.47 405.79,1638.79 405.92,1638.12 406.05,1637.45 406.18,1636.78 406.31,1636.11 406.44,1635.44 406.57,1634.77 406.69,1634.09 406.82,1633.42 406.95,1632.75 407.08,1632.08 407.20,1631.40 407.33,1630.73 407.46,1630.06 407.58,1629.38 407.71,1628.71 407.84,1628.04 407.96,1627.36 408.09,1626.69 408.22,1626.02 408.34,1625.34 408.47,1624.67 408.59,1623.99 408.72,1623.32 408.84,1622.64 408.97,1621.97 409.09,1621.29 409.22,1620.62 409.34,1619.94 409.47,1619.27 409.59,1618.59 409.71,1617.91 409.84,1617.24 409.96,1616.56 410.08,1615.88 410.21,1615.21 410.33,1614.53 410.45,1613.85 410.58,1613.18 410.70,1612.50 410.82,1611.82 410.94,1611.14 411.06,1610.46 411.19,1609.79 411.31,1609.11 411.43,1608.43 411.55,1607.75 411.67,1607.07 411.79,1606.39 411.91,1605.71 412.03,1605.03 412.15,1604.35 412.27,1603.67 412.39,1602.99 412.51,1602.31 412.63,1601.63 412.75,1600.95 412.87,1600.27 412.98,1599.58 413.10,1598.90 413.22,1598.22 413.34,1597.54 413.45,1596.85 413.57,1596.17 413.69,1595.49 413.81,1594.81 413.92,1594.12 414.04,1593.44 414.16,1592.76 414.27,1592.07 414.39,1591.39 414.50,1590.70 414.62,1590.02 414.73,1589.33 414.85,1588.65 414.96,1587.96 415.08,1587.28 415.19,1586.59 415.30,1585.90 415.42,1585.22 415.53,1584.53 415.64,1583.84 415.76,1583.16 415.87,1582.47 415.98,1581.78 416.09,1581.09 416.21,1580.41 416.32,1579.72 416.43,1579.03 416.54,1578.34 416.65,1577.65 416.76,1576.96 416.87,1576.27 416.98,1575.58 417.09,1574.89 417.20,1574.20 417.31,1573.51 417.42,1572.82 417.53,1572.13 417.64,1571.44 417.74,1570.74 417.85,1570.05 417.96,1569.36 418.07,1568.67 418.18,1567.98 418.28,1567.28 418.39,1566.59 418.50,1565.90 418.60,1565.20 418.71,1564.51 418.81,1563.81 418.92,1563.12 419.03,1562.43 419.13,1561.73 419.24,1561.04 419.34,1560.34 419.45,1559.65 419.55,1558.95 419.66,1558.26 419.76,1557.56 419.86,1556.86 419.97,1556.17 420.07,1555.47 420.17,1554.77 420.28,1554.08 420.38,1553.38 420.48,1552.68 420.58,1551.98 420.69,1551.29 420.79,1550.59 420.89,1549.89 420.99,1549.19 421.09,1548.49 421.19,1547.79 421.30,1547.10 421.40,1546.40 421.50,1545.70 421.60,1545.00 421.70,1544.30 421.80,1543.60 421.90,1542.90 422.00,1542.20 422.10,1541.50 422.20,1540.80 422.30,1540.10 422.40,1539.40 422.49,1538.69 422.59,1537.99 422.69,1537.29 422.79,1536.59 422.89,1535.89 422.99,1535.19 423.08,1534.48 423.18,1533.78 423.28,1533.08 423.38,1532.38 423.47,1531.67 423.57,1530.97 423.67,1530.27 423.77,1529.57 423.86,1528.86 423.96,1528.16 424.05,1527.45 424.15,1526.75 424.25,1526.05 424.34,1525.34 424.44,1524.64 424.53,1523.93 424.63,1523.23 424.72,1522.52 424.82,1521.82 424.92,1521.12 425.01,1520.41 425.11,1519.71 425.20,1519.00 425.29,1518.29 425.39,1517.59 425.48,1516.88 425.58,1516.18 425.67,1515.47 425.77,1514.77 425.86,1514.06 425.95,1513.35 426.05,1512.65 426.14,1511.94 426.23,1511.23 426.33,1510.53 426.42,1509.82 426.51,1509.11 426.60,1508.40 426.70,1507.70 426.79,1506.99 426.88,1506.28 426.98,1505.58 427.07,1504.87 427.16,1504.16 427.25,1503.45 427.34,1502.74 427.44,1502.04 427.53,1501.33 427.62,1500.62 427.71,1499.91 427.80,1499.20 427.89,1498.49 427.99,1497.79 428.08,1497.08 428.17,1496.37 428.26,1495.66 428.35,1494.95 428.44,1494.24 428.53,1493.53 428.62,1492.82 428.71,1492.11 428.80,1491.40 428.90,1490.70 428.99,1489.99 429.08,1489.28 429.17,1488.57 429.26,1487.86 429.35,1487.15 429.44,1486.44 429.53,1485.73 429.62,1485.02 429.71,1484.31 429.80,1483.60 429.89,1482.89 429.98,1482.18 430.07,1481.47 430.16,1480.76 430.25,1480.05 430.34,1479.34 430.43,1478.63 430.52,1477.92 430.61,1477.21 430.69,1476.49 430.78,1475.78 430.87,1475.07 430.96,1474.36 431.05,1473.65 431.14,1472.94 431.23,1472.23 431.32,1471.52 431.41,1470.81 431.50,1470.10 431.59,1469.39 431.68,1468.68 431.77,1467.97 431.85,1467.25 431.94,1466.54 432.03,1465.83 432.12,1465.12 432.21,1464.41 432.30,1463.70 432.39,1462.99 432.48,1462.28 432.57,1461.57 432.66,1460.86 432.74,1460.14 432.83,1459.43 432.92,1458.72 433.01,1458.01 433.10,1457.30 433.19,1456.59 433.28,1455.88 433.37,1455.17 433.45,1454.45 433.54,1453.74 433.63,1453.03 433.72,1452.32 433.81,1451.61 433.90,1450.90 433.99,1450.19 434.08,1449.48 434.17,1448.77 434.25,1448.05 434.34,1447.34 434.43,1446.63 434.52,1445.92 434.61,1445.21 434.70,1444.50 434.79,1443.79 434.88,1443.08 434.97,1442.37 435.06,1441.66 435.15,1440.95 435.24,1440.24 435.33,1439.53 435.42,1438.82 435.51,1438.11 435.60,1437.40 435.69,1436.69 435.78,1435.98 435.87,1435.27 435.96,1434.56 436.05,1433.85 436.14,1433.14 436.23,1432.43 436.32,1431.72 436.42,1431.02 436.51,1430.31 436.60,1429.60 436.69,1428.89 436.79,1428.19 436.88,1427.48 436.97,1426.77 437.07,1426.07 437.16,1425.36 437.26,1424.66 437.35,1423.95 437.45,1423.25 437.54,1422.54 437.64,1421.84 437.73,1421.13 437.83,1420.43 437.93,1419.73 438.02,1419.02 438.12,1418.32 438.22,1417.62 438.32,1416.92 438.42,1416.22 438.52,1415.52 438.62,1414.82 438.72,1414.12 438.82,1413.42 438.92,1412.72 439.02,1412.02 439.12,1411.32 439.22,1410.62 439.33,1409.93 439.43,1409.23 439.53,1408.53 439.64,1407.84 439.74,1407.14 439.85,1406.45 439.96,1405.76 440.06,1405.06 440.17,1404.37 440.28,1403.68 440.39,1402.99 440.49,1402.29 440.60,1401.60 440.71,1400.91 440.82,1400.22 440.94,1399.54 441.05,1398.85 441.16,1398.16 441.27,1397.47 441.39,1396.79 441.50,1396.10 441.62,1395.42 441.73,1394.73 441.85,1394.05 441.97,1393.37 442.09,1392.69 442.20,1392.00 442.32,1391.32 442.44,1390.64 442.57,1389.97 442.69,1389.29 442.81,1388.61 442.93,1387.93 443.06,1387.26 443.18,1386.58 443.31,1385.91 443.43,1385.23 443.56,1384.56 443.69,1383.89 443.82,1383.22 443.95,1382.55 444.08,1381.88 444.21,1381.21 444.34,1380.54 444.48,1379.88 444.61,1379.21 444.75,1378.55 444.88,1377.88 445.02,1377.22 445.16,1376.56 445.29,1375.89 445.43,1375.23 445.58,1374.58 445.72,1373.92 445.86,1373.26 446.00,1372.60 446.15,1371.95 446.29,1371.29 446.44,1370.64 446.59,1369.99 446.74,1369.34 446.88,1368.68 447.04,1368.04 447.19,1367.39 447.34,1366.74 447.49,1366.09 447.65,1365.45 447.80,1364.80 447.96,1364.16 448.12,1363.52 448.28,1362.88 448.44,1362.24 448.60,1361.60 448.76,1360.96 448.93,1360.33 449.09,1359.69 449.26,1359.06 449.42,1358.42 449.59,1357.79 449.76,1357.16 449.93,1356.53 450.10,1355.90 450.28,1355.28 450.45,1354.65 450.63,1354.03 450.80,1353.40 450.98,1352.78 451.16,1352.16 451.34,1351.54 451.52,1350.92 451.71,1350.31 451.89,1349.69 452.08,1349.08 452.26,1348.46 452.45,1347.85 452.64,1347.24 452.83,1346.63 453.02,1346.02 453.21,1345.41 453.41,1344.81 453.60,1344.20 453.80,1343.60 454.00,1343.00 454.20,1342.40 454.40,1341.80 454.60,1341.20 454.80,1340.60 455.01,1340.01 455.21,1339.41 455.42,1338.82 455.63,1338.23 455.84,1337.64 456.05,1337.05 456.26,1336.46 456.47,1335.87 456.69,1335.29 456.90,1334.70 457.12,1334.12 457.34,1333.54 457.56,1332.96 457.78,1332.38 458.00,1331.80 458.23,1331.23 458.45,1330.65 458.68,1330.08 458.90,1329.50 459.13,1328.93 459.36,1328.36 459.59,1327.79 459.83,1327.23 460.06,1326.66 460.30,1326.10 460.53,1325.53 460.77,1324.97 461.01,1324.41 461.25,1323.85 461.49,1323.29 461.74,1322.74 461.98,1322.18 462.23,1321.63 462.48,1321.08 462.72,1320.52 462.97,1319.97 463.23,1319.43 463.48,1318.88 463.73,1318.33 463.99,1317.79 464.25,1317.25 464.50,1316.70 464.76,1316.16 465.02,1315.62 465.29,1315.09 465.55,1314.55 465.82,1314.02 466.08,1313.48 466.35,1312.95 466.62,1312.42 466.89,1311.89 467.16,1311.36 467.44,1310.84 467.71,1310.31 467.99,1309.79 468.26,1309.26 468.54,1308.74 468.82,1308.22 469.10,1307.70 469.39,1307.19 469.67,1306.67 469.96,1306.16 470.25,1305.65 470.53,1305.13 470.82,1304.62 471.12,1304.12 471.41,1303.61 471.70,1303.10 472.00,1302.60 472.30,1302.10 472.59,1301.59 472.89,1301.09 473.20,1300.60 473.50,1300.10 473.80,1299.60 474.11,1299.11 474.42,1298.62 474.72,1298.12 475.04,1297.64 475.35,1297.15 475.66,1296.66 475.97,1296.17 476.29,1295.69 476.61,1295.21 476.93,1294.73 477.25,1294.25 477.57,1293.77 477.89,1293.29 478.22,1292.82 478.54,1292.34 478.87,1291.87 479.20,1291.40 479.53,1290.93 479.86,1290.46 480.20,1290.00 480.53,1289.53 480.87,1289.07 481.21,1288.61 481.54,1288.14 481.89,1287.69 482.23,1287.23 482.57,1286.77 482.92,1286.32 483.27,1285.87 483.62,1285.42 483.97,1284.97 484.32,1284.52 484.67,1284.07 485.03,1283.63 485.38,1283.18 485.74,1282.74 486.10,1282.30 486.46,1281.86 486.83,1281.43 487.19,1280.99 487.56,1280.56 487.93,1280.13 488.30,1279.70 488.67,1279.27 489.04,1278.84 489.42,1278.42 489.79,1277.99 490.17,1277.57 490.55,1277.15 490.93,1276.73 491.31,1276.31 491.70,1275.90 492.09,1275.49 492.47,1275.07 492.86,1274.66 493.25,1274.25 493.65,1273.85 494.04,1273.44 494.44,1273.04 494.84,1272.64 495.24,1272.24 495.64,1271.84 496.04,1271.44 496.45,1271.05 496.85,1270.65 497.26,1270.26 497.67,1269.87 498.08,1269.48 498.50,1269.10 498.91,1268.71 499.33,1268.33 499.75,1267.95 500.17,1267.57 500.59,1267.19 501.02,1266.82 501.44,1266.44 501.87,1266.07 502.30,1265.70 502.73,1265.33 503.17,1264.97 503.60,1264.60 504.04,1264.24 504.48,1263.88 504.92,1263.52 505.36,1263.16 505.81,1262.81 506.25,1262.45 506.70,1262.10 507.15,1261.75 507.60,1261.40 508.06,1261.06 508.51,1260.71 508.97,1260.37 509.43,1260.03 509.89,1259.69 510.35,1259.35 510.82,1259.02 511.28,1258.68 511.75,1258.35 512.22,1258.02 512.70,1257.70 513.17,1257.37 513.65,1257.05 514.13,1256.73 514.61,1256.41 515.09,1256.09 515.57,1255.77 516.06,1255.46 516.55,1255.15 517.04,1254.84 517.53,1254.53 518.02,1254.22 518.52,1253.92 519.02,1253.62 519.52,1253.32 520.02,1253.02 520.52,1252.72 521.03,1252.43 521.54,1252.14 522.05,1251.85 522.56,1251.56 523.07,1251.27 523.59,1250.99 524.11,1250.71 524.63,1250.43 525.15,1250.15 525.68,1249.88 526.20,1249.60 526.73,1249.33 527.26,1249.06 527.79,1248.79 528.33,1248.53 528.87,1248.27 529.40,1248.00 529.95,1247.75 530.49,1247.49 531.03,1247.23 531.58,1246.98 532.13,1246.73 532.68,1246.48 533.23,1246.23 533.79,1245.99 534.35,1245.75 534.90,1245.50 535.47,1245.27 536.03,1245.03 536.59,1244.79 537.16,1244.56 537.73,1244.33 538.30,1244.10 538.87,1243.87 539.45,1243.65 540.02,1243.42 540.60,1243.20 541.18,1242.98 541.76,1242.76 542.35,1242.55 542.93,1242.33 543.52,1242.12 544.11,1241.91 544.70,1241.70 545.30,1241.50 545.89,1241.29 546.49,1241.09 547.09,1240.89 547.69,1240.69 548.29,1240.49 548.89,1240.29 549.50,1240.10 550.11,1239.91 550.71,1239.71 551.33,1239.53 551.94,1239.34 552.55,1239.15 553.17,1238.97 553.79,1238.79 554.41,1238.61 555.03,1238.43 555.65,1238.25 556.27,1238.07 556.90,1237.90 557.53,1237.73 558.16,1237.56 558.79,1237.39 559.42,1237.22 560.05,1237.05 560.69,1236.89 561.33,1236.73 561.97,1236.57 562.61,1236.41 563.25,1236.25 563.89,1236.09 564.54,1235.94 565.19,1235.79 565.83,1235.63 566.48,1235.48 567.13,1235.33 567.79,1235.19 568.44,1235.04 569.10,1234.90 569.75,1234.75 570.41,1234.61 571.07,1234.47 571.73,1234.33 572.40,1234.20 573.06,1234.06 573.73,1233.93 574.40,1233.80 575.06,1233.66 575.73,1233.53 576.41,1233.41 577.08,1233.28 577.75,1233.15 578.43,1233.03 579.10,1232.90 579.78,1232.78 580.46,1232.66 581.14,1232.54 581.82,1232.42 582.51,1232.31 583.19,1232.19 583.88,1232.08 584.57,1231.97 585.25,1231.85 585.94,1231.74 586.64,1231.64 587.33,1231.53 588.02,1231.42 588.72,1231.32 589.41,1231.21 590.11,1231.11 590.81,1231.01 591.51,1230.91 592.21,1230.81 592.91,1230.71 593.61,1230.61 594.32,1230.52 595.02,1230.42 595.73,1230.33 596.44,1230.24 597.14,1230.14 597.85,1230.05 598.56,1229.96 599.28,1229.88 599.99,1229.79 600.70,1229.70 601.42,1229.62 602.13,1229.53 602.85,1229.45 603.57,1229.37 604.29,1229.29 605.01,1229.21 605.73,1229.13 606.45,1229.05 607.18,1228.98 607.90,1228.90 608.63,1228.83 609.35,1228.75 610.08,1228.68 610.81,1228.61 611.54,1228.54 612.27,1228.47 613.00,1228.40 613.73,1228.33 614.46,1228.26 615.19,1228.19 615.93,1228.13 616.66,1228.06 617.40,1228.00 618.14,1227.94 618.87,1227.87 619.61,1227.81 620.35,1227.75 621.09,1227.69 621.83,1227.63 622.57,1227.57 623.32,1227.52 624.06,1227.46 624.81,1227.41 625.55,1227.35 626.30,1227.30 627.04,1227.24 627.79,1227.19 628.54,1227.14 629.29,1227.09 630.03,1227.03 630.78,1226.98 631.54,1226.94 632.29,1226.89 633.04,1226.84 633.79,1226.79 634.54,1226.74 635.30,1226.70 636.05,1226.65 636.81,1226.61 637.56,1226.56 638.32,1226.52 639.08,1226.48 639.84,1226.44 640.59,1226.39 641.35,1226.35 642.11,1226.31 642.87,1226.27 643.63,1226.23 644.39,1226.19 645.15,1226.15 645.92,1226.12 646.68,1226.08 647.44,1226.04 648.21,1226.01 648.97,1225.97 649.73,1225.93 650.50,1225.90 651.26,1225.86 652.03,1225.83 652.80,1225.80 653.56,1225.76 654.33,1225.73 655.10,1225.70 655.86,1225.66 656.63,1225.63 657.40,1225.60 658.17,1225.57 658.94,1225.54 659.71,1225.51 660.48,1225.48 661.25,1225.45 662.02,1225.42 662.79,1225.39 663.56,1225.36 664.34,1225.34 665.11,1225.31 665.88,1225.28 666.65,1225.25 667.42,1225.22 668.20,1225.20 668.97,1225.17 669.74,1225.14 670.52,1225.12 671.29,1225.09 672.07,1225.07 672.84,1225.04 673.62,1225.02 674.39,1224.99 675.17,1224.97 675.94,1224.94 676.72,1224.92 677.49,1224.89 678.27,1224.87 679.04,1224.84 679.82,1224.82 680.59,1224.79 681.37,1224.77 682.15,1224.75 682.92,1224.72 683.70,1224.70 684.48,1224.68 685.25,1224.65 686.03,1224.63 686.80,1224.60 687.58,1224.58 688.36,1224.56 689.13,1224.53 689.91,1224.51 690.69,1224.49 691.46,1224.46 692.24,1224.44 693.02,1224.42 693.79,1224.39 694.57,1224.37 695.35,1224.35 696.12,1224.32 696.90,1224.30 697.67,1224.27 698.45,1224.25 699.23,1224.23 700.00,1224.20 700.78,1224.18 701.55,1224.15 702.33,1224.13 703.10,1224.10 703.88,1224.08 704.65,1224.05 705.43,1224.03 706.20,1224.00 706.98,1223.98 707.75,1223.95 708.53,1223.93 709.30,1223.90 710.07,1223.87 710.85,1223.85 711.62,1223.82 712.39,1223.79 713.16,1223.76 713.94,1223.74 714.71,1223.71 715.48,1223.68 716.25,1223.65 717.02,1223.62 717.79,1223.59 718.56,1223.56 719.33,1223.53 720.10,1223.50 720.87,1223.47 721.64,1223.44 722.41,1223.41 723.18,1223.38 723.95,1223.35 724.71,1223.31 725.48,1223.28 726.25,1223.25 727.01,1223.21 727.78,1223.18 728.54,1223.14 729.31,1223.11 730.07,1223.07 730.84,1223.04 731.60,1223.00 732.36,1222.96 733.13,1222.93 733.89,1222.89 734.65,1222.85 735.41,1222.81 736.17,1222.77 736.93,1222.73 737.69,1222.69 738.45,1222.65 739.21,1222.61 739.96,1222.56 740.72,1222.52 741.48,1222.48 742.23,1222.43 742.99,1222.39 743.74,1222.34 744.50,1222.30 744.97,1222.27" fill="none" stroke="#f42a2a" stroke-width="2.30" stroke-linejoin="round" stroke-linecap="round"/>
<path d="M107.0,1685.7 C110.6,1685.7 123.9,1686.0 128.6,1685.7 C133.2,1685.5 132.9,1684.9 134.9,1684.2 C136.9,1683.5 138.4,1682.7 140.4,1681.8 C142.4,1680.9 144.7,1679.5 146.7,1678.7 C148.7,1677.9 150.5,1677.1 152.2,1676.7 C153.9,1676.3 155.4,1676.1 157.0,1676.1 C158.6,1676.1 159.9,1676.5 161.7,1676.9 C163.5,1677.3 165.6,1677.9 167.9,1678.7 C170.2,1679.5 173.1,1680.8 175.7,1681.8 C178.3,1682.8 181.6,1684.3 183.6,1685.0 C185.6,1685.7 186.0,1686.0 187.6,1685.7 C189.2,1685.4 191.1,1684.2 193.1,1683.4 C195.1,1682.6 197.1,1681.4 199.4,1680.6 C201.8,1679.8 204.6,1678.8 207.2,1678.7 C209.8,1678.6 212.8,1679.5 215.1,1680.2 C217.4,1680.9 219.2,1682.0 221.3,1683.0 C223.4,1684.0 225.4,1686.3 227.6,1686.5 C229.8,1686.7 232.9,1684.5 234.7,1684.2 C236.5,1684.0 237.3,1684.5 238.6,1685.0 C239.9,1685.5 241.0,1686.2 242.6,1686.9 C244.2,1687.6 245.1,1688.9 248.1,1689.3 C251.1,1689.7 257.2,1689.9 260.7,1689.3 C264.2,1688.7 266.9,1686.0 269.3,1685.7 C271.7,1685.4 273.6,1687.3 275.0,1687.7 C276.4,1688.1 275.4,1688.0 277.9,1688.1 C280.3,1688.2 285.8,1688.6 289.7,1688.5 C293.6,1688.4 298.2,1688.0 301.5,1687.7 C304.8,1687.4 307.2,1686.9 309.4,1686.6 C311.6,1686.3 312.9,1685.9 314.9,1685.8 C316.9,1685.7 318.7,1686.0 321.2,1686.2 C323.7,1686.4 326.8,1686.8 330.0,1687.0 C333.2,1687.2 337.0,1687.5 340.7,1687.6 C344.4,1687.6 350.1,1687.3 352.0,1687.3 L352.02,1687.32 352.77,1687.27 353.50,1687.20 354.19,1687.09 354.86,1686.96 355.50,1686.80 356.12,1686.62 356.71,1686.41 357.28,1686.18 357.83,1685.93 358.35,1685.65 358.85,1685.35 359.33,1685.03 359.80,1684.70 360.24,1684.34 360.66,1683.96 361.07,1683.57 361.45,1683.15 361.83,1682.73 362.18,1682.28 362.53,1681.83 362.85,1681.35 363.17,1680.87 363.47,1680.37 363.76,1679.86 364.04,1679.34 364.31,1678.81 364.58,1678.28 364.83,1677.73 365.07,1677.17 365.31,1676.61 365.54,1676.04 365.77,1675.47 365.99,1674.89 366.21,1674.31 366.42,1673.72 366.62,1673.12 366.82,1672.52 367.01,1671.91 367.20,1671.30 367.39,1670.69 367.57,1670.07 367.75,1669.45 367.92,1668.82 368.08,1668.18 368.25,1667.55 368.41,1666.91 368.56,1666.26 368.71,1665.61 368.86,1664.96 369.01,1664.31 369.15,1663.65 369.29,1662.99 369.42,1662.32 369.55,1661.65 369.68,1660.98 369.81,1660.31 369.93,1659.63 370.05,1658.95 370.17,1658.27 370.29,1657.59 370.40,1656.90 370.52,1656.22 370.63,1655.53 370.74,1654.84 370.84,1654.14 370.95,1653.45 371.05,1652.75 371.16,1652.06 371.26,1651.36 371.36,1650.66 371.46,1649.96 371.56,1649.26 371.66,1648.56 371.76,1647.86 371.86,1647.16 371.96,1646.46 372.05,1645.75 372.15,1645.05 372.25,1644.35 372.35,1643.65 372.45,1642.95 372.54,1642.24 372.64,1641.54 372.74,1640.84 372.84,1640.14 372.94,1639.44 373.04,1638.74 373.14,1638.04 373.24,1637.34 373.34,1636.64 373.44,1635.94 373.54,1635.24 373.64,1634.54 373.74,1633.84 373.84,1633.14 373.94,1632.44 374.04,1631.74 374.14,1631.04 374.24,1630.34 374.35,1629.65 374.45,1628.95 374.55,1628.25 374.65,1627.55 374.75,1626.85 374.85,1626.15 374.95,1625.45 375.06,1624.76 375.16,1624.06 375.26,1623.36 375.36,1622.66 375.46,1621.96 375.57,1621.27 375.67,1620.57 375.77,1619.87 375.87,1619.17 375.98,1618.48 376.08,1617.78 376.18,1617.08 376.28,1616.38 376.38,1615.68 376.49,1614.99 376.59,1614.29 376.69,1613.59 376.79,1612.89 376.90,1612.20 377.00,1611.50 377.10,1610.80 377.20,1610.10 377.31,1609.41 377.41,1608.71 377.51,1608.01 377.61,1607.31 377.72,1606.62 377.82,1605.92 377.92,1605.22 378.02,1604.52 378.12,1603.82 378.23,1603.13 378.33,1602.43 378.43,1601.73 378.53,1601.03 378.63,1600.33 378.73,1599.63 378.84,1598.94 378.94,1598.24 379.04,1597.54 379.14,1596.84 379.24,1596.14 379.34,1595.44 379.44,1594.74 379.54,1594.04 379.64,1593.34 379.75,1592.65 379.85,1591.95 379.95,1591.25 380.05,1590.55 380.15,1589.85 380.25,1589.15 380.35,1588.45 380.45,1587.75 380.54,1587.04 380.64,1586.34 380.74,1585.64 380.84,1584.94 380.94,1584.24 381.04,1583.54 381.14,1582.84 381.24,1582.14 381.33,1581.43 381.43,1580.73 381.53,1580.03 381.63,1579.33 381.72,1578.62 381.82,1577.92 381.92,1577.22 382.01,1576.51 382.11,1575.81 382.21,1575.11 382.30,1574.40 382.40,1573.70 382.49,1572.99 382.59,1572.29 382.68,1571.58 382.78,1570.88 382.87,1570.17 382.97,1569.47 383.06,1568.76 383.15,1568.05 383.25,1567.35 383.34,1566.64 383.43,1565.93 383.52,1565.22 383.62,1564.52 383.71,1563.81 383.80,1563.10 383.89,1562.39 383.98,1561.68 384.07,1560.97 384.16,1560.26 384.25,1559.55 384.34,1558.84 384.43,1558.13 384.52,1557.42 384.61,1556.71 384.70,1556.00 384.79,1555.29 384.88,1554.58 384.97,1553.87 385.06,1553.16 385.14,1552.44 385.23,1551.73 385.32,1551.02 385.41,1550.31 385.49,1549.59 385.58,1548.88 385.67,1548.17 385.75,1547.45 385.84,1546.74 385.93,1546.03 386.01,1545.31 386.10,1544.60 386.18,1543.88 386.27,1543.17 386.35,1542.45 386.44,1541.74 386.52,1541.02 386.61,1540.31 386.69,1539.59 386.78,1538.88 386.86,1538.16 386.94,1537.44 387.03,1536.73 387.11,1536.01 387.19,1535.29 387.28,1534.58 387.36,1533.86 387.44,1533.14 387.53,1532.43 387.61,1531.71 387.69,1530.99 387.77,1530.27 387.86,1529.56 387.94,1528.84 388.02,1528.12 388.10,1527.40 388.18,1526.68 388.26,1525.96 388.34,1525.24 388.43,1524.53 388.51,1523.81 388.59,1523.09 388.67,1522.37 388.75,1521.65 388.83,1520.93 388.91,1520.21 388.99,1519.49 389.07,1518.77 389.15,1518.05 389.23,1517.33 389.31,1516.61 389.39,1515.89 389.47,1515.17 389.55,1514.45 389.63,1513.73 389.70,1513.00 389.78,1512.28 389.86,1511.56 389.94,1510.84 390.02,1510.12 390.10,1509.40 390.18,1508.68 390.26,1507.96 390.33,1507.23 390.41,1506.51 390.49,1505.79 390.57,1505.07 390.65,1504.35 390.72,1503.62 390.80,1502.90 390.88,1502.18 390.96,1501.46 391.04,1500.74 391.11,1500.01 391.19,1499.29 391.27,1498.57 391.35,1497.85 391.42,1497.12 391.50,1496.40 391.58,1495.68 391.66,1494.96 391.73,1494.23 391.81,1493.51 391.89,1492.79 391.96,1492.06 392.04,1491.34 392.12,1490.62 392.19,1489.89 392.27,1489.17 392.35,1488.45 392.43,1487.73 392.50,1487.00 392.58,1486.28 392.66,1485.56 392.73,1484.83 392.81,1484.11 392.89,1483.39 392.96,1482.66 393.04,1481.94 393.12,1481.22 393.19,1480.49 393.27,1479.77 393.35,1479.05 393.42,1478.32 393.50,1477.60 393.58,1476.88 393.65,1476.15 393.73,1475.43 393.81,1474.71 393.88,1473.98 393.96,1473.26 394.04,1472.54 394.11,1471.81 394.19,1471.09 394.27,1470.37 394.34,1469.64 394.42,1468.92 394.50,1468.20 394.58,1467.48 394.65,1466.75 394.73,1466.03 394.81,1465.31 394.88,1464.58 394.96,1463.86 395.04,1463.14 395.12,1462.42 395.19,1461.69 395.27,1460.97 395.35,1460.25 395.43,1459.53 395.50,1458.80 395.58,1458.08 395.66,1457.36 395.74,1456.64 395.81,1455.91 395.89,1455.19 395.97,1454.47 396.05,1453.75 396.13,1453.03 396.20,1452.30 396.28,1451.58 396.36,1450.86 396.44,1450.14 396.52,1449.42 396.60,1448.70 396.68,1447.98 396.75,1447.25 396.83,1446.53 396.91,1445.81 396.99,1445.09 397.07,1444.37 397.15,1443.65 397.23,1442.93 397.31,1442.21 397.39,1441.49 397.47,1440.77 397.55,1440.05 397.63,1439.33 397.71,1438.61 397.79,1437.89 397.87,1437.17 397.95,1436.45 398.03,1435.73 398.11,1435.01 398.19,1434.29 398.27,1433.57 398.35,1432.85 398.44,1432.14 398.52,1431.42 398.60,1430.70 398.68,1429.98 398.76,1429.26 398.84,1428.54 398.93,1427.83 399.01,1427.11 399.09,1426.39 399.17,1425.67 399.26,1424.96 399.34,1424.24 399.42,1423.52 399.51,1422.81 399.59,1422.09 399.68,1421.38 399.76,1420.66 399.85,1419.95 399.93,1419.23 400.02,1418.52 400.10,1417.80 400.19,1417.09 400.27,1416.37 400.36,1415.66 400.45,1414.95 400.53,1414.23 400.62,1413.52 400.71,1412.81 400.80,1412.10 400.89,1411.39 400.98,1410.68 401.07,1409.97 401.16,1409.26 401.25,1408.55 401.34,1407.84 401.43,1407.13 401.52,1406.42 401.61,1405.71 401.71,1405.01 401.80,1404.30 401.89,1403.59 401.99,1402.89 402.08,1402.18 402.18,1401.48 402.28,1400.78 402.37,1400.07 402.47,1399.37 402.57,1398.67 402.66,1397.96 402.76,1397.26 402.86,1396.56 402.96,1395.86 403.06,1395.16 403.16,1394.46 403.27,1393.77 403.37,1393.07 403.47,1392.37 403.57,1391.67 403.68,1390.98 403.78,1390.28 403.89,1389.59 404.00,1388.90 404.10,1388.20 404.21,1387.51 404.32,1386.82 404.43,1386.13 404.54,1385.44 404.65,1384.75 404.76,1384.06 404.87,1383.37 404.99,1382.69 405.10,1382.00 405.21,1381.31 405.33,1380.63 405.45,1379.95 405.56,1379.26 405.68,1378.58 405.80,1377.90 405.92,1377.22 406.04,1376.54 406.16,1375.86 406.28,1375.18 406.41,1374.51 406.53,1373.83 406.65,1373.15 406.78,1372.48 406.91,1371.81 407.03,1371.13 407.16,1370.46 407.29,1369.79 407.42,1369.12 407.55,1368.45 407.69,1367.79 407.82,1367.12 407.96,1366.46 408.09,1365.79 408.23,1365.13 408.36,1364.46 408.50,1363.80 408.64,1363.14 408.78,1362.48 408.93,1361.83 409.07,1361.17 409.21,1360.51 409.36,1359.86 409.50,1359.20 409.65,1358.55 409.80,1357.90 409.95,1357.25 410.10,1356.60 410.25,1355.95 410.40,1355.30 410.56,1354.66 410.71,1354.01 410.87,1353.37 411.03,1352.73 411.19,1352.09 411.35,1351.45 411.51,1350.81 411.67,1350.17 411.83,1349.53 412.00,1348.90 412.16,1348.26 412.33,1347.63 412.50,1347.00 412.67,1346.37 412.84,1345.74 413.01,1345.11 413.19,1344.49 413.36,1343.86 413.54,1343.24 413.72,1342.62 413.90,1342.00 414.08,1341.38 414.26,1340.76 414.44,1340.14 414.63,1339.53 414.82,1338.92 415.00,1338.30 415.19,1337.69 415.38,1337.08 415.57,1336.47 415.77,1335.87 415.96,1335.26 416.16,1334.66 416.36,1334.06 416.55,1333.45 416.75,1332.85 416.96,1332.26 417.16,1331.66 417.36,1331.06 417.57,1330.47 417.78,1329.88 417.98,1329.28 418.19,1328.69 418.41,1328.11 418.62,1327.52 418.83,1326.93 419.05,1326.35 419.27,1325.77 419.48,1325.18 419.70,1324.60 419.93,1324.03 420.15,1323.45 420.37,1322.87 420.60,1322.30 420.83,1321.73 421.06,1321.16 421.29,1320.59 421.52,1320.02 421.75,1319.45 421.99,1318.89 422.22,1318.32 422.46,1317.76 422.70,1317.20 422.94,1316.64 423.18,1316.08 423.43,1315.53 423.67,1314.97 423.92,1314.42 424.16,1313.86 424.41,1313.31 424.67,1312.77 424.92,1312.22 425.17,1311.67 425.43,1311.13 425.69,1310.59 425.94,1310.04 426.20,1309.50 426.47,1308.97 426.73,1308.43 426.99,1307.89 427.26,1307.36 427.53,1306.83 427.80,1306.30 428.07,1305.77 428.34,1305.24 428.62,1304.72 428.89,1304.19 429.17,1303.67 429.45,1303.15 429.73,1302.63 430.01,1302.11 430.29,1301.59 430.58,1301.08 430.87,1300.57 431.16,1300.06 431.45,1299.55 431.74,1299.04 432.03,1298.53 432.32,1298.02 432.62,1297.52 432.92,1297.02 433.22,1296.52 433.52,1296.02 433.82,1295.52 434.13,1295.03 434.43,1294.53 434.74,1294.04 435.05,1293.55 435.36,1293.06 435.67,1292.57 435.99,1292.09 436.30,1291.60 436.62,1291.12 436.94,1290.64 437.26,1290.16 437.58,1289.68 437.91,1289.21 438.23,1288.73 438.56,1288.26 438.89,1287.79 439.22,1287.32 439.55,1286.85 439.89,1286.39 440.22,1285.92 440.56,1285.46 440.90,1285.00 441.24,1284.54 441.58,1284.08 441.93,1283.63 442.27,1283.17 442.62,1282.72 442.97,1282.27 443.32,1281.82 443.68,1281.38 444.03,1280.93 444.39,1280.49 444.74,1280.04 445.10,1279.60 445.47,1279.17 445.83,1278.73 446.19,1278.29 446.56,1277.86 446.93,1277.43 447.30,1277.00 447.67,1276.57 448.04,1276.14 448.42,1275.72 448.80,1275.30 449.18,1274.88 449.56,1274.46 449.94,1274.04 450.32,1273.62 450.71,1273.21 451.10,1272.80 451.49,1272.39 451.88,1271.98 452.27,1271.57 452.67,1271.17 453.06,1270.76 453.46,1270.36 453.86,1269.96 454.26,1269.56 454.67,1269.17 455.07,1268.77 455.48,1268.38 455.89,1267.99 456.30,1267.60 456.71,1267.21 457.13,1266.83 457.55,1266.45 457.96,1266.06 458.38,1265.68 458.81,1265.31 459.23,1264.93 459.66,1264.56 460.08,1264.18 460.51,1263.81 460.94,1263.44 461.38,1263.08 461.81,1262.71 462.25,1262.35 462.69,1261.99 463.13,1261.63 463.57,1261.27 464.02,1260.92 464.46,1260.56 464.91,1260.21 465.36,1259.86 465.81,1259.51 466.27,1259.17 466.72,1258.82 467.18,1258.48 467.64,1258.14 468.10,1257.80 468.56,1257.46 469.03,1257.13 469.50,1256.80 469.96,1256.46 470.44,1256.14 470.91,1255.81 471.38,1255.48 471.86,1255.16 472.34,1254.84 472.82,1254.52 473.30,1254.20 473.79,1253.89 474.27,1253.57 474.76,1253.26 475.25,1252.95 475.74,1252.64 476.24,1252.34 476.73,1252.03 477.23,1251.73 477.73,1251.43 478.23,1251.13 478.74,1250.84 479.24,1250.54 479.75,1250.25 480.26,1249.96 480.77,1249.67 481.29,1249.39 481.80,1249.10 482.32,1248.82 482.84,1248.54 483.36,1248.26 483.89,1247.99 484.41,1247.71 484.94,1247.44 485.47,1247.17 486.00,1246.90 486.54,1246.64 487.07,1246.37 487.61,1246.11 488.15,1245.85 488.69,1245.59 489.23,1245.33 489.78,1245.08 490.32,1244.82 490.87,1244.57 491.42,1244.32 491.98,1244.08 492.53,1243.83 493.09,1243.59 493.65,1243.35 494.21,1243.11 494.77,1242.87 495.33,1242.63 495.90,1242.40 496.46,1242.16 497.03,1241.93 497.60,1241.70 498.18,1241.48 498.75,1241.25 499.33,1241.03 499.91,1240.81 500.48,1240.58 501.07,1240.37 501.65,1240.15 502.23,1239.93 502.82,1239.72 503.41,1239.51 504.00,1239.30 504.59,1239.09 505.19,1238.89 505.78,1238.68 506.38,1238.48 506.98,1238.28 507.58,1238.08 508.18,1237.88 508.78,1237.68 509.39,1237.49 509.99,1237.29 510.60,1237.10 511.21,1236.91 511.82,1236.72 512.44,1236.54 513.05,1236.35 513.67,1236.17 514.29,1235.99 514.91,1235.81 515.53,1235.63 516.15,1235.45 516.78,1235.28 517.40,1235.10 518.03,1234.93 518.66,1234.76 519.29,1234.59 519.92,1234.42 520.56,1234.26 521.19,1234.09 521.83,1233.93 522.47,1233.77 523.11,1233.61 523.75,1233.45 524.39,1233.29 525.04,1233.14 525.68,1232.98 526.33,1232.83 526.98,1232.68 527.63,1232.53 528.28,1232.38 528.94,1232.24 529.59,1232.09 530.25,1231.95 530.90,1231.80 531.56,1231.66 532.22,1231.52 532.88,1231.38 533.55,1231.25 534.21,1231.11 534.88,1230.98 535.54,1230.84 536.21,1230.71 536.88,1230.58 537.55,1230.45 538.23,1230.33 538.90,1230.20 539.58,1230.08 540.25,1229.95 540.93,1229.83 541.61,1229.71 542.29,1229.59 542.97,1229.47 543.66,1229.36 544.34,1229.24 545.03,1229.13 545.71,1229.01 546.40,1228.90 547.09,1228.79 547.78,1228.68 548.47,1228.57 549.17,1228.47 549.86,1228.36 550.56,1228.26 551.25,1228.15 551.95,1228.05 552.65,1227.95 553.35,1227.85 554.05,1227.75 554.75,1227.65 555.46,1227.56 556.16,1227.46 556.87,1227.37 557.58,1227.28 558.29,1227.19 559.00,1227.10 559.71,1227.01 560.42,1226.92 561.13,1226.83 561.84,1226.74 562.56,1226.66 563.28,1226.58 563.99,1226.49 564.71,1226.41 565.43,1226.33 566.15,1226.25 566.87,1226.17 567.60,1226.10 568.32,1226.02 569.05,1225.95 569.77,1225.87 570.50,1225.80 571.23,1225.73 571.95,1225.65 572.68,1225.58 573.42,1225.52 574.15,1225.45 574.88,1225.38 575.61,1225.31 576.35,1225.25 577.08,1225.18 577.82,1225.12 578.56,1225.06 579.30,1225.00 580.04,1224.94 580.78,1224.88 581.52,1224.82 582.26,1224.76 583.00,1224.70 583.75,1224.65 584.49,1224.59 585.24,1224.54 585.98,1224.48 586.73,1224.43 587.48,1224.38 588.23,1224.33 588.98,1224.28 589.73,1224.23 590.48,1224.18 591.24,1224.14 591.99,1224.09 592.74,1224.04 593.50,1224.00 594.25,1223.95 595.01,1223.91 595.77,1223.87 596.53,1223.83 597.29,1223.79 598.04,1223.74 598.81,1223.71 599.57,1223.67 600.33,1223.63 601.09,1223.59 601.85,1223.55 602.62,1223.52 603.38,1223.48 604.15,1223.45 604.92,1223.42 605.68,1223.38 606.45,1223.35 607.22,1223.32 607.99,1223.29 608.76,1223.26 609.53,1223.23 610.30,1223.20 611.07,1223.17 611.84,1223.14 612.62,1223.12 613.39,1223.09 614.16,1223.06 614.94,1223.04 615.71,1223.01 616.49,1222.99 617.27,1222.97 618.04,1222.94 618.82,1222.92 619.60,1222.90 620.38,1222.88 621.16,1222.86 621.94,1222.84 622.72,1222.82 623.50,1222.80 624.28,1222.78 625.06,1222.76 625.84,1222.74 626.63,1222.73 627.41,1222.71 628.20,1222.70 628.98,1222.68 629.76,1222.66 630.55,1222.65 631.34,1222.64 632.12,1222.62 632.91,1222.61 633.70,1222.60 634.48,1222.58 635.27,1222.57 636.06,1222.56 636.85,1222.55 637.64,1222.54 638.43,1222.53 639.22,1222.52 640.01,1222.51 640.80,1222.50 641.59,1222.49 642.38,1222.48 643.18,1222.48 643.97,1222.47 644.76,1222.46 645.55,1222.45 646.35,1222.45 647.14,1222.44 647.94,1222.44 648.73,1222.43 649.52,1222.42 650.32,1222.42 651.12,1222.42 651.91,1222.41 652.71,1222.41 653.50,1222.40 654.30,1222.40 655.10,1222.40 655.89,1222.39 656.69,1222.39 657.49,1222.39 658.28,1222.38 659.08,1222.38 659.88,1222.38 660.68,1222.38 661.48,1222.38 662.28,1222.38 663.07,1222.37 663.87,1222.37 664.67,1222.37 665.47,1222.37 666.27,1222.37 667.07,1222.37 667.87,1222.37 668.67,1222.37 669.47,1222.37 670.27,1222.37 671.07,1222.37 671.87,1222.37 672.67,1222.37 673.47,1222.37 674.27,1222.37 675.07,1222.37 675.87,1222.37 676.68,1222.38 677.48,1222.38 678.28,1222.38 679.08,1222.38 679.88,1222.38 680.68,1222.38 681.48,1222.38 682.28,1222.38 683.08,1222.38 683.88,1222.38 684.69,1222.39 685.49,1222.39 686.29,1222.39 687.09,1222.39 687.89,1222.39 688.69,1222.39 689.29,1222.39" fill="none" stroke="#1260dc" stroke-width="2.30" stroke-linejoin="round" stroke-linecap="round"/>
<rect x="107.0" y="1175.9" width="638.8" height="514.6" fill="none" stroke="#000" stroke-width="2"/>
<path d="M97.0,1685.90H107.0M102.0,1639.54H107.0M97.0,1593.18H107.0M102.0,1546.82H107.0M97.0,1500.46H107.0M102.0,1454.10H107.0M97.0,1407.74H107.0M102.0,1361.38H107.0M97.0,1315.02H107.0M102.0,1268.66H107.0M97.0,1222.30H107.0M102.0,1175.94H107.0M107.00,1690.5V1700.5M186.85,1690.5V1695.5M266.70,1690.5V1700.5M346.55,1690.5V1695.5M426.40,1690.5V1700.5M506.25,1690.5V1695.5M586.10,1690.5V1700.5M665.95,1690.5V1695.5M745.80,1690.5V1700.5" stroke="#000" stroke-width="2" fill="none"/>
<g transform="translate(90.00,1692.20) scale(1,1.030)"><text x="0" y="0" font-size="22" text-anchor="end">0.0</text></g>
<g transform="translate(90.00,1599.48) scale(1,1.030)"><text x="0" y="0" font-size="22" text-anchor="end">0.2</text></g>
<g transform="translate(90.00,1506.76) scale(1,1.030)"><text x="0" y="0" font-size="22" text-anchor="end">0.4</text></g>
<g transform="translate(90.00,1414.04) scale(1,1.030)"><text x="0" y="0" font-size="22" text-anchor="end">0.6</text></g>
<g transform="translate(90.00,1321.32) scale(1,1.030)"><text x="0" y="0" font-size="22" text-anchor="end">0.8</text></g>
<g transform="translate(90.00,1228.60) scale(1,1.030)"><text x="0" y="0" font-size="22" text-anchor="end">1.0</text><rect x="-30.28" y="-1.85" width="5.20" height="2.9" fill="#fff"/><rect x="-23.08" y="-1.85" width="4.40" height="2.9" fill="#fff"/></g>
<g transform="translate(107.00,1724.44) scale(1,1.030)"><text x="0" y="0" font-size="22" text-anchor="middle">0.0</text></g>
<g transform="translate(266.70,1724.44) scale(1,1.030)"><text x="0" y="0" font-size="22" text-anchor="middle">0.5</text></g>
<g transform="translate(426.40,1724.44) scale(1,1.030)"><text x="0" y="0" font-size="22" text-anchor="middle">1.0</text><rect x="-14.99" y="-1.85" width="5.20" height="2.9" fill="#fff"/><rect x="-7.79" y="-1.85" width="4.40" height="2.9" fill="#fff"/></g>
<g transform="translate(586.10,1724.44) scale(1,1.030)"><text x="0" y="0" font-size="22" text-anchor="middle">1.5</text><rect x="-14.99" y="-1.85" width="5.20" height="2.9" fill="#fff"/><rect x="-7.79" y="-1.85" width="4.40" height="2.9" fill="#fff"/></g>
<g transform="translate(745.80,1724.44) scale(1,1.030)"><text x="0" y="0" font-size="22" text-anchor="middle">2.0</text></g>
<text x="119.4" y="1218.2" font-size="36.5">(c)</text>
<text transform="translate(25,867.2) rotate(-90)" font-size="31.85" text-anchor="middle">Normalized Absorbance (265 nm)</text>
<text x="426" y="1772.3" font-size="34.3" text-anchor="middle">Time (min)</text>
</svg></body></html>
